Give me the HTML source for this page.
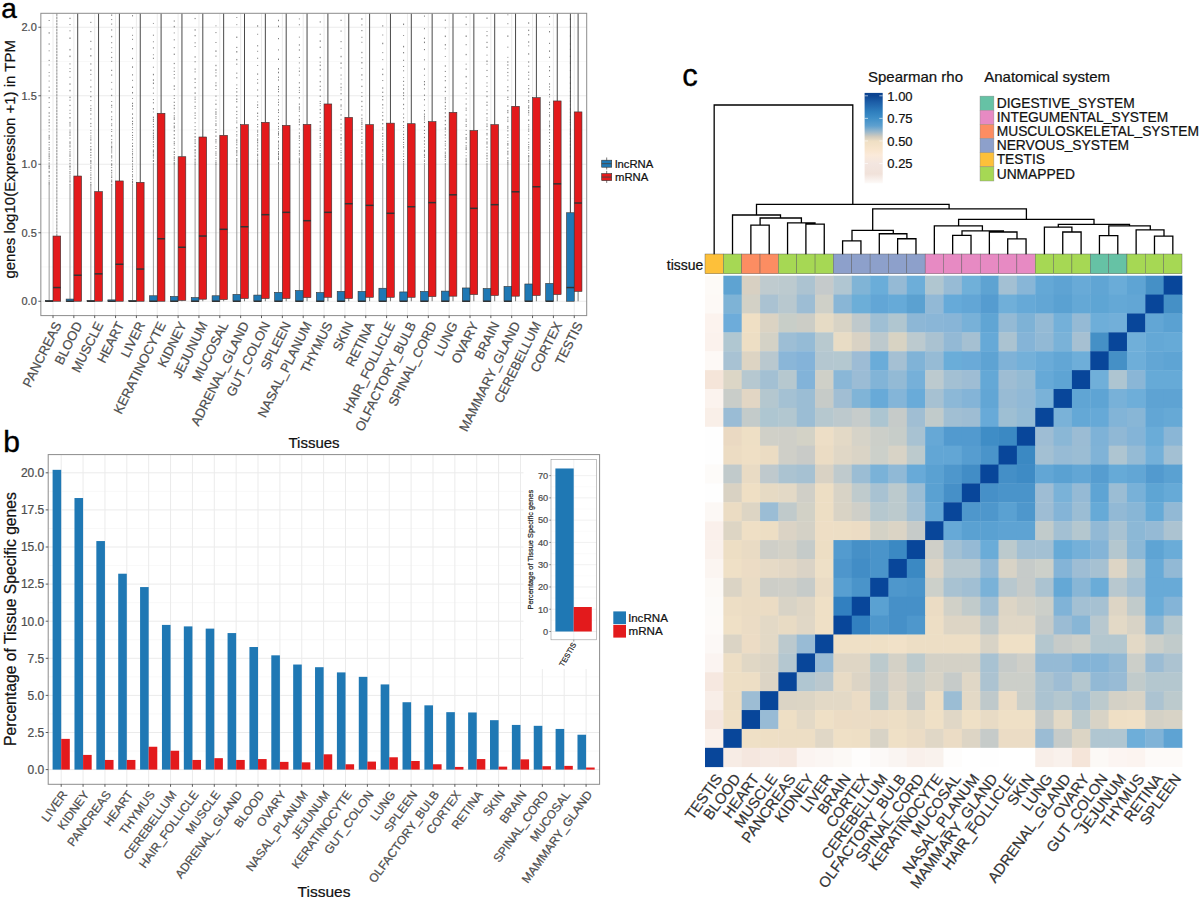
<!DOCTYPE html>
<html><head><meta charset="utf-8"><style>
html,body{margin:0;padding:0;background:#fff;width:1200px;height:900px;overflow:hidden}
svg{display:block}
text{font-family:"Liberation Sans", sans-serif}
</style></head><body>
<svg width="1200" height="900" viewBox="0 0 1200 900">
<rect width="1200" height="900" fill="#fff"/>
<rect x="40.85" y="13.3" width="545.85" height="302.3" fill="#fff"/>
<line x1="40.85" x2="586.7" y1="267" y2="267" stroke="#f4f4f4" stroke-width="0.6"/>
<line x1="40.85" x2="586.7" y1="198.5" y2="198.5" stroke="#f4f4f4" stroke-width="0.6"/>
<line x1="40.85" x2="586.7" y1="130" y2="130" stroke="#f4f4f4" stroke-width="0.6"/>
<line x1="40.85" x2="586.7" y1="61.5" y2="61.5" stroke="#f4f4f4" stroke-width="0.6"/>
<line x1="40.85" x2="586.7" y1="301.25" y2="301.25" stroke="#ebebeb" stroke-width="1"/>
<line x1="40.85" x2="586.7" y1="232.75" y2="232.75" stroke="#ebebeb" stroke-width="1"/>
<line x1="40.85" x2="586.7" y1="164.25" y2="164.25" stroke="#ebebeb" stroke-width="1"/>
<line x1="40.85" x2="586.7" y1="95.75" y2="95.75" stroke="#ebebeb" stroke-width="1"/>
<line x1="40.85" x2="586.7" y1="27.25" y2="27.25" stroke="#ebebeb" stroke-width="1"/>
<line x1="53" x2="53" y1="13.3" y2="315.6" stroke="#ebebeb" stroke-width="1"/>
<line x1="73.85" x2="73.85" y1="13.3" y2="315.6" stroke="#ebebeb" stroke-width="1"/>
<line x1="94.7" x2="94.7" y1="13.3" y2="315.6" stroke="#ebebeb" stroke-width="1"/>
<line x1="115.55" x2="115.55" y1="13.3" y2="315.6" stroke="#ebebeb" stroke-width="1"/>
<line x1="136.4" x2="136.4" y1="13.3" y2="315.6" stroke="#ebebeb" stroke-width="1"/>
<line x1="157.25" x2="157.25" y1="13.3" y2="315.6" stroke="#ebebeb" stroke-width="1"/>
<line x1="178.1" x2="178.1" y1="13.3" y2="315.6" stroke="#ebebeb" stroke-width="1"/>
<line x1="198.95" x2="198.95" y1="13.3" y2="315.6" stroke="#ebebeb" stroke-width="1"/>
<line x1="219.8" x2="219.8" y1="13.3" y2="315.6" stroke="#ebebeb" stroke-width="1"/>
<line x1="240.65" x2="240.65" y1="13.3" y2="315.6" stroke="#ebebeb" stroke-width="1"/>
<line x1="261.5" x2="261.5" y1="13.3" y2="315.6" stroke="#ebebeb" stroke-width="1"/>
<line x1="282.35" x2="282.35" y1="13.3" y2="315.6" stroke="#ebebeb" stroke-width="1"/>
<line x1="303.2" x2="303.2" y1="13.3" y2="315.6" stroke="#ebebeb" stroke-width="1"/>
<line x1="324.05" x2="324.05" y1="13.3" y2="315.6" stroke="#ebebeb" stroke-width="1"/>
<line x1="344.9" x2="344.9" y1="13.3" y2="315.6" stroke="#ebebeb" stroke-width="1"/>
<line x1="365.75" x2="365.75" y1="13.3" y2="315.6" stroke="#ebebeb" stroke-width="1"/>
<line x1="386.6" x2="386.6" y1="13.3" y2="315.6" stroke="#ebebeb" stroke-width="1"/>
<line x1="407.45" x2="407.45" y1="13.3" y2="315.6" stroke="#ebebeb" stroke-width="1"/>
<line x1="428.3" x2="428.3" y1="13.3" y2="315.6" stroke="#ebebeb" stroke-width="1"/>
<line x1="449.15" x2="449.15" y1="13.3" y2="315.6" stroke="#ebebeb" stroke-width="1"/>
<line x1="470" x2="470" y1="13.3" y2="315.6" stroke="#ebebeb" stroke-width="1"/>
<line x1="490.85" x2="490.85" y1="13.3" y2="315.6" stroke="#ebebeb" stroke-width="1"/>
<line x1="511.7" x2="511.7" y1="13.3" y2="315.6" stroke="#ebebeb" stroke-width="1"/>
<line x1="532.55" x2="532.55" y1="13.3" y2="315.6" stroke="#ebebeb" stroke-width="1"/>
<line x1="553.4" x2="553.4" y1="13.3" y2="315.6" stroke="#ebebeb" stroke-width="1"/>
<line x1="574.25" x2="574.25" y1="13.3" y2="315.6" stroke="#ebebeb" stroke-width="1"/>
<line x1="49.15" x2="49.15" y1="300.98" y2="184.8" stroke="#8f8f8f" stroke-width="0.9"/>
<rect x="48.65" y="183.8" width="1" height="1.06" fill="#7a7a7a"/>
<rect x="48.65" y="182.57" width="1" height="1.32" fill="#7a7a7a"/>
<rect x="48.65" y="181.52" width="1" height="1.23" fill="#7a7a7a"/>
<rect x="48.65" y="179.83" width="1" height="0.85" fill="#7a7a7a"/>
<rect x="48.65" y="177.83" width="1" height="0.83" fill="#7a7a7a"/>
<rect x="48.65" y="176" width="1" height="0.86" fill="#7a7a7a"/>
<rect x="48.65" y="174.9" width="1" height="1.14" fill="#7a7a7a"/>
<rect x="48.65" y="172.21" width="1" height="0.9" fill="#7a7a7a"/>
<rect x="48.65" y="170.83" width="1" height="1.3" fill="#7a7a7a"/>
<rect x="48.65" y="167.88" width="1" height="1.26" fill="#7a7a7a"/>
<rect x="48.65" y="166.13" width="1" height="1.58" fill="#7a7a7a"/>
<rect x="48.65" y="165.13" width="1" height="1.49" fill="#7a7a7a"/>
<rect x="48.65" y="163.6" width="1" height="0.92" fill="#7a7a7a"/>
<rect x="48.65" y="162.45" width="1" height="1.05" fill="#7a7a7a"/>
<rect x="48.65" y="159.77" width="1" height="0.94" fill="#7a7a7a"/>
<rect x="48.65" y="157.57" width="1" height="1.31" fill="#7a7a7a"/>
<rect x="48.65" y="155.79" width="1" height="1.24" fill="#7a7a7a"/>
<rect x="48.65" y="154.7" width="1" height="0.85" fill="#7a7a7a"/>
<rect x="48.65" y="153.27" width="1" height="1.34" fill="#7a7a7a"/>
<rect x="48.65" y="151.29" width="1" height="1.05" fill="#7a7a7a"/>
<rect x="48.65" y="148.9" width="1" height="1.16" fill="#7a7a7a"/>
<rect x="48.65" y="147.15" width="1" height="1.44" fill="#7a7a7a"/>
<rect x="48.65" y="144.35" width="1" height="1" fill="#7a7a7a"/>
<rect x="48.65" y="141.78" width="1" height="1.22" fill="#7a7a7a"/>
<rect x="48.65" y="138.32" width="1" height="1.38" fill="#7a7a7a"/>
<rect x="48.65" y="136.35" width="1" height="1.58" fill="#7a7a7a"/>
<rect x="48.65" y="134.81" width="1" height="1.13" fill="#7a7a7a"/>
<rect x="48.65" y="131.36" width="1" height="0.92" fill="#7a7a7a"/>
<rect x="48.65" y="128.58" width="1" height="0.83" fill="#7a7a7a"/>
<rect x="48.65" y="125.11" width="1" height="1.41" fill="#7a7a7a"/>
<rect x="48.65" y="121.79" width="1" height="1.5" fill="#7a7a7a"/>
<rect x="48.65" y="119.23" width="1" height="1.36" fill="#7a7a7a"/>
<rect x="48.65" y="115.56" width="1" height="1.26" fill="#7a7a7a"/>
<rect x="48.65" y="112.23" width="1" height="1.47" fill="#7a7a7a"/>
<rect x="48.65" y="106.81" width="1" height="1.18" fill="#7a7a7a"/>
<rect x="48.65" y="102.19" width="1" height="0.85" fill="#7a7a7a"/>
<rect x="48.65" y="97.11" width="1" height="1.32" fill="#7a7a7a"/>
<rect x="48.65" y="90.29" width="1" height="1.46" fill="#7a7a7a"/>
<rect x="48.65" y="86.61" width="1" height="1.11" fill="#7a7a7a"/>
<rect x="48.65" y="80.65" width="1" height="0.82" fill="#7a7a7a"/>
<rect x="48.65" y="75.49" width="1" height="0.93" fill="#7a7a7a"/>
<rect x="48.65" y="72.17" width="1" height="0.85" fill="#7a7a7a"/>
<rect x="48.65" y="64.51" width="1" height="0.9" fill="#7a7a7a"/>
<rect x="48.65" y="59.86" width="1" height="1.11" fill="#7a7a7a"/>
<rect x="48.65" y="50.4" width="1" height="0.86" fill="#7a7a7a"/>
<rect x="48.65" y="43.41" width="1" height="1.24" fill="#7a7a7a"/>
<rect x="48.65" y="32.2" width="1" height="1.46" fill="#7a7a7a"/>
<rect x="48.65" y="19.98" width="1" height="1.02" fill="#7a7a7a"/>
<line x1="56.85" x2="56.85" y1="236.04" y2="13.3" stroke="#8a8a8a" stroke-width="1" stroke-dasharray="2.5 0.6"/>
<rect x="45.3" y="300.45" width="7.7" height="0.8" fill="#1f78b4" stroke="#333" stroke-width="0.6"/>
<line x1="45.3" x2="53" y1="301.25" y2="301.25" stroke="#333" stroke-width="1.5"/>
<rect x="53" y="236.04" width="7.7" height="65.21" fill="#e31a1c" stroke="#333" stroke-width="0.6"/>
<line x1="53" x2="60.7" y1="287.55" y2="287.55" stroke="#333" stroke-width="1.5"/>
<line x1="70" x2="70" y1="299.06" y2="184.8" stroke="#8f8f8f" stroke-width="0.9"/>
<rect x="69.5" y="183.8" width="1" height="1.09" fill="#7a7a7a"/>
<rect x="69.5" y="180.99" width="1" height="1.57" fill="#7a7a7a"/>
<rect x="69.5" y="179.76" width="1" height="0.94" fill="#7a7a7a"/>
<rect x="69.5" y="178.36" width="1" height="0.99" fill="#7a7a7a"/>
<rect x="69.5" y="176.42" width="1" height="1.27" fill="#7a7a7a"/>
<rect x="69.5" y="174.95" width="1" height="0.8" fill="#7a7a7a"/>
<rect x="69.5" y="173.14" width="1" height="1.1" fill="#7a7a7a"/>
<rect x="69.5" y="171.02" width="1" height="1.56" fill="#7a7a7a"/>
<rect x="69.5" y="168.63" width="1" height="1.21" fill="#7a7a7a"/>
<rect x="69.5" y="166.39" width="1" height="1.34" fill="#7a7a7a"/>
<rect x="69.5" y="165.38" width="1" height="1.52" fill="#7a7a7a"/>
<rect x="69.5" y="162.79" width="1" height="1.5" fill="#7a7a7a"/>
<rect x="69.5" y="160.16" width="1" height="1.11" fill="#7a7a7a"/>
<rect x="69.5" y="158.36" width="1" height="0.88" fill="#7a7a7a"/>
<rect x="69.5" y="156.02" width="1" height="0.85" fill="#7a7a7a"/>
<rect x="69.5" y="154.92" width="1" height="0.97" fill="#7a7a7a"/>
<rect x="69.5" y="153.59" width="1" height="1.07" fill="#7a7a7a"/>
<rect x="69.5" y="152.5" width="1" height="0.8" fill="#7a7a7a"/>
<rect x="69.5" y="151.16" width="1" height="0.88" fill="#7a7a7a"/>
<rect x="69.5" y="149.29" width="1" height="0.82" fill="#7a7a7a"/>
<rect x="69.5" y="146.14" width="1" height="1.29" fill="#7a7a7a"/>
<rect x="69.5" y="144.71" width="1" height="1" fill="#7a7a7a"/>
<rect x="69.5" y="142.74" width="1" height="1.09" fill="#7a7a7a"/>
<rect x="69.5" y="141.31" width="1" height="1.48" fill="#7a7a7a"/>
<rect x="69.5" y="137.51" width="1" height="1.17" fill="#7a7a7a"/>
<rect x="69.5" y="134.96" width="1" height="0.87" fill="#7a7a7a"/>
<rect x="69.5" y="133.44" width="1" height="1.07" fill="#7a7a7a"/>
<rect x="69.5" y="131.4" width="1" height="1.46" fill="#7a7a7a"/>
<rect x="69.5" y="129.62" width="1" height="0.82" fill="#7a7a7a"/>
<rect x="69.5" y="125.31" width="1" height="1.22" fill="#7a7a7a"/>
<rect x="69.5" y="123.43" width="1" height="1.23" fill="#7a7a7a"/>
<rect x="69.5" y="121.91" width="1" height="1.22" fill="#7a7a7a"/>
<rect x="69.5" y="117.03" width="1" height="1.49" fill="#7a7a7a"/>
<rect x="69.5" y="112.87" width="1" height="1.01" fill="#7a7a7a"/>
<rect x="69.5" y="109.77" width="1" height="0.93" fill="#7a7a7a"/>
<rect x="69.5" y="104.88" width="1" height="1.23" fill="#7a7a7a"/>
<rect x="69.5" y="99.64" width="1" height="1.06" fill="#7a7a7a"/>
<rect x="69.5" y="96.64" width="1" height="1.45" fill="#7a7a7a"/>
<rect x="69.5" y="89.82" width="1" height="1.48" fill="#7a7a7a"/>
<rect x="69.5" y="83.36" width="1" height="1.45" fill="#7a7a7a"/>
<rect x="69.5" y="76.77" width="1" height="0.98" fill="#7a7a7a"/>
<rect x="69.5" y="71.03" width="1" height="1.08" fill="#7a7a7a"/>
<rect x="69.5" y="68.12" width="1" height="0.82" fill="#7a7a7a"/>
<rect x="69.5" y="63.42" width="1" height="1.01" fill="#7a7a7a"/>
<rect x="69.5" y="55.56" width="1" height="1.57" fill="#7a7a7a"/>
<rect x="69.5" y="48.94" width="1" height="1.55" fill="#7a7a7a"/>
<rect x="69.5" y="37.44" width="1" height="1.56" fill="#7a7a7a"/>
<rect x="69.5" y="30.33" width="1" height="0.98" fill="#7a7a7a"/>
<rect x="69.5" y="24.09" width="1" height="0.96" fill="#7a7a7a"/>
<rect x="69.5" y="17.73" width="1" height="1.3" fill="#7a7a7a"/>
<line x1="77.7" x2="77.7" y1="176.03" y2="13.3" stroke="#4a4a4a" stroke-width="1"/>
<rect x="66.15" y="299.06" width="7.7" height="2.19" fill="#1f78b4" stroke="#333" stroke-width="0.6"/>
<line x1="66.15" x2="73.85" y1="301.25" y2="301.25" stroke="#333" stroke-width="1.5"/>
<rect x="73.85" y="176.03" width="7.7" height="125.22" fill="#e31a1c" stroke="#333" stroke-width="0.6"/>
<line x1="73.85" x2="81.55" y1="275.22" y2="275.22" stroke="#333" stroke-width="1.5"/>
<line x1="90.85" x2="90.85" y1="300.84" y2="184.8" stroke="#8f8f8f" stroke-width="0.9"/>
<rect x="90.35" y="183.8" width="1" height="1.47" fill="#7a7a7a"/>
<rect x="90.35" y="181.86" width="1" height="1.32" fill="#7a7a7a"/>
<rect x="90.35" y="179.24" width="1" height="0.87" fill="#7a7a7a"/>
<rect x="90.35" y="176.91" width="1" height="1.53" fill="#7a7a7a"/>
<rect x="90.35" y="174.32" width="1" height="1.4" fill="#7a7a7a"/>
<rect x="90.35" y="172.39" width="1" height="0.94" fill="#7a7a7a"/>
<rect x="90.35" y="169.78" width="1" height="1.07" fill="#7a7a7a"/>
<rect x="90.35" y="167.15" width="1" height="1.58" fill="#7a7a7a"/>
<rect x="90.35" y="165.4" width="1" height="1.12" fill="#7a7a7a"/>
<rect x="90.35" y="162.45" width="1" height="1.38" fill="#7a7a7a"/>
<rect x="90.35" y="161.18" width="1" height="0.9" fill="#7a7a7a"/>
<rect x="90.35" y="159.94" width="1" height="1.52" fill="#7a7a7a"/>
<rect x="90.35" y="157.24" width="1" height="0.92" fill="#7a7a7a"/>
<rect x="90.35" y="154.45" width="1" height="1.58" fill="#7a7a7a"/>
<rect x="90.35" y="151.97" width="1" height="1.08" fill="#7a7a7a"/>
<rect x="90.35" y="149.68" width="1" height="0.9" fill="#7a7a7a"/>
<rect x="90.35" y="148.63" width="1" height="1.58" fill="#7a7a7a"/>
<rect x="90.35" y="146.01" width="1" height="1.22" fill="#7a7a7a"/>
<rect x="90.35" y="142.58" width="1" height="1.15" fill="#7a7a7a"/>
<rect x="90.35" y="139.16" width="1" height="1.46" fill="#7a7a7a"/>
<rect x="90.35" y="137.42" width="1" height="1" fill="#7a7a7a"/>
<rect x="90.35" y="135.41" width="1" height="0.99" fill="#7a7a7a"/>
<rect x="90.35" y="132.49" width="1" height="1.01" fill="#7a7a7a"/>
<rect x="90.35" y="129.96" width="1" height="0.9" fill="#7a7a7a"/>
<rect x="90.35" y="125.79" width="1" height="1.08" fill="#7a7a7a"/>
<rect x="90.35" y="122.89" width="1" height="1.27" fill="#7a7a7a"/>
<rect x="90.35" y="118.33" width="1" height="1.14" fill="#7a7a7a"/>
<rect x="90.35" y="113.43" width="1" height="1.2" fill="#7a7a7a"/>
<rect x="90.35" y="109.71" width="1" height="1.22" fill="#7a7a7a"/>
<rect x="90.35" y="107.91" width="1" height="1.15" fill="#7a7a7a"/>
<rect x="90.35" y="105.38" width="1" height="0.8" fill="#7a7a7a"/>
<rect x="90.35" y="100.09" width="1" height="0.94" fill="#7a7a7a"/>
<rect x="90.35" y="95.94" width="1" height="1.38" fill="#7a7a7a"/>
<rect x="90.35" y="91.16" width="1" height="1.06" fill="#7a7a7a"/>
<rect x="90.35" y="86.3" width="1" height="1.24" fill="#7a7a7a"/>
<rect x="90.35" y="79.69" width="1" height="0.88" fill="#7a7a7a"/>
<rect x="90.35" y="73.88" width="1" height="1" fill="#7a7a7a"/>
<rect x="90.35" y="69.49" width="1" height="1.42" fill="#7a7a7a"/>
<rect x="90.35" y="63.34" width="1" height="1.25" fill="#7a7a7a"/>
<rect x="90.35" y="55" width="1" height="1.53" fill="#7a7a7a"/>
<rect x="90.35" y="48.36" width="1" height="1.29" fill="#7a7a7a"/>
<rect x="90.35" y="40.77" width="1" height="1.21" fill="#7a7a7a"/>
<rect x="90.35" y="30.97" width="1" height="1.16" fill="#7a7a7a"/>
<rect x="90.35" y="21.81" width="1" height="1.18" fill="#7a7a7a"/>
<line x1="98.55" x2="98.55" y1="191.65" y2="13.3" stroke="#4a4a4a" stroke-width="1"/>
<rect x="87" y="300.45" width="7.7" height="0.8" fill="#1f78b4" stroke="#333" stroke-width="0.6"/>
<line x1="87" x2="94.7" y1="301.25" y2="301.25" stroke="#333" stroke-width="1.5"/>
<rect x="94.7" y="191.65" width="7.7" height="109.6" fill="#e31a1c" stroke="#333" stroke-width="0.6"/>
<line x1="94.7" x2="102.4" y1="273.85" y2="273.85" stroke="#333" stroke-width="1.5"/>
<line x1="111.7" x2="111.7" y1="299.88" y2="184.8" stroke="#8f8f8f" stroke-width="0.9"/>
<rect x="111.2" y="183.8" width="1" height="1.36" fill="#7a7a7a"/>
<rect x="111.2" y="181.01" width="1" height="1.55" fill="#7a7a7a"/>
<rect x="111.2" y="179.55" width="1" height="1.25" fill="#7a7a7a"/>
<rect x="111.2" y="176.61" width="1" height="1.47" fill="#7a7a7a"/>
<rect x="111.2" y="175.41" width="1" height="0.9" fill="#7a7a7a"/>
<rect x="111.2" y="173.56" width="1" height="0.86" fill="#7a7a7a"/>
<rect x="111.2" y="172.14" width="1" height="0.86" fill="#7a7a7a"/>
<rect x="111.2" y="169.79" width="1" height="1.43" fill="#7a7a7a"/>
<rect x="111.2" y="166.95" width="1" height="0.92" fill="#7a7a7a"/>
<rect x="111.2" y="164.51" width="1" height="1.33" fill="#7a7a7a"/>
<rect x="111.2" y="163.3" width="1" height="1.51" fill="#7a7a7a"/>
<rect x="111.2" y="160.3" width="1" height="0.98" fill="#7a7a7a"/>
<rect x="111.2" y="157.29" width="1" height="1.12" fill="#7a7a7a"/>
<rect x="111.2" y="155.26" width="1" height="1.59" fill="#7a7a7a"/>
<rect x="111.2" y="152.4" width="1" height="0.93" fill="#7a7a7a"/>
<rect x="111.2" y="150.4" width="1" height="1.21" fill="#7a7a7a"/>
<rect x="111.2" y="148.57" width="1" height="0.96" fill="#7a7a7a"/>
<rect x="111.2" y="146.76" width="1" height="1.38" fill="#7a7a7a"/>
<rect x="111.2" y="145.67" width="1" height="1.24" fill="#7a7a7a"/>
<rect x="111.2" y="143.48" width="1" height="0.81" fill="#7a7a7a"/>
<rect x="111.2" y="141.52" width="1" height="1.3" fill="#7a7a7a"/>
<rect x="111.2" y="139.03" width="1" height="0.85" fill="#7a7a7a"/>
<rect x="111.2" y="135.13" width="1" height="1.43" fill="#7a7a7a"/>
<rect x="111.2" y="131.07" width="1" height="0.88" fill="#7a7a7a"/>
<rect x="111.2" y="128.97" width="1" height="0.83" fill="#7a7a7a"/>
<rect x="111.2" y="125.17" width="1" height="1.02" fill="#7a7a7a"/>
<rect x="111.2" y="123.34" width="1" height="1.14" fill="#7a7a7a"/>
<rect x="111.2" y="118.78" width="1" height="1.46" fill="#7a7a7a"/>
<rect x="111.2" y="116.31" width="1" height="0.92" fill="#7a7a7a"/>
<rect x="111.2" y="111.27" width="1" height="1.26" fill="#7a7a7a"/>
<rect x="111.2" y="106.76" width="1" height="0.87" fill="#7a7a7a"/>
<rect x="111.2" y="104.73" width="1" height="1.35" fill="#7a7a7a"/>
<rect x="111.2" y="101.03" width="1" height="0.86" fill="#7a7a7a"/>
<rect x="111.2" y="94.79" width="1" height="1.31" fill="#7a7a7a"/>
<rect x="111.2" y="88.73" width="1" height="0.87" fill="#7a7a7a"/>
<rect x="111.2" y="81.92" width="1" height="0.85" fill="#7a7a7a"/>
<rect x="111.2" y="74.5" width="1" height="1.16" fill="#7a7a7a"/>
<rect x="111.2" y="69.75" width="1" height="1.24" fill="#7a7a7a"/>
<rect x="111.2" y="60.84" width="1" height="1.01" fill="#7a7a7a"/>
<rect x="111.2" y="56.87" width="1" height="1.22" fill="#7a7a7a"/>
<rect x="111.2" y="51.91" width="1" height="0.89" fill="#7a7a7a"/>
<rect x="111.2" y="47.31" width="1" height="0.84" fill="#7a7a7a"/>
<rect x="111.2" y="42.17" width="1" height="1.05" fill="#7a7a7a"/>
<rect x="111.2" y="35.88" width="1" height="1.41" fill="#7a7a7a"/>
<rect x="111.2" y="29.35" width="1" height="1.2" fill="#7a7a7a"/>
<rect x="111.2" y="23.54" width="1" height="1.08" fill="#7a7a7a"/>
<rect x="111.2" y="19.07" width="1" height="1" fill="#7a7a7a"/>
<rect x="111.2" y="14.46" width="1" height="1.39" fill="#7a7a7a"/>
<line x1="119.4" x2="119.4" y1="180.96" y2="13.3" stroke="#4a4a4a" stroke-width="1"/>
<rect x="107.85" y="299.88" width="7.7" height="1.37" fill="#1f78b4" stroke="#333" stroke-width="0.6"/>
<line x1="107.85" x2="115.55" y1="301.25" y2="301.25" stroke="#333" stroke-width="1.5"/>
<rect x="115.55" y="180.96" width="7.7" height="120.29" fill="#e31a1c" stroke="#333" stroke-width="0.6"/>
<line x1="115.55" x2="123.25" y1="264.26" y2="264.26" stroke="#333" stroke-width="1.5"/>
<line x1="132.55" x2="132.55" y1="300.56" y2="184.8" stroke="#8f8f8f" stroke-width="0.9"/>
<rect x="132.05" y="183.8" width="1" height="0.95" fill="#7a7a7a"/>
<rect x="132.05" y="181.87" width="1" height="1.55" fill="#7a7a7a"/>
<rect x="132.05" y="180.74" width="1" height="1.46" fill="#7a7a7a"/>
<rect x="132.05" y="178.91" width="1" height="1.2" fill="#7a7a7a"/>
<rect x="132.05" y="176.21" width="1" height="1.11" fill="#7a7a7a"/>
<rect x="132.05" y="174.21" width="1" height="1.35" fill="#7a7a7a"/>
<rect x="132.05" y="171.19" width="1" height="1.07" fill="#7a7a7a"/>
<rect x="132.05" y="168.49" width="1" height="1.37" fill="#7a7a7a"/>
<rect x="132.05" y="166.22" width="1" height="1.12" fill="#7a7a7a"/>
<rect x="132.05" y="164.57" width="1" height="0.84" fill="#7a7a7a"/>
<rect x="132.05" y="163.39" width="1" height="0.86" fill="#7a7a7a"/>
<rect x="132.05" y="160.88" width="1" height="1" fill="#7a7a7a"/>
<rect x="132.05" y="159.61" width="1" height="0.87" fill="#7a7a7a"/>
<rect x="132.05" y="156.84" width="1" height="1.5" fill="#7a7a7a"/>
<rect x="132.05" y="154.38" width="1" height="1.03" fill="#7a7a7a"/>
<rect x="132.05" y="152.86" width="1" height="1.03" fill="#7a7a7a"/>
<rect x="132.05" y="150.8" width="1" height="0.93" fill="#7a7a7a"/>
<rect x="132.05" y="148.73" width="1" height="1.01" fill="#7a7a7a"/>
<rect x="132.05" y="145.35" width="1" height="1.58" fill="#7a7a7a"/>
<rect x="132.05" y="142.88" width="1" height="1" fill="#7a7a7a"/>
<rect x="132.05" y="139.23" width="1" height="1.05" fill="#7a7a7a"/>
<rect x="132.05" y="137.09" width="1" height="0.8" fill="#7a7a7a"/>
<rect x="132.05" y="134.81" width="1" height="1.18" fill="#7a7a7a"/>
<rect x="132.05" y="132.11" width="1" height="0.96" fill="#7a7a7a"/>
<rect x="132.05" y="129.31" width="1" height="0.8" fill="#7a7a7a"/>
<rect x="132.05" y="127.15" width="1" height="0.87" fill="#7a7a7a"/>
<rect x="132.05" y="124.49" width="1" height="0.83" fill="#7a7a7a"/>
<rect x="132.05" y="123.01" width="1" height="1.04" fill="#7a7a7a"/>
<rect x="132.05" y="120.77" width="1" height="1.27" fill="#7a7a7a"/>
<rect x="132.05" y="117.41" width="1" height="1.4" fill="#7a7a7a"/>
<rect x="132.05" y="113.41" width="1" height="1.37" fill="#7a7a7a"/>
<rect x="132.05" y="108.33" width="1" height="1.11" fill="#7a7a7a"/>
<rect x="132.05" y="105.21" width="1" height="1.59" fill="#7a7a7a"/>
<rect x="132.05" y="102.74" width="1" height="1.38" fill="#7a7a7a"/>
<rect x="132.05" y="97.96" width="1" height="0.84" fill="#7a7a7a"/>
<rect x="132.05" y="91.97" width="1" height="1.51" fill="#7a7a7a"/>
<rect x="132.05" y="86.6" width="1" height="1.39" fill="#7a7a7a"/>
<rect x="132.05" y="79.85" width="1" height="0.91" fill="#7a7a7a"/>
<rect x="132.05" y="74.27" width="1" height="1.2" fill="#7a7a7a"/>
<rect x="132.05" y="66.37" width="1" height="1.44" fill="#7a7a7a"/>
<rect x="132.05" y="57.83" width="1" height="1.27" fill="#7a7a7a"/>
<rect x="132.05" y="48.01" width="1" height="1.35" fill="#7a7a7a"/>
<rect x="132.05" y="38.85" width="1" height="0.98" fill="#7a7a7a"/>
<rect x="132.05" y="34.82" width="1" height="0.91" fill="#7a7a7a"/>
<rect x="132.05" y="27.57" width="1" height="0.88" fill="#7a7a7a"/>
<rect x="132.05" y="15.13" width="1" height="1.25" fill="#7a7a7a"/>
<line x1="140.25" x2="140.25" y1="182.33" y2="13.3" stroke="#4a4a4a" stroke-width="1"/>
<rect x="128.7" y="300.45" width="7.7" height="0.8" fill="#1f78b4" stroke="#333" stroke-width="0.6"/>
<line x1="128.7" x2="136.4" y1="301.25" y2="301.25" stroke="#333" stroke-width="1.5"/>
<rect x="136.4" y="182.33" width="7.7" height="118.92" fill="#e31a1c" stroke="#333" stroke-width="0.6"/>
<line x1="136.4" x2="144.1" y1="269.06" y2="269.06" stroke="#333" stroke-width="1.5"/>
<line x1="153.4" x2="153.4" y1="295.77" y2="164.25" stroke="#8f8f8f" stroke-width="0.9"/>
<rect x="152.9" y="163.25" width="1" height="1.3" fill="#7a7a7a"/>
<rect x="152.9" y="160.87" width="1" height="1.19" fill="#7a7a7a"/>
<rect x="152.9" y="159.95" width="1" height="1.44" fill="#7a7a7a"/>
<rect x="152.9" y="157.39" width="1" height="1.2" fill="#7a7a7a"/>
<rect x="152.9" y="155.25" width="1" height="1.33" fill="#7a7a7a"/>
<rect x="152.9" y="154.14" width="1" height="1.39" fill="#7a7a7a"/>
<rect x="152.9" y="152.59" width="1" height="0.86" fill="#7a7a7a"/>
<rect x="152.9" y="150.99" width="1" height="1.38" fill="#7a7a7a"/>
<rect x="152.9" y="149.5" width="1" height="1.39" fill="#7a7a7a"/>
<rect x="152.9" y="146.11" width="1" height="1.2" fill="#7a7a7a"/>
<rect x="152.9" y="144.08" width="1" height="1.18" fill="#7a7a7a"/>
<rect x="152.9" y="141.22" width="1" height="1.41" fill="#7a7a7a"/>
<rect x="152.9" y="138.43" width="1" height="1.31" fill="#7a7a7a"/>
<rect x="152.9" y="137.05" width="1" height="0.92" fill="#7a7a7a"/>
<rect x="152.9" y="135.14" width="1" height="1.39" fill="#7a7a7a"/>
<rect x="152.9" y="133.03" width="1" height="1.25" fill="#7a7a7a"/>
<rect x="152.9" y="131.74" width="1" height="0.85" fill="#7a7a7a"/>
<rect x="152.9" y="129.64" width="1" height="1.34" fill="#7a7a7a"/>
<rect x="152.9" y="126.14" width="1" height="1.34" fill="#7a7a7a"/>
<rect x="152.9" y="123.81" width="1" height="1.21" fill="#7a7a7a"/>
<rect x="152.9" y="120.8" width="1" height="1.17" fill="#7a7a7a"/>
<rect x="152.9" y="118.9" width="1" height="1.51" fill="#7a7a7a"/>
<rect x="152.9" y="116.65" width="1" height="1.58" fill="#7a7a7a"/>
<rect x="152.9" y="111.57" width="1" height="0.81" fill="#7a7a7a"/>
<rect x="152.9" y="108.05" width="1" height="1.46" fill="#7a7a7a"/>
<rect x="152.9" y="102.22" width="1" height="1.16" fill="#7a7a7a"/>
<rect x="152.9" y="99.11" width="1" height="0.97" fill="#7a7a7a"/>
<rect x="152.9" y="92.69" width="1" height="0.97" fill="#7a7a7a"/>
<rect x="152.9" y="87.59" width="1" height="0.91" fill="#7a7a7a"/>
<rect x="152.9" y="82.49" width="1" height="1.56" fill="#7a7a7a"/>
<rect x="152.9" y="79.33" width="1" height="1.46" fill="#7a7a7a"/>
<rect x="152.9" y="73.8" width="1" height="1.51" fill="#7a7a7a"/>
<rect x="152.9" y="66.7" width="1" height="0.99" fill="#7a7a7a"/>
<rect x="152.9" y="57.7" width="1" height="1.19" fill="#7a7a7a"/>
<rect x="152.9" y="54.38" width="1" height="0.8" fill="#7a7a7a"/>
<rect x="152.9" y="47.33" width="1" height="1.16" fill="#7a7a7a"/>
<rect x="152.9" y="41.36" width="1" height="0.91" fill="#7a7a7a"/>
<rect x="152.9" y="34.68" width="1" height="1.05" fill="#7a7a7a"/>
<rect x="152.9" y="22.95" width="1" height="0.8" fill="#7a7a7a"/>
<line x1="161.1" x2="161.1" y1="113.29" y2="13.3" stroke="#4a4a4a" stroke-width="1"/>
<rect x="149.55" y="295.77" width="7.7" height="5.48" fill="#1f78b4" stroke="#333" stroke-width="0.6"/>
<line x1="149.55" x2="157.25" y1="301.25" y2="301.25" stroke="#333" stroke-width="1.5"/>
<rect x="157.25" y="113.29" width="7.7" height="187.96" fill="#e31a1c" stroke="#333" stroke-width="0.6"/>
<line x1="157.25" x2="164.95" y1="238.78" y2="238.78" stroke="#333" stroke-width="1.5"/>
<line x1="174.25" x2="174.25" y1="296.45" y2="164.25" stroke="#8f8f8f" stroke-width="0.9"/>
<rect x="173.75" y="163.25" width="1" height="1.47" fill="#7a7a7a"/>
<rect x="173.75" y="162.09" width="1" height="1.54" fill="#7a7a7a"/>
<rect x="173.75" y="159.63" width="1" height="1.52" fill="#7a7a7a"/>
<rect x="173.75" y="158.07" width="1" height="1.1" fill="#7a7a7a"/>
<rect x="173.75" y="156.26" width="1" height="1.6" fill="#7a7a7a"/>
<rect x="173.75" y="153.98" width="1" height="1.09" fill="#7a7a7a"/>
<rect x="173.75" y="152.02" width="1" height="1.02" fill="#7a7a7a"/>
<rect x="173.75" y="150.92" width="1" height="0.88" fill="#7a7a7a"/>
<rect x="173.75" y="147.92" width="1" height="1.03" fill="#7a7a7a"/>
<rect x="173.75" y="144.56" width="1" height="1" fill="#7a7a7a"/>
<rect x="173.75" y="142.8" width="1" height="1.21" fill="#7a7a7a"/>
<rect x="173.75" y="141.2" width="1" height="1.1" fill="#7a7a7a"/>
<rect x="173.75" y="137.49" width="1" height="1.51" fill="#7a7a7a"/>
<rect x="173.75" y="134.01" width="1" height="1.3" fill="#7a7a7a"/>
<rect x="173.75" y="130.06" width="1" height="1.55" fill="#7a7a7a"/>
<rect x="173.75" y="127.04" width="1" height="1.38" fill="#7a7a7a"/>
<rect x="173.75" y="125.51" width="1" height="1.39" fill="#7a7a7a"/>
<rect x="173.75" y="122.62" width="1" height="1.4" fill="#7a7a7a"/>
<rect x="173.75" y="118.94" width="1" height="1.03" fill="#7a7a7a"/>
<rect x="173.75" y="117.25" width="1" height="1.54" fill="#7a7a7a"/>
<rect x="173.75" y="115.22" width="1" height="1.18" fill="#7a7a7a"/>
<rect x="173.75" y="112.31" width="1" height="1.04" fill="#7a7a7a"/>
<rect x="173.75" y="107.71" width="1" height="1.58" fill="#7a7a7a"/>
<rect x="173.75" y="104.85" width="1" height="1.32" fill="#7a7a7a"/>
<rect x="173.75" y="101.7" width="1" height="1.25" fill="#7a7a7a"/>
<rect x="173.75" y="97.99" width="1" height="0.93" fill="#7a7a7a"/>
<rect x="173.75" y="95.23" width="1" height="0.97" fill="#7a7a7a"/>
<rect x="173.75" y="88.68" width="1" height="1.2" fill="#7a7a7a"/>
<rect x="173.75" y="85.27" width="1" height="1.53" fill="#7a7a7a"/>
<rect x="173.75" y="77.4" width="1" height="1.16" fill="#7a7a7a"/>
<rect x="173.75" y="74" width="1" height="0.95" fill="#7a7a7a"/>
<rect x="173.75" y="70.79" width="1" height="1.07" fill="#7a7a7a"/>
<rect x="173.75" y="67.46" width="1" height="0.99" fill="#7a7a7a"/>
<rect x="173.75" y="62.88" width="1" height="1.26" fill="#7a7a7a"/>
<rect x="173.75" y="53.59" width="1" height="1.4" fill="#7a7a7a"/>
<rect x="173.75" y="47.1" width="1" height="1.13" fill="#7a7a7a"/>
<rect x="173.75" y="39.27" width="1" height="1.1" fill="#7a7a7a"/>
<rect x="173.75" y="32.51" width="1" height="0.85" fill="#7a7a7a"/>
<rect x="173.75" y="25.9" width="1" height="1.57" fill="#7a7a7a"/>
<rect x="173.75" y="20.43" width="1" height="1.2" fill="#7a7a7a"/>
<line x1="181.95" x2="181.95" y1="156.72" y2="13.3" stroke="#4a4a4a" stroke-width="1"/>
<line x1="181.95" x2="181.95" y1="300.43" y2="301.25" stroke="#555" stroke-width="0.8"/>
<rect x="170.4" y="296.45" width="7.7" height="4.8" fill="#1f78b4" stroke="#333" stroke-width="0.6"/>
<line x1="170.4" x2="178.1" y1="301.25" y2="301.25" stroke="#333" stroke-width="1.5"/>
<rect x="178.1" y="156.72" width="7.7" height="143.71" fill="#e31a1c" stroke="#333" stroke-width="0.6"/>
<line x1="178.1" x2="185.8" y1="247.27" y2="247.27" stroke="#333" stroke-width="1.5"/>
<line x1="195.1" x2="195.1" y1="297.55" y2="164.25" stroke="#8f8f8f" stroke-width="0.9"/>
<rect x="194.6" y="163.25" width="1" height="1.49" fill="#7a7a7a"/>
<rect x="194.6" y="161.88" width="1" height="1.02" fill="#7a7a7a"/>
<rect x="194.6" y="160.43" width="1" height="1.12" fill="#7a7a7a"/>
<rect x="194.6" y="158.54" width="1" height="1.56" fill="#7a7a7a"/>
<rect x="194.6" y="155.72" width="1" height="1.5" fill="#7a7a7a"/>
<rect x="194.6" y="154.72" width="1" height="0.83" fill="#7a7a7a"/>
<rect x="194.6" y="152.13" width="1" height="1.52" fill="#7a7a7a"/>
<rect x="194.6" y="150.02" width="1" height="1.27" fill="#7a7a7a"/>
<rect x="194.6" y="149.01" width="1" height="1.11" fill="#7a7a7a"/>
<rect x="194.6" y="145.72" width="1" height="1.46" fill="#7a7a7a"/>
<rect x="194.6" y="142.48" width="1" height="1.58" fill="#7a7a7a"/>
<rect x="194.6" y="140.72" width="1" height="0.89" fill="#7a7a7a"/>
<rect x="194.6" y="139.16" width="1" height="1.22" fill="#7a7a7a"/>
<rect x="194.6" y="136.12" width="1" height="1.55" fill="#7a7a7a"/>
<rect x="194.6" y="132.83" width="1" height="1.32" fill="#7a7a7a"/>
<rect x="194.6" y="129.27" width="1" height="1.17" fill="#7a7a7a"/>
<rect x="194.6" y="126.21" width="1" height="0.83" fill="#7a7a7a"/>
<rect x="194.6" y="122.25" width="1" height="0.99" fill="#7a7a7a"/>
<rect x="194.6" y="117.59" width="1" height="1.32" fill="#7a7a7a"/>
<rect x="194.6" y="114.92" width="1" height="0.9" fill="#7a7a7a"/>
<rect x="194.6" y="112.35" width="1" height="1.31" fill="#7a7a7a"/>
<rect x="194.6" y="107.91" width="1" height="0.89" fill="#7a7a7a"/>
<rect x="194.6" y="105.85" width="1" height="1.22" fill="#7a7a7a"/>
<rect x="194.6" y="101.53" width="1" height="1.11" fill="#7a7a7a"/>
<rect x="194.6" y="98.6" width="1" height="1.28" fill="#7a7a7a"/>
<rect x="194.6" y="96.57" width="1" height="1.04" fill="#7a7a7a"/>
<rect x="194.6" y="92.3" width="1" height="1.57" fill="#7a7a7a"/>
<rect x="194.6" y="86.85" width="1" height="1.51" fill="#7a7a7a"/>
<rect x="194.6" y="81.97" width="1" height="0.99" fill="#7a7a7a"/>
<rect x="194.6" y="78.13" width="1" height="1.57" fill="#7a7a7a"/>
<rect x="194.6" y="71.35" width="1" height="1.05" fill="#7a7a7a"/>
<rect x="194.6" y="68.49" width="1" height="1.2" fill="#7a7a7a"/>
<rect x="194.6" y="61.16" width="1" height="1.14" fill="#7a7a7a"/>
<rect x="194.6" y="56.28" width="1" height="1.33" fill="#7a7a7a"/>
<rect x="194.6" y="46.05" width="1" height="0.98" fill="#7a7a7a"/>
<rect x="194.6" y="42.26" width="1" height="1.07" fill="#7a7a7a"/>
<rect x="194.6" y="34.97" width="1" height="1.35" fill="#7a7a7a"/>
<rect x="194.6" y="29.24" width="1" height="1.44" fill="#7a7a7a"/>
<rect x="194.6" y="17.93" width="1" height="1.2" fill="#7a7a7a"/>
<line x1="202.8" x2="202.8" y1="136.99" y2="13.3" stroke="#4a4a4a" stroke-width="1"/>
<line x1="202.8" x2="202.8" y1="299.19" y2="301.25" stroke="#555" stroke-width="0.8"/>
<rect x="191.25" y="297.55" width="7.7" height="3.7" fill="#1f78b4" stroke="#333" stroke-width="0.6"/>
<line x1="191.25" x2="198.95" y1="301.25" y2="301.25" stroke="#333" stroke-width="1.5"/>
<rect x="198.95" y="136.99" width="7.7" height="162.21" fill="#e31a1c" stroke="#333" stroke-width="0.6"/>
<line x1="198.95" x2="206.65" y1="236.04" y2="236.04" stroke="#333" stroke-width="1.5"/>
<line x1="215.95" x2="215.95" y1="295.77" y2="164.25" stroke="#8f8f8f" stroke-width="0.9"/>
<rect x="215.45" y="163.25" width="1" height="1.58" fill="#7a7a7a"/>
<rect x="215.45" y="161.67" width="1" height="1.46" fill="#7a7a7a"/>
<rect x="215.45" y="160.26" width="1" height="0.98" fill="#7a7a7a"/>
<rect x="215.45" y="157.67" width="1" height="1.04" fill="#7a7a7a"/>
<rect x="215.45" y="154.6" width="1" height="1.2" fill="#7a7a7a"/>
<rect x="215.45" y="153.21" width="1" height="0.98" fill="#7a7a7a"/>
<rect x="215.45" y="151.26" width="1" height="1.33" fill="#7a7a7a"/>
<rect x="215.45" y="148" width="1" height="0.92" fill="#7a7a7a"/>
<rect x="215.45" y="145.99" width="1" height="0.97" fill="#7a7a7a"/>
<rect x="215.45" y="142.46" width="1" height="0.91" fill="#7a7a7a"/>
<rect x="215.45" y="141.22" width="1" height="0.85" fill="#7a7a7a"/>
<rect x="215.45" y="139.03" width="1" height="1.52" fill="#7a7a7a"/>
<rect x="215.45" y="135.42" width="1" height="1.39" fill="#7a7a7a"/>
<rect x="215.45" y="131.31" width="1" height="1.55" fill="#7a7a7a"/>
<rect x="215.45" y="129.01" width="1" height="0.95" fill="#7a7a7a"/>
<rect x="215.45" y="124.71" width="1" height="1.4" fill="#7a7a7a"/>
<rect x="215.45" y="123.2" width="1" height="1.33" fill="#7a7a7a"/>
<rect x="215.45" y="120.46" width="1" height="1.1" fill="#7a7a7a"/>
<rect x="215.45" y="117.79" width="1" height="0.94" fill="#7a7a7a"/>
<rect x="215.45" y="116.24" width="1" height="1.02" fill="#7a7a7a"/>
<rect x="215.45" y="113.34" width="1" height="1.56" fill="#7a7a7a"/>
<rect x="215.45" y="111.22" width="1" height="1.57" fill="#7a7a7a"/>
<rect x="215.45" y="108.7" width="1" height="1.09" fill="#7a7a7a"/>
<rect x="215.45" y="103.53" width="1" height="1.46" fill="#7a7a7a"/>
<rect x="215.45" y="99.74" width="1" height="0.84" fill="#7a7a7a"/>
<rect x="215.45" y="95.57" width="1" height="1.1" fill="#7a7a7a"/>
<rect x="215.45" y="88.99" width="1" height="0.95" fill="#7a7a7a"/>
<rect x="215.45" y="84.82" width="1" height="1.52" fill="#7a7a7a"/>
<rect x="215.45" y="82.32" width="1" height="1.13" fill="#7a7a7a"/>
<rect x="215.45" y="75.23" width="1" height="1.41" fill="#7a7a7a"/>
<rect x="215.45" y="72.37" width="1" height="0.83" fill="#7a7a7a"/>
<rect x="215.45" y="69.29" width="1" height="1.54" fill="#7a7a7a"/>
<rect x="215.45" y="64.8" width="1" height="1.4" fill="#7a7a7a"/>
<rect x="215.45" y="55.61" width="1" height="1.07" fill="#7a7a7a"/>
<rect x="215.45" y="50.33" width="1" height="1.57" fill="#7a7a7a"/>
<rect x="215.45" y="41.98" width="1" height="1.01" fill="#7a7a7a"/>
<rect x="215.45" y="32.08" width="1" height="1.05" fill="#7a7a7a"/>
<rect x="215.45" y="25.47" width="1" height="0.8" fill="#7a7a7a"/>
<line x1="223.65" x2="223.65" y1="135.34" y2="13.3" stroke="#4a4a4a" stroke-width="1"/>
<line x1="223.65" x2="223.65" y1="299.61" y2="301.25" stroke="#555" stroke-width="0.8"/>
<rect x="212.1" y="295.77" width="7.7" height="5.48" fill="#1f78b4" stroke="#333" stroke-width="0.6"/>
<line x1="212.1" x2="219.8" y1="301.25" y2="301.25" stroke="#333" stroke-width="1.5"/>
<rect x="219.8" y="135.34" width="7.7" height="164.26" fill="#e31a1c" stroke="#333" stroke-width="0.6"/>
<line x1="219.8" x2="227.5" y1="229.32" y2="229.32" stroke="#333" stroke-width="1.5"/>
<line x1="236.8" x2="236.8" y1="294.4" y2="164.25" stroke="#8f8f8f" stroke-width="0.9"/>
<rect x="236.3" y="163.25" width="1" height="1.53" fill="#7a7a7a"/>
<rect x="236.3" y="160.98" width="1" height="1.55" fill="#7a7a7a"/>
<rect x="236.3" y="160.01" width="1" height="0.99" fill="#7a7a7a"/>
<rect x="236.3" y="158.05" width="1" height="1.57" fill="#7a7a7a"/>
<rect x="236.3" y="154.98" width="1" height="1.11" fill="#7a7a7a"/>
<rect x="236.3" y="153.45" width="1" height="1.14" fill="#7a7a7a"/>
<rect x="236.3" y="151.33" width="1" height="1.54" fill="#7a7a7a"/>
<rect x="236.3" y="149.9" width="1" height="1.44" fill="#7a7a7a"/>
<rect x="236.3" y="147.09" width="1" height="1.46" fill="#7a7a7a"/>
<rect x="236.3" y="144.11" width="1" height="1.29" fill="#7a7a7a"/>
<rect x="236.3" y="142.18" width="1" height="1.06" fill="#7a7a7a"/>
<rect x="236.3" y="140.1" width="1" height="1.43" fill="#7a7a7a"/>
<rect x="236.3" y="138.75" width="1" height="0.96" fill="#7a7a7a"/>
<rect x="236.3" y="135.49" width="1" height="1" fill="#7a7a7a"/>
<rect x="236.3" y="134.09" width="1" height="0.83" fill="#7a7a7a"/>
<rect x="236.3" y="131.21" width="1" height="1.06" fill="#7a7a7a"/>
<rect x="236.3" y="126.91" width="1" height="1.51" fill="#7a7a7a"/>
<rect x="236.3" y="122.31" width="1" height="1.01" fill="#7a7a7a"/>
<rect x="236.3" y="120.57" width="1" height="0.88" fill="#7a7a7a"/>
<rect x="236.3" y="117.31" width="1" height="1.37" fill="#7a7a7a"/>
<rect x="236.3" y="114.09" width="1" height="0.99" fill="#7a7a7a"/>
<rect x="236.3" y="110.85" width="1" height="1.3" fill="#7a7a7a"/>
<rect x="236.3" y="106.42" width="1" height="1.4" fill="#7a7a7a"/>
<rect x="236.3" y="100.99" width="1" height="1.33" fill="#7a7a7a"/>
<rect x="236.3" y="98.51" width="1" height="1.47" fill="#7a7a7a"/>
<rect x="236.3" y="95.14" width="1" height="1.25" fill="#7a7a7a"/>
<rect x="236.3" y="91.22" width="1" height="1.39" fill="#7a7a7a"/>
<rect x="236.3" y="88.03" width="1" height="1" fill="#7a7a7a"/>
<rect x="236.3" y="84.45" width="1" height="0.92" fill="#7a7a7a"/>
<rect x="236.3" y="77.13" width="1" height="1.26" fill="#7a7a7a"/>
<rect x="236.3" y="72.59" width="1" height="1.12" fill="#7a7a7a"/>
<rect x="236.3" y="63.53" width="1" height="1.21" fill="#7a7a7a"/>
<rect x="236.3" y="58.94" width="1" height="1.45" fill="#7a7a7a"/>
<rect x="236.3" y="51.01" width="1" height="1.59" fill="#7a7a7a"/>
<rect x="236.3" y="46.84" width="1" height="1.18" fill="#7a7a7a"/>
<rect x="236.3" y="36.53" width="1" height="1.47" fill="#7a7a7a"/>
<rect x="236.3" y="24.31" width="1" height="0.83" fill="#7a7a7a"/>
<rect x="236.3" y="17.05" width="1" height="0.9" fill="#7a7a7a"/>
<line x1="244.5" x2="244.5" y1="124.66" y2="13.3" stroke="#4a4a4a" stroke-width="1"/>
<line x1="244.5" x2="244.5" y1="298.51" y2="301.25" stroke="#555" stroke-width="0.8"/>
<rect x="232.95" y="294.4" width="7.7" height="6.85" fill="#1f78b4" stroke="#333" stroke-width="0.6"/>
<line x1="232.95" x2="240.65" y1="301.25" y2="301.25" stroke="#333" stroke-width="1.5"/>
<rect x="240.65" y="124.66" width="7.7" height="173.85" fill="#e31a1c" stroke="#333" stroke-width="0.6"/>
<line x1="240.65" x2="248.35" y1="226.72" y2="226.72" stroke="#333" stroke-width="1.5"/>
<line x1="257.65" x2="257.65" y1="295.08" y2="164.25" stroke="#8f8f8f" stroke-width="0.9"/>
<rect x="257.15" y="163.25" width="1" height="1.58" fill="#7a7a7a"/>
<rect x="257.15" y="161.09" width="1" height="1.54" fill="#7a7a7a"/>
<rect x="257.15" y="159.36" width="1" height="1.49" fill="#7a7a7a"/>
<rect x="257.15" y="157.44" width="1" height="1.01" fill="#7a7a7a"/>
<rect x="257.15" y="154.76" width="1" height="1.56" fill="#7a7a7a"/>
<rect x="257.15" y="153.56" width="1" height="1.28" fill="#7a7a7a"/>
<rect x="257.15" y="151.14" width="1" height="0.97" fill="#7a7a7a"/>
<rect x="257.15" y="149.27" width="1" height="0.91" fill="#7a7a7a"/>
<rect x="257.15" y="147.75" width="1" height="1" fill="#7a7a7a"/>
<rect x="257.15" y="145.22" width="1" height="1.32" fill="#7a7a7a"/>
<rect x="257.15" y="143.63" width="1" height="0.81" fill="#7a7a7a"/>
<rect x="257.15" y="141.69" width="1" height="1.34" fill="#7a7a7a"/>
<rect x="257.15" y="140.07" width="1" height="1.05" fill="#7a7a7a"/>
<rect x="257.15" y="138.38" width="1" height="1.44" fill="#7a7a7a"/>
<rect x="257.15" y="135.68" width="1" height="0.85" fill="#7a7a7a"/>
<rect x="257.15" y="134.17" width="1" height="1.12" fill="#7a7a7a"/>
<rect x="257.15" y="131.31" width="1" height="1.31" fill="#7a7a7a"/>
<rect x="257.15" y="129.74" width="1" height="0.93" fill="#7a7a7a"/>
<rect x="257.15" y="126.24" width="1" height="1.13" fill="#7a7a7a"/>
<rect x="257.15" y="123.94" width="1" height="1.05" fill="#7a7a7a"/>
<rect x="257.15" y="119.27" width="1" height="1.05" fill="#7a7a7a"/>
<rect x="257.15" y="115.7" width="1" height="1.09" fill="#7a7a7a"/>
<rect x="257.15" y="112.53" width="1" height="1.49" fill="#7a7a7a"/>
<rect x="257.15" y="106.92" width="1" height="1.09" fill="#7a7a7a"/>
<rect x="257.15" y="104.3" width="1" height="1.38" fill="#7a7a7a"/>
<rect x="257.15" y="101.56" width="1" height="0.8" fill="#7a7a7a"/>
<rect x="257.15" y="95.53" width="1" height="1.14" fill="#7a7a7a"/>
<rect x="257.15" y="89.43" width="1" height="1.12" fill="#7a7a7a"/>
<rect x="257.15" y="82.53" width="1" height="1.17" fill="#7a7a7a"/>
<rect x="257.15" y="79.2" width="1" height="0.81" fill="#7a7a7a"/>
<rect x="257.15" y="73.42" width="1" height="1.31" fill="#7a7a7a"/>
<rect x="257.15" y="64.97" width="1" height="0.87" fill="#7a7a7a"/>
<rect x="257.15" y="57.72" width="1" height="1.1" fill="#7a7a7a"/>
<rect x="257.15" y="50.81" width="1" height="0.92" fill="#7a7a7a"/>
<rect x="257.15" y="45.18" width="1" height="1.22" fill="#7a7a7a"/>
<rect x="257.15" y="33.8" width="1" height="0.89" fill="#7a7a7a"/>
<rect x="257.15" y="25.27" width="1" height="1.44" fill="#7a7a7a"/>
<line x1="265.35" x2="265.35" y1="122.33" y2="13.3" stroke="#4a4a4a" stroke-width="1"/>
<line x1="265.35" x2="265.35" y1="298.51" y2="301.25" stroke="#555" stroke-width="0.8"/>
<rect x="253.8" y="295.08" width="7.7" height="6.17" fill="#1f78b4" stroke="#333" stroke-width="0.6"/>
<line x1="253.8" x2="261.5" y1="301.25" y2="301.25" stroke="#333" stroke-width="1.5"/>
<rect x="261.5" y="122.33" width="7.7" height="176.18" fill="#e31a1c" stroke="#333" stroke-width="0.6"/>
<line x1="261.5" x2="269.2" y1="214.67" y2="214.67" stroke="#333" stroke-width="1.5"/>
<line x1="278.5" x2="278.5" y1="292.35" y2="164.25" stroke="#8f8f8f" stroke-width="0.9"/>
<rect x="278" y="163.25" width="1" height="0.96" fill="#7a7a7a"/>
<rect x="278" y="162.07" width="1" height="1.55" fill="#7a7a7a"/>
<rect x="278" y="159.04" width="1" height="1.19" fill="#7a7a7a"/>
<rect x="278" y="158" width="1" height="1.54" fill="#7a7a7a"/>
<rect x="278" y="156.2" width="1" height="1.52" fill="#7a7a7a"/>
<rect x="278" y="153.85" width="1" height="1.46" fill="#7a7a7a"/>
<rect x="278" y="152.51" width="1" height="1.43" fill="#7a7a7a"/>
<rect x="278" y="151" width="1" height="1.12" fill="#7a7a7a"/>
<rect x="278" y="147.98" width="1" height="1.46" fill="#7a7a7a"/>
<rect x="278" y="146.49" width="1" height="0.97" fill="#7a7a7a"/>
<rect x="278" y="144.43" width="1" height="1.21" fill="#7a7a7a"/>
<rect x="278" y="142.36" width="1" height="0.9" fill="#7a7a7a"/>
<rect x="278" y="140.6" width="1" height="1.38" fill="#7a7a7a"/>
<rect x="278" y="137.02" width="1" height="0.83" fill="#7a7a7a"/>
<rect x="278" y="134.23" width="1" height="1.41" fill="#7a7a7a"/>
<rect x="278" y="132.88" width="1" height="1.47" fill="#7a7a7a"/>
<rect x="278" y="131.27" width="1" height="1.28" fill="#7a7a7a"/>
<rect x="278" y="128.3" width="1" height="1.3" fill="#7a7a7a"/>
<rect x="278" y="125.98" width="1" height="1.14" fill="#7a7a7a"/>
<rect x="278" y="122.67" width="1" height="1.14" fill="#7a7a7a"/>
<rect x="278" y="118.94" width="1" height="1.16" fill="#7a7a7a"/>
<rect x="278" y="115.82" width="1" height="0.82" fill="#7a7a7a"/>
<rect x="278" y="111.89" width="1" height="1.19" fill="#7a7a7a"/>
<rect x="278" y="109.28" width="1" height="1.41" fill="#7a7a7a"/>
<rect x="278" y="104.32" width="1" height="1.17" fill="#7a7a7a"/>
<rect x="278" y="101.69" width="1" height="1.18" fill="#7a7a7a"/>
<rect x="278" y="99.3" width="1" height="0.9" fill="#7a7a7a"/>
<rect x="278" y="95.31" width="1" height="0.87" fill="#7a7a7a"/>
<rect x="278" y="91.07" width="1" height="1.21" fill="#7a7a7a"/>
<rect x="278" y="88.69" width="1" height="1.31" fill="#7a7a7a"/>
<rect x="278" y="86.01" width="1" height="1.39" fill="#7a7a7a"/>
<rect x="278" y="79.41" width="1" height="1.21" fill="#7a7a7a"/>
<rect x="278" y="76.61" width="1" height="1.2" fill="#7a7a7a"/>
<rect x="278" y="71.72" width="1" height="1.56" fill="#7a7a7a"/>
<rect x="278" y="68.13" width="1" height="1.49" fill="#7a7a7a"/>
<rect x="278" y="58.6" width="1" height="1.39" fill="#7a7a7a"/>
<rect x="278" y="49.44" width="1" height="0.95" fill="#7a7a7a"/>
<rect x="278" y="38.05" width="1" height="1.19" fill="#7a7a7a"/>
<rect x="278" y="25.61" width="1" height="1.53" fill="#7a7a7a"/>
<rect x="278" y="19.74" width="1" height="1.43" fill="#7a7a7a"/>
<line x1="286.2" x2="286.2" y1="125.34" y2="13.3" stroke="#4a4a4a" stroke-width="1"/>
<line x1="286.2" x2="286.2" y1="298.51" y2="301.25" stroke="#555" stroke-width="0.8"/>
<rect x="274.65" y="292.35" width="7.7" height="8.9" fill="#1f78b4" stroke="#333" stroke-width="0.6"/>
<line x1="274.65" x2="282.35" y1="301.25" y2="301.25" stroke="#333" stroke-width="1.5"/>
<rect x="282.35" y="125.34" width="7.7" height="173.17" fill="#e31a1c" stroke="#333" stroke-width="0.6"/>
<line x1="282.35" x2="290.05" y1="212.34" y2="212.34" stroke="#333" stroke-width="1.5"/>
<line x1="299.35" x2="299.35" y1="290.56" y2="164.25" stroke="#8f8f8f" stroke-width="0.9"/>
<rect x="298.85" y="163.25" width="1" height="0.85" fill="#7a7a7a"/>
<rect x="298.85" y="161.59" width="1" height="1.4" fill="#7a7a7a"/>
<rect x="298.85" y="160.33" width="1" height="1.52" fill="#7a7a7a"/>
<rect x="298.85" y="158.81" width="1" height="1.45" fill="#7a7a7a"/>
<rect x="298.85" y="157.57" width="1" height="1.2" fill="#7a7a7a"/>
<rect x="298.85" y="154.57" width="1" height="0.97" fill="#7a7a7a"/>
<rect x="298.85" y="153" width="1" height="1.2" fill="#7a7a7a"/>
<rect x="298.85" y="151.28" width="1" height="0.83" fill="#7a7a7a"/>
<rect x="298.85" y="149.85" width="1" height="0.93" fill="#7a7a7a"/>
<rect x="298.85" y="146.57" width="1" height="1.34" fill="#7a7a7a"/>
<rect x="298.85" y="143.26" width="1" height="0.93" fill="#7a7a7a"/>
<rect x="298.85" y="140.1" width="1" height="0.89" fill="#7a7a7a"/>
<rect x="298.85" y="137.51" width="1" height="1.31" fill="#7a7a7a"/>
<rect x="298.85" y="135.31" width="1" height="1.5" fill="#7a7a7a"/>
<rect x="298.85" y="132.47" width="1" height="1.26" fill="#7a7a7a"/>
<rect x="298.85" y="128.53" width="1" height="0.88" fill="#7a7a7a"/>
<rect x="298.85" y="124.02" width="1" height="1.3" fill="#7a7a7a"/>
<rect x="298.85" y="121.27" width="1" height="1.44" fill="#7a7a7a"/>
<rect x="298.85" y="118.86" width="1" height="1.59" fill="#7a7a7a"/>
<rect x="298.85" y="115.24" width="1" height="1.09" fill="#7a7a7a"/>
<rect x="298.85" y="110.71" width="1" height="1.15" fill="#7a7a7a"/>
<rect x="298.85" y="108.3" width="1" height="1.39" fill="#7a7a7a"/>
<rect x="298.85" y="106.35" width="1" height="1.46" fill="#7a7a7a"/>
<rect x="298.85" y="103.46" width="1" height="1.31" fill="#7a7a7a"/>
<rect x="298.85" y="97.21" width="1" height="1.27" fill="#7a7a7a"/>
<rect x="298.85" y="91.99" width="1" height="1.05" fill="#7a7a7a"/>
<rect x="298.85" y="89.84" width="1" height="0.83" fill="#7a7a7a"/>
<rect x="298.85" y="86.85" width="1" height="1.29" fill="#7a7a7a"/>
<rect x="298.85" y="82.2" width="1" height="1.21" fill="#7a7a7a"/>
<rect x="298.85" y="74.62" width="1" height="0.91" fill="#7a7a7a"/>
<rect x="298.85" y="70.58" width="1" height="1.32" fill="#7a7a7a"/>
<rect x="298.85" y="67.69" width="1" height="0.8" fill="#7a7a7a"/>
<rect x="298.85" y="62.46" width="1" height="0.89" fill="#7a7a7a"/>
<rect x="298.85" y="56.93" width="1" height="0.98" fill="#7a7a7a"/>
<rect x="298.85" y="49.36" width="1" height="1.27" fill="#7a7a7a"/>
<rect x="298.85" y="44.3" width="1" height="1.3" fill="#7a7a7a"/>
<rect x="298.85" y="36.67" width="1" height="0.91" fill="#7a7a7a"/>
<rect x="298.85" y="24.26" width="1" height="0.99" fill="#7a7a7a"/>
<rect x="298.85" y="18.48" width="1" height="0.88" fill="#7a7a7a"/>
<line x1="307.05" x2="307.05" y1="124.38" y2="13.3" stroke="#4a4a4a" stroke-width="1"/>
<line x1="307.05" x2="307.05" y1="297.55" y2="301.25" stroke="#555" stroke-width="0.8"/>
<rect x="295.5" y="290.56" width="7.7" height="10.69" fill="#1f78b4" stroke="#333" stroke-width="0.6"/>
<line x1="295.5" x2="303.2" y1="301.25" y2="301.25" stroke="#333" stroke-width="1.5"/>
<rect x="303.2" y="124.38" width="7.7" height="173.17" fill="#e31a1c" stroke="#333" stroke-width="0.6"/>
<line x1="303.2" x2="310.9" y1="220.69" y2="220.69" stroke="#333" stroke-width="1.5"/>
<line x1="320.2" x2="320.2" y1="292.48" y2="164.25" stroke="#8f8f8f" stroke-width="0.9"/>
<rect x="319.7" y="163.25" width="1" height="1.5" fill="#7a7a7a"/>
<rect x="319.7" y="160.65" width="1" height="1.12" fill="#7a7a7a"/>
<rect x="319.7" y="159.16" width="1" height="0.81" fill="#7a7a7a"/>
<rect x="319.7" y="156.81" width="1" height="1.25" fill="#7a7a7a"/>
<rect x="319.7" y="155.08" width="1" height="1.32" fill="#7a7a7a"/>
<rect x="319.7" y="153.1" width="1" height="1.55" fill="#7a7a7a"/>
<rect x="319.7" y="150.41" width="1" height="1" fill="#7a7a7a"/>
<rect x="319.7" y="147.23" width="1" height="0.84" fill="#7a7a7a"/>
<rect x="319.7" y="144.85" width="1" height="1.12" fill="#7a7a7a"/>
<rect x="319.7" y="143.17" width="1" height="0.85" fill="#7a7a7a"/>
<rect x="319.7" y="140.02" width="1" height="0.81" fill="#7a7a7a"/>
<rect x="319.7" y="137.37" width="1" height="1.55" fill="#7a7a7a"/>
<rect x="319.7" y="135.79" width="1" height="0.96" fill="#7a7a7a"/>
<rect x="319.7" y="132.82" width="1" height="1.21" fill="#7a7a7a"/>
<rect x="319.7" y="129.62" width="1" height="1.45" fill="#7a7a7a"/>
<rect x="319.7" y="127.76" width="1" height="1.05" fill="#7a7a7a"/>
<rect x="319.7" y="125.44" width="1" height="0.84" fill="#7a7a7a"/>
<rect x="319.7" y="121.09" width="1" height="1.43" fill="#7a7a7a"/>
<rect x="319.7" y="117.08" width="1" height="0.81" fill="#7a7a7a"/>
<rect x="319.7" y="112.37" width="1" height="1.4" fill="#7a7a7a"/>
<rect x="319.7" y="108.86" width="1" height="1.39" fill="#7a7a7a"/>
<rect x="319.7" y="105.24" width="1" height="0.98" fill="#7a7a7a"/>
<rect x="319.7" y="102.96" width="1" height="0.99" fill="#7a7a7a"/>
<rect x="319.7" y="100.91" width="1" height="1.07" fill="#7a7a7a"/>
<rect x="319.7" y="95.54" width="1" height="1.36" fill="#7a7a7a"/>
<rect x="319.7" y="89.31" width="1" height="1.37" fill="#7a7a7a"/>
<rect x="319.7" y="85.68" width="1" height="1.24" fill="#7a7a7a"/>
<rect x="319.7" y="80.95" width="1" height="1.43" fill="#7a7a7a"/>
<rect x="319.7" y="75.45" width="1" height="1.01" fill="#7a7a7a"/>
<rect x="319.7" y="68.85" width="1" height="1.57" fill="#7a7a7a"/>
<rect x="319.7" y="64.61" width="1" height="1.5" fill="#7a7a7a"/>
<rect x="319.7" y="61.59" width="1" height="1.01" fill="#7a7a7a"/>
<rect x="319.7" y="56.88" width="1" height="1.4" fill="#7a7a7a"/>
<rect x="319.7" y="46.57" width="1" height="1.4" fill="#7a7a7a"/>
<rect x="319.7" y="40.35" width="1" height="1.5" fill="#7a7a7a"/>
<rect x="319.7" y="33.74" width="1" height="0.99" fill="#7a7a7a"/>
<rect x="319.7" y="21.27" width="1" height="1.3" fill="#7a7a7a"/>
<line x1="327.9" x2="327.9" y1="103.97" y2="13.3" stroke="#4a4a4a" stroke-width="1"/>
<line x1="327.9" x2="327.9" y1="297.28" y2="301.25" stroke="#555" stroke-width="0.8"/>
<rect x="316.35" y="292.48" width="7.7" height="8.77" fill="#1f78b4" stroke="#333" stroke-width="0.6"/>
<line x1="316.35" x2="324.05" y1="301.25" y2="301.25" stroke="#333" stroke-width="1.5"/>
<rect x="324.05" y="103.97" width="7.7" height="193.31" fill="#e31a1c" stroke="#333" stroke-width="0.6"/>
<line x1="324.05" x2="331.75" y1="212.34" y2="212.34" stroke="#333" stroke-width="1.5"/>
<line x1="341.05" x2="341.05" y1="291.39" y2="164.25" stroke="#8f8f8f" stroke-width="0.9"/>
<rect x="340.55" y="163.25" width="1" height="1.33" fill="#7a7a7a"/>
<rect x="340.55" y="160.23" width="1" height="1.18" fill="#7a7a7a"/>
<rect x="340.55" y="157.47" width="1" height="1.36" fill="#7a7a7a"/>
<rect x="340.55" y="154.6" width="1" height="1.15" fill="#7a7a7a"/>
<rect x="340.55" y="151.97" width="1" height="1.26" fill="#7a7a7a"/>
<rect x="340.55" y="150.26" width="1" height="0.97" fill="#7a7a7a"/>
<rect x="340.55" y="147.75" width="1" height="0.86" fill="#7a7a7a"/>
<rect x="340.55" y="144.45" width="1" height="0.92" fill="#7a7a7a"/>
<rect x="340.55" y="143.3" width="1" height="0.89" fill="#7a7a7a"/>
<rect x="340.55" y="139.76" width="1" height="1.08" fill="#7a7a7a"/>
<rect x="340.55" y="138.23" width="1" height="0.82" fill="#7a7a7a"/>
<rect x="340.55" y="136.94" width="1" height="1.35" fill="#7a7a7a"/>
<rect x="340.55" y="133.94" width="1" height="1.36" fill="#7a7a7a"/>
<rect x="340.55" y="130.52" width="1" height="0.85" fill="#7a7a7a"/>
<rect x="340.55" y="127.38" width="1" height="1.09" fill="#7a7a7a"/>
<rect x="340.55" y="123.37" width="1" height="1.46" fill="#7a7a7a"/>
<rect x="340.55" y="118.88" width="1" height="0.85" fill="#7a7a7a"/>
<rect x="340.55" y="114.2" width="1" height="1.53" fill="#7a7a7a"/>
<rect x="340.55" y="108.92" width="1" height="0.89" fill="#7a7a7a"/>
<rect x="340.55" y="106.32" width="1" height="0.89" fill="#7a7a7a"/>
<rect x="340.55" y="104.38" width="1" height="1.48" fill="#7a7a7a"/>
<rect x="340.55" y="98.96" width="1" height="1.31" fill="#7a7a7a"/>
<rect x="340.55" y="93.09" width="1" height="1.31" fill="#7a7a7a"/>
<rect x="340.55" y="89.52" width="1" height="0.88" fill="#7a7a7a"/>
<rect x="340.55" y="86.79" width="1" height="1.41" fill="#7a7a7a"/>
<rect x="340.55" y="83.38" width="1" height="1.06" fill="#7a7a7a"/>
<rect x="340.55" y="78.6" width="1" height="0.82" fill="#7a7a7a"/>
<rect x="340.55" y="74.54" width="1" height="1.03" fill="#7a7a7a"/>
<rect x="340.55" y="67.42" width="1" height="1.09" fill="#7a7a7a"/>
<rect x="340.55" y="62.41" width="1" height="1.57" fill="#7a7a7a"/>
<rect x="340.55" y="55.82" width="1" height="1.48" fill="#7a7a7a"/>
<rect x="340.55" y="47.9" width="1" height="0.82" fill="#7a7a7a"/>
<rect x="340.55" y="41.04" width="1" height="1.15" fill="#7a7a7a"/>
<rect x="340.55" y="30.56" width="1" height="1.08" fill="#7a7a7a"/>
<rect x="340.55" y="19.7" width="1" height="1.23" fill="#7a7a7a"/>
<line x1="348.75" x2="348.75" y1="117.4" y2="13.3" stroke="#4a4a4a" stroke-width="1"/>
<line x1="348.75" x2="348.75" y1="298.51" y2="301.25" stroke="#555" stroke-width="0.8"/>
<rect x="337.2" y="291.39" width="7.7" height="9.86" fill="#1f78b4" stroke="#333" stroke-width="0.6"/>
<line x1="337.2" x2="344.9" y1="301.25" y2="301.25" stroke="#333" stroke-width="1.5"/>
<rect x="344.9" y="117.4" width="7.7" height="181.11" fill="#e31a1c" stroke="#333" stroke-width="0.6"/>
<line x1="344.9" x2="352.6" y1="203.71" y2="203.71" stroke="#333" stroke-width="1.5"/>
<line x1="361.9" x2="361.9" y1="291.39" y2="164.25" stroke="#8f8f8f" stroke-width="0.9"/>
<rect x="361.4" y="163.25" width="1" height="1.49" fill="#7a7a7a"/>
<rect x="361.4" y="162.15" width="1" height="1.46" fill="#7a7a7a"/>
<rect x="361.4" y="160.87" width="1" height="0.8" fill="#7a7a7a"/>
<rect x="361.4" y="159.52" width="1" height="1.41" fill="#7a7a7a"/>
<rect x="361.4" y="156.44" width="1" height="0.8" fill="#7a7a7a"/>
<rect x="361.4" y="154.38" width="1" height="1.19" fill="#7a7a7a"/>
<rect x="361.4" y="151.58" width="1" height="0.95" fill="#7a7a7a"/>
<rect x="361.4" y="149.41" width="1" height="1.08" fill="#7a7a7a"/>
<rect x="361.4" y="146.36" width="1" height="1.01" fill="#7a7a7a"/>
<rect x="361.4" y="142.93" width="1" height="1.03" fill="#7a7a7a"/>
<rect x="361.4" y="141.26" width="1" height="1.36" fill="#7a7a7a"/>
<rect x="361.4" y="138.79" width="1" height="0.89" fill="#7a7a7a"/>
<rect x="361.4" y="135.86" width="1" height="0.86" fill="#7a7a7a"/>
<rect x="361.4" y="132.37" width="1" height="1.36" fill="#7a7a7a"/>
<rect x="361.4" y="128.72" width="1" height="1.3" fill="#7a7a7a"/>
<rect x="361.4" y="126.25" width="1" height="1.12" fill="#7a7a7a"/>
<rect x="361.4" y="123.58" width="1" height="1.51" fill="#7a7a7a"/>
<rect x="361.4" y="121.86" width="1" height="1.51" fill="#7a7a7a"/>
<rect x="361.4" y="120.31" width="1" height="0.96" fill="#7a7a7a"/>
<rect x="361.4" y="117.88" width="1" height="1.52" fill="#7a7a7a"/>
<rect x="361.4" y="114.48" width="1" height="1.1" fill="#7a7a7a"/>
<rect x="361.4" y="109.45" width="1" height="0.99" fill="#7a7a7a"/>
<rect x="361.4" y="105.83" width="1" height="1.23" fill="#7a7a7a"/>
<rect x="361.4" y="100.75" width="1" height="1.4" fill="#7a7a7a"/>
<rect x="361.4" y="95.84" width="1" height="1.08" fill="#7a7a7a"/>
<rect x="361.4" y="92.19" width="1" height="0.92" fill="#7a7a7a"/>
<rect x="361.4" y="85.72" width="1" height="1.33" fill="#7a7a7a"/>
<rect x="361.4" y="79.3" width="1" height="0.94" fill="#7a7a7a"/>
<rect x="361.4" y="74.19" width="1" height="1.42" fill="#7a7a7a"/>
<rect x="361.4" y="67.9" width="1" height="0.9" fill="#7a7a7a"/>
<rect x="361.4" y="61.96" width="1" height="1.51" fill="#7a7a7a"/>
<rect x="361.4" y="57.25" width="1" height="0.95" fill="#7a7a7a"/>
<rect x="361.4" y="51.83" width="1" height="1.36" fill="#7a7a7a"/>
<rect x="361.4" y="41.8" width="1" height="0.92" fill="#7a7a7a"/>
<rect x="361.4" y="36.79" width="1" height="1" fill="#7a7a7a"/>
<rect x="361.4" y="29.98" width="1" height="1.22" fill="#7a7a7a"/>
<rect x="361.4" y="24.37" width="1" height="1.06" fill="#7a7a7a"/>
<rect x="361.4" y="18.18" width="1" height="1.58" fill="#7a7a7a"/>
<line x1="369.6" x2="369.6" y1="124.66" y2="13.3" stroke="#4a4a4a" stroke-width="1"/>
<line x1="369.6" x2="369.6" y1="297.28" y2="301.25" stroke="#555" stroke-width="0.8"/>
<rect x="358.05" y="291.39" width="7.7" height="9.86" fill="#1f78b4" stroke="#333" stroke-width="0.6"/>
<line x1="358.05" x2="365.75" y1="301.25" y2="301.25" stroke="#333" stroke-width="1.5"/>
<rect x="365.75" y="124.66" width="7.7" height="172.62" fill="#e31a1c" stroke="#333" stroke-width="0.6"/>
<line x1="365.75" x2="373.45" y1="205.35" y2="205.35" stroke="#333" stroke-width="1.5"/>
<line x1="382.75" x2="382.75" y1="288.24" y2="164.25" stroke="#8f8f8f" stroke-width="0.9"/>
<rect x="382.25" y="163.25" width="1" height="0.88" fill="#7a7a7a"/>
<rect x="382.25" y="160.26" width="1" height="0.88" fill="#7a7a7a"/>
<rect x="382.25" y="158.5" width="1" height="1.59" fill="#7a7a7a"/>
<rect x="382.25" y="155.81" width="1" height="1.39" fill="#7a7a7a"/>
<rect x="382.25" y="153.86" width="1" height="0.96" fill="#7a7a7a"/>
<rect x="382.25" y="151.41" width="1" height="0.89" fill="#7a7a7a"/>
<rect x="382.25" y="149.93" width="1" height="1.11" fill="#7a7a7a"/>
<rect x="382.25" y="148.84" width="1" height="1.12" fill="#7a7a7a"/>
<rect x="382.25" y="145.87" width="1" height="1.35" fill="#7a7a7a"/>
<rect x="382.25" y="143.54" width="1" height="1.31" fill="#7a7a7a"/>
<rect x="382.25" y="141.24" width="1" height="0.91" fill="#7a7a7a"/>
<rect x="382.25" y="138.48" width="1" height="1.12" fill="#7a7a7a"/>
<rect x="382.25" y="135.25" width="1" height="1.53" fill="#7a7a7a"/>
<rect x="382.25" y="132.78" width="1" height="1.26" fill="#7a7a7a"/>
<rect x="382.25" y="129.26" width="1" height="1.14" fill="#7a7a7a"/>
<rect x="382.25" y="127.21" width="1" height="1.38" fill="#7a7a7a"/>
<rect x="382.25" y="122.99" width="1" height="1.42" fill="#7a7a7a"/>
<rect x="382.25" y="119.14" width="1" height="1.48" fill="#7a7a7a"/>
<rect x="382.25" y="115.15" width="1" height="1.31" fill="#7a7a7a"/>
<rect x="382.25" y="111.82" width="1" height="1.05" fill="#7a7a7a"/>
<rect x="382.25" y="107.63" width="1" height="0.88" fill="#7a7a7a"/>
<rect x="382.25" y="104.09" width="1" height="1.43" fill="#7a7a7a"/>
<rect x="382.25" y="99.09" width="1" height="1.3" fill="#7a7a7a"/>
<rect x="382.25" y="95.94" width="1" height="1.14" fill="#7a7a7a"/>
<rect x="382.25" y="91.66" width="1" height="1.3" fill="#7a7a7a"/>
<rect x="382.25" y="87.39" width="1" height="1.34" fill="#7a7a7a"/>
<rect x="382.25" y="80.07" width="1" height="0.95" fill="#7a7a7a"/>
<rect x="382.25" y="73.73" width="1" height="1.42" fill="#7a7a7a"/>
<rect x="382.25" y="68.62" width="1" height="1.19" fill="#7a7a7a"/>
<rect x="382.25" y="59.29" width="1" height="0.83" fill="#7a7a7a"/>
<rect x="382.25" y="52.19" width="1" height="0.93" fill="#7a7a7a"/>
<rect x="382.25" y="42.69" width="1" height="1.55" fill="#7a7a7a"/>
<rect x="382.25" y="34.56" width="1" height="0.88" fill="#7a7a7a"/>
<rect x="382.25" y="25.3" width="1" height="1.23" fill="#7a7a7a"/>
<line x1="390.45" x2="390.45" y1="123.15" y2="13.3" stroke="#4a4a4a" stroke-width="1"/>
<line x1="390.45" x2="390.45" y1="297.28" y2="301.25" stroke="#555" stroke-width="0.8"/>
<rect x="378.9" y="288.24" width="7.7" height="13.01" fill="#1f78b4" stroke="#333" stroke-width="0.6"/>
<line x1="378.9" x2="386.6" y1="301.25" y2="301.25" stroke="#333" stroke-width="1.5"/>
<rect x="386.6" y="123.15" width="7.7" height="174.13" fill="#e31a1c" stroke="#333" stroke-width="0.6"/>
<line x1="386.6" x2="394.3" y1="213.3" y2="213.3" stroke="#333" stroke-width="1.5"/>
<line x1="403.6" x2="403.6" y1="291.93" y2="164.25" stroke="#8f8f8f" stroke-width="0.9"/>
<rect x="403.1" y="163.25" width="1" height="1.21" fill="#7a7a7a"/>
<rect x="403.1" y="160.96" width="1" height="1.46" fill="#7a7a7a"/>
<rect x="403.1" y="158.91" width="1" height="1.13" fill="#7a7a7a"/>
<rect x="403.1" y="155.88" width="1" height="0.97" fill="#7a7a7a"/>
<rect x="403.1" y="153.37" width="1" height="1.11" fill="#7a7a7a"/>
<rect x="403.1" y="150.62" width="1" height="0.9" fill="#7a7a7a"/>
<rect x="403.1" y="147.25" width="1" height="1.08" fill="#7a7a7a"/>
<rect x="403.1" y="146.07" width="1" height="1.02" fill="#7a7a7a"/>
<rect x="403.1" y="144" width="1" height="0.81" fill="#7a7a7a"/>
<rect x="403.1" y="141.82" width="1" height="1.14" fill="#7a7a7a"/>
<rect x="403.1" y="138.84" width="1" height="1.08" fill="#7a7a7a"/>
<rect x="403.1" y="136.94" width="1" height="0.98" fill="#7a7a7a"/>
<rect x="403.1" y="133.63" width="1" height="1.55" fill="#7a7a7a"/>
<rect x="403.1" y="130.82" width="1" height="0.98" fill="#7a7a7a"/>
<rect x="403.1" y="127.04" width="1" height="1.11" fill="#7a7a7a"/>
<rect x="403.1" y="124.99" width="1" height="0.9" fill="#7a7a7a"/>
<rect x="403.1" y="120.98" width="1" height="1.45" fill="#7a7a7a"/>
<rect x="403.1" y="117.26" width="1" height="1.18" fill="#7a7a7a"/>
<rect x="403.1" y="113.61" width="1" height="0.98" fill="#7a7a7a"/>
<rect x="403.1" y="108.21" width="1" height="1.08" fill="#7a7a7a"/>
<rect x="403.1" y="103.77" width="1" height="1.45" fill="#7a7a7a"/>
<rect x="403.1" y="98.29" width="1" height="1.17" fill="#7a7a7a"/>
<rect x="403.1" y="94.9" width="1" height="1.24" fill="#7a7a7a"/>
<rect x="403.1" y="92.21" width="1" height="1.47" fill="#7a7a7a"/>
<rect x="403.1" y="88.25" width="1" height="1.48" fill="#7a7a7a"/>
<rect x="403.1" y="84.57" width="1" height="1.1" fill="#7a7a7a"/>
<rect x="403.1" y="80.8" width="1" height="1.14" fill="#7a7a7a"/>
<rect x="403.1" y="77.26" width="1" height="0.8" fill="#7a7a7a"/>
<rect x="403.1" y="70.31" width="1" height="1.02" fill="#7a7a7a"/>
<rect x="403.1" y="65.95" width="1" height="1.04" fill="#7a7a7a"/>
<rect x="403.1" y="59.77" width="1" height="1.14" fill="#7a7a7a"/>
<rect x="403.1" y="52.02" width="1" height="1.33" fill="#7a7a7a"/>
<rect x="403.1" y="45.83" width="1" height="1.54" fill="#7a7a7a"/>
<rect x="403.1" y="35.12" width="1" height="0.85" fill="#7a7a7a"/>
<rect x="403.1" y="23.54" width="1" height="1.52" fill="#7a7a7a"/>
<line x1="411.3" x2="411.3" y1="123.7" y2="13.3" stroke="#4a4a4a" stroke-width="1"/>
<line x1="411.3" x2="411.3" y1="297.28" y2="301.25" stroke="#555" stroke-width="0.8"/>
<rect x="399.75" y="291.93" width="7.7" height="9.32" fill="#1f78b4" stroke="#333" stroke-width="0.6"/>
<line x1="399.75" x2="407.45" y1="301.25" y2="301.25" stroke="#333" stroke-width="1.5"/>
<rect x="407.45" y="123.7" width="7.7" height="173.58" fill="#e31a1c" stroke="#333" stroke-width="0.6"/>
<line x1="407.45" x2="415.15" y1="206.72" y2="206.72" stroke="#333" stroke-width="1.5"/>
<line x1="424.45" x2="424.45" y1="291.39" y2="164.25" stroke="#8f8f8f" stroke-width="0.9"/>
<rect x="423.95" y="163.25" width="1" height="0.91" fill="#7a7a7a"/>
<rect x="423.95" y="160.55" width="1" height="1.31" fill="#7a7a7a"/>
<rect x="423.95" y="159.6" width="1" height="0.81" fill="#7a7a7a"/>
<rect x="423.95" y="156.58" width="1" height="1.32" fill="#7a7a7a"/>
<rect x="423.95" y="155.07" width="1" height="0.88" fill="#7a7a7a"/>
<rect x="423.95" y="153.79" width="1" height="0.99" fill="#7a7a7a"/>
<rect x="423.95" y="151.01" width="1" height="1.08" fill="#7a7a7a"/>
<rect x="423.95" y="149.65" width="1" height="1.52" fill="#7a7a7a"/>
<rect x="423.95" y="146.71" width="1" height="0.93" fill="#7a7a7a"/>
<rect x="423.95" y="143.42" width="1" height="1.29" fill="#7a7a7a"/>
<rect x="423.95" y="140.28" width="1" height="1.33" fill="#7a7a7a"/>
<rect x="423.95" y="136.7" width="1" height="1.43" fill="#7a7a7a"/>
<rect x="423.95" y="133.1" width="1" height="0.96" fill="#7a7a7a"/>
<rect x="423.95" y="129.77" width="1" height="1.22" fill="#7a7a7a"/>
<rect x="423.95" y="126.13" width="1" height="1.15" fill="#7a7a7a"/>
<rect x="423.95" y="121.83" width="1" height="1.24" fill="#7a7a7a"/>
<rect x="423.95" y="119.44" width="1" height="0.99" fill="#7a7a7a"/>
<rect x="423.95" y="117.43" width="1" height="1.19" fill="#7a7a7a"/>
<rect x="423.95" y="115.67" width="1" height="1.17" fill="#7a7a7a"/>
<rect x="423.95" y="113.53" width="1" height="1.19" fill="#7a7a7a"/>
<rect x="423.95" y="109.95" width="1" height="1.23" fill="#7a7a7a"/>
<rect x="423.95" y="104.69" width="1" height="0.81" fill="#7a7a7a"/>
<rect x="423.95" y="99.16" width="1" height="1.17" fill="#7a7a7a"/>
<rect x="423.95" y="94.55" width="1" height="1.33" fill="#7a7a7a"/>
<rect x="423.95" y="88.27" width="1" height="1.1" fill="#7a7a7a"/>
<rect x="423.95" y="83.78" width="1" height="1.57" fill="#7a7a7a"/>
<rect x="423.95" y="80.99" width="1" height="1.31" fill="#7a7a7a"/>
<rect x="423.95" y="74.82" width="1" height="0.82" fill="#7a7a7a"/>
<rect x="423.95" y="68.38" width="1" height="1.35" fill="#7a7a7a"/>
<rect x="423.95" y="59.31" width="1" height="1.06" fill="#7a7a7a"/>
<rect x="423.95" y="48.98" width="1" height="1.21" fill="#7a7a7a"/>
<rect x="423.95" y="41.61" width="1" height="1.52" fill="#7a7a7a"/>
<rect x="423.95" y="37.66" width="1" height="1.37" fill="#7a7a7a"/>
<rect x="423.95" y="28.19" width="1" height="1.07" fill="#7a7a7a"/>
<rect x="423.95" y="15.56" width="1" height="1.09" fill="#7a7a7a"/>
<line x1="432.15" x2="432.15" y1="121.64" y2="13.3" stroke="#4a4a4a" stroke-width="1"/>
<line x1="432.15" x2="432.15" y1="296.59" y2="301.25" stroke="#555" stroke-width="0.8"/>
<rect x="420.6" y="291.39" width="7.7" height="9.86" fill="#1f78b4" stroke="#333" stroke-width="0.6"/>
<line x1="420.6" x2="428.3" y1="301.25" y2="301.25" stroke="#333" stroke-width="1.5"/>
<rect x="428.3" y="121.64" width="7.7" height="174.95" fill="#e31a1c" stroke="#333" stroke-width="0.6"/>
<line x1="428.3" x2="436" y1="202.61" y2="202.61" stroke="#333" stroke-width="1.5"/>
<line x1="445.3" x2="445.3" y1="291.11" y2="164.25" stroke="#8f8f8f" stroke-width="0.9"/>
<rect x="444.8" y="163.25" width="1" height="1.22" fill="#7a7a7a"/>
<rect x="444.8" y="160.68" width="1" height="0.97" fill="#7a7a7a"/>
<rect x="444.8" y="158.81" width="1" height="1.14" fill="#7a7a7a"/>
<rect x="444.8" y="156.66" width="1" height="1.46" fill="#7a7a7a"/>
<rect x="444.8" y="155.05" width="1" height="1.46" fill="#7a7a7a"/>
<rect x="444.8" y="153.17" width="1" height="1.2" fill="#7a7a7a"/>
<rect x="444.8" y="151.56" width="1" height="1.21" fill="#7a7a7a"/>
<rect x="444.8" y="148.24" width="1" height="1.32" fill="#7a7a7a"/>
<rect x="444.8" y="145.26" width="1" height="1.06" fill="#7a7a7a"/>
<rect x="444.8" y="143.38" width="1" height="1.04" fill="#7a7a7a"/>
<rect x="444.8" y="140.74" width="1" height="1.31" fill="#7a7a7a"/>
<rect x="444.8" y="137.49" width="1" height="0.83" fill="#7a7a7a"/>
<rect x="444.8" y="134.26" width="1" height="1.51" fill="#7a7a7a"/>
<rect x="444.8" y="131.41" width="1" height="0.84" fill="#7a7a7a"/>
<rect x="444.8" y="129.21" width="1" height="0.8" fill="#7a7a7a"/>
<rect x="444.8" y="127.28" width="1" height="1.54" fill="#7a7a7a"/>
<rect x="444.8" y="123.95" width="1" height="1.33" fill="#7a7a7a"/>
<rect x="444.8" y="119.84" width="1" height="1.53" fill="#7a7a7a"/>
<rect x="444.8" y="116.14" width="1" height="1.29" fill="#7a7a7a"/>
<rect x="444.8" y="112.19" width="1" height="1.36" fill="#7a7a7a"/>
<rect x="444.8" y="108.15" width="1" height="1.34" fill="#7a7a7a"/>
<rect x="444.8" y="105.51" width="1" height="1.33" fill="#7a7a7a"/>
<rect x="444.8" y="101.7" width="1" height="1.41" fill="#7a7a7a"/>
<rect x="444.8" y="99.34" width="1" height="0.95" fill="#7a7a7a"/>
<rect x="444.8" y="97.21" width="1" height="1.42" fill="#7a7a7a"/>
<rect x="444.8" y="90.78" width="1" height="1.32" fill="#7a7a7a"/>
<rect x="444.8" y="86.67" width="1" height="1.46" fill="#7a7a7a"/>
<rect x="444.8" y="80.08" width="1" height="1.25" fill="#7a7a7a"/>
<rect x="444.8" y="76.09" width="1" height="1.04" fill="#7a7a7a"/>
<rect x="444.8" y="70.9" width="1" height="1.05" fill="#7a7a7a"/>
<rect x="444.8" y="65.35" width="1" height="1.31" fill="#7a7a7a"/>
<rect x="444.8" y="55.97" width="1" height="0.84" fill="#7a7a7a"/>
<rect x="444.8" y="48.45" width="1" height="0.83" fill="#7a7a7a"/>
<rect x="444.8" y="44.05" width="1" height="1.45" fill="#7a7a7a"/>
<rect x="444.8" y="35.55" width="1" height="1.53" fill="#7a7a7a"/>
<rect x="444.8" y="27.55" width="1" height="0.81" fill="#7a7a7a"/>
<rect x="444.8" y="19.57" width="1" height="1.27" fill="#7a7a7a"/>
<line x1="453" x2="453" y1="112.33" y2="13.3" stroke="#4a4a4a" stroke-width="1"/>
<line x1="453" x2="453" y1="296.18" y2="301.25" stroke="#555" stroke-width="0.8"/>
<rect x="441.45" y="291.11" width="7.7" height="10.14" fill="#1f78b4" stroke="#333" stroke-width="0.6"/>
<line x1="441.45" x2="449.15" y1="301.25" y2="301.25" stroke="#333" stroke-width="1.5"/>
<rect x="449.15" y="112.33" width="7.7" height="183.85" fill="#e31a1c" stroke="#333" stroke-width="0.6"/>
<line x1="449.15" x2="456.85" y1="194.8" y2="194.8" stroke="#333" stroke-width="1.5"/>
<line x1="466.15" x2="466.15" y1="287.96" y2="164.25" stroke="#8f8f8f" stroke-width="0.9"/>
<rect x="465.65" y="163.25" width="1" height="1.58" fill="#7a7a7a"/>
<rect x="465.65" y="161.32" width="1" height="1.13" fill="#7a7a7a"/>
<rect x="465.65" y="160.19" width="1" height="1.32" fill="#7a7a7a"/>
<rect x="465.65" y="158.8" width="1" height="0.92" fill="#7a7a7a"/>
<rect x="465.65" y="157.84" width="1" height="0.8" fill="#7a7a7a"/>
<rect x="465.65" y="155.38" width="1" height="0.9" fill="#7a7a7a"/>
<rect x="465.65" y="152.21" width="1" height="0.87" fill="#7a7a7a"/>
<rect x="465.65" y="149.17" width="1" height="0.9" fill="#7a7a7a"/>
<rect x="465.65" y="148.11" width="1" height="1.38" fill="#7a7a7a"/>
<rect x="465.65" y="146.48" width="1" height="1.39" fill="#7a7a7a"/>
<rect x="465.65" y="144.96" width="1" height="0.84" fill="#7a7a7a"/>
<rect x="465.65" y="141.89" width="1" height="1.37" fill="#7a7a7a"/>
<rect x="465.65" y="138.49" width="1" height="1.38" fill="#7a7a7a"/>
<rect x="465.65" y="137.09" width="1" height="1.3" fill="#7a7a7a"/>
<rect x="465.65" y="133.88" width="1" height="1.17" fill="#7a7a7a"/>
<rect x="465.65" y="129.87" width="1" height="1" fill="#7a7a7a"/>
<rect x="465.65" y="125.53" width="1" height="1.37" fill="#7a7a7a"/>
<rect x="465.65" y="124.11" width="1" height="0.81" fill="#7a7a7a"/>
<rect x="465.65" y="120.48" width="1" height="1.45" fill="#7a7a7a"/>
<rect x="465.65" y="118.71" width="1" height="1.05" fill="#7a7a7a"/>
<rect x="465.65" y="114.52" width="1" height="0.93" fill="#7a7a7a"/>
<rect x="465.65" y="109.58" width="1" height="1.19" fill="#7a7a7a"/>
<rect x="465.65" y="107.62" width="1" height="1.09" fill="#7a7a7a"/>
<rect x="465.65" y="103.42" width="1" height="1.15" fill="#7a7a7a"/>
<rect x="465.65" y="98.53" width="1" height="0.92" fill="#7a7a7a"/>
<rect x="465.65" y="92.76" width="1" height="1.09" fill="#7a7a7a"/>
<rect x="465.65" y="87.35" width="1" height="1.3" fill="#7a7a7a"/>
<rect x="465.65" y="82.81" width="1" height="1.11" fill="#7a7a7a"/>
<rect x="465.65" y="75.91" width="1" height="1.56" fill="#7a7a7a"/>
<rect x="465.65" y="68.47" width="1" height="1.25" fill="#7a7a7a"/>
<rect x="465.65" y="63.7" width="1" height="0.85" fill="#7a7a7a"/>
<rect x="465.65" y="53.88" width="1" height="1.36" fill="#7a7a7a"/>
<rect x="465.65" y="44.17" width="1" height="1.07" fill="#7a7a7a"/>
<rect x="465.65" y="35.42" width="1" height="1.58" fill="#7a7a7a"/>
<rect x="465.65" y="23.85" width="1" height="1.28" fill="#7a7a7a"/>
<rect x="465.65" y="16.41" width="1" height="1.14" fill="#7a7a7a"/>
<line x1="473.85" x2="473.85" y1="130.55" y2="13.3" stroke="#4a4a4a" stroke-width="1"/>
<line x1="473.85" x2="473.85" y1="294.54" y2="301.25" stroke="#555" stroke-width="0.8"/>
<rect x="462.3" y="287.96" width="7.7" height="13.29" fill="#1f78b4" stroke="#333" stroke-width="0.6"/>
<line x1="462.3" x2="470" y1="301.25" y2="301.25" stroke="#333" stroke-width="1.5"/>
<rect x="470" y="130.55" width="7.7" height="163.99" fill="#e31a1c" stroke="#333" stroke-width="0.6"/>
<line x1="470" x2="477.7" y1="208.36" y2="208.36" stroke="#333" stroke-width="1.5"/>
<line x1="487" x2="487" y1="288.51" y2="164.25" stroke="#8f8f8f" stroke-width="0.9"/>
<rect x="486.5" y="163.25" width="1" height="1.1" fill="#7a7a7a"/>
<rect x="486.5" y="160.87" width="1" height="1.28" fill="#7a7a7a"/>
<rect x="486.5" y="157.99" width="1" height="1.45" fill="#7a7a7a"/>
<rect x="486.5" y="156.42" width="1" height="0.8" fill="#7a7a7a"/>
<rect x="486.5" y="154.88" width="1" height="1.14" fill="#7a7a7a"/>
<rect x="486.5" y="152.58" width="1" height="1.45" fill="#7a7a7a"/>
<rect x="486.5" y="149.51" width="1" height="0.83" fill="#7a7a7a"/>
<rect x="486.5" y="146.46" width="1" height="1.45" fill="#7a7a7a"/>
<rect x="486.5" y="143.22" width="1" height="1.26" fill="#7a7a7a"/>
<rect x="486.5" y="141.41" width="1" height="1.48" fill="#7a7a7a"/>
<rect x="486.5" y="138.11" width="1" height="1.35" fill="#7a7a7a"/>
<rect x="486.5" y="134.37" width="1" height="1.08" fill="#7a7a7a"/>
<rect x="486.5" y="132.89" width="1" height="1.24" fill="#7a7a7a"/>
<rect x="486.5" y="129.23" width="1" height="0.96" fill="#7a7a7a"/>
<rect x="486.5" y="125.54" width="1" height="1.55" fill="#7a7a7a"/>
<rect x="486.5" y="123.37" width="1" height="1.29" fill="#7a7a7a"/>
<rect x="486.5" y="119.61" width="1" height="1.17" fill="#7a7a7a"/>
<rect x="486.5" y="117.36" width="1" height="1" fill="#7a7a7a"/>
<rect x="486.5" y="113.02" width="1" height="1.43" fill="#7a7a7a"/>
<rect x="486.5" y="109.56" width="1" height="0.87" fill="#7a7a7a"/>
<rect x="486.5" y="104.51" width="1" height="1.42" fill="#7a7a7a"/>
<rect x="486.5" y="101.65" width="1" height="1.26" fill="#7a7a7a"/>
<rect x="486.5" y="95.65" width="1" height="1.51" fill="#7a7a7a"/>
<rect x="486.5" y="91.03" width="1" height="1.18" fill="#7a7a7a"/>
<rect x="486.5" y="85.79" width="1" height="0.95" fill="#7a7a7a"/>
<rect x="486.5" y="82.41" width="1" height="0.94" fill="#7a7a7a"/>
<rect x="486.5" y="75.98" width="1" height="1.09" fill="#7a7a7a"/>
<rect x="486.5" y="69.9" width="1" height="1.12" fill="#7a7a7a"/>
<rect x="486.5" y="63.72" width="1" height="0.92" fill="#7a7a7a"/>
<rect x="486.5" y="60.46" width="1" height="1.6" fill="#7a7a7a"/>
<rect x="486.5" y="54.68" width="1" height="0.88" fill="#7a7a7a"/>
<rect x="486.5" y="46.56" width="1" height="1.43" fill="#7a7a7a"/>
<rect x="486.5" y="41.77" width="1" height="1.28" fill="#7a7a7a"/>
<rect x="486.5" y="35.1" width="1" height="1.22" fill="#7a7a7a"/>
<rect x="486.5" y="31.04" width="1" height="0.83" fill="#7a7a7a"/>
<rect x="486.5" y="17.47" width="1" height="1.49" fill="#7a7a7a"/>
<line x1="494.7" x2="494.7" y1="124.66" y2="13.3" stroke="#4a4a4a" stroke-width="1"/>
<line x1="494.7" x2="494.7" y1="295.5" y2="301.25" stroke="#555" stroke-width="0.8"/>
<rect x="483.15" y="288.51" width="7.7" height="12.74" fill="#1f78b4" stroke="#333" stroke-width="0.6"/>
<line x1="483.15" x2="490.85" y1="301.25" y2="301.25" stroke="#333" stroke-width="1.5"/>
<rect x="490.85" y="124.66" width="7.7" height="170.84" fill="#e31a1c" stroke="#333" stroke-width="0.6"/>
<line x1="490.85" x2="498.55" y1="204.67" y2="204.67" stroke="#333" stroke-width="1.5"/>
<line x1="507.85" x2="507.85" y1="286.45" y2="164.25" stroke="#8f8f8f" stroke-width="0.9"/>
<rect x="507.35" y="163.25" width="1" height="1.25" fill="#7a7a7a"/>
<rect x="507.35" y="161.78" width="1" height="1.42" fill="#7a7a7a"/>
<rect x="507.35" y="159.95" width="1" height="1.56" fill="#7a7a7a"/>
<rect x="507.35" y="157.34" width="1" height="1.46" fill="#7a7a7a"/>
<rect x="507.35" y="154.23" width="1" height="1" fill="#7a7a7a"/>
<rect x="507.35" y="153.18" width="1" height="0.96" fill="#7a7a7a"/>
<rect x="507.35" y="151.78" width="1" height="0.87" fill="#7a7a7a"/>
<rect x="507.35" y="150.67" width="1" height="1.25" fill="#7a7a7a"/>
<rect x="507.35" y="147.58" width="1" height="1.17" fill="#7a7a7a"/>
<rect x="507.35" y="144.18" width="1" height="1.53" fill="#7a7a7a"/>
<rect x="507.35" y="142.93" width="1" height="1.28" fill="#7a7a7a"/>
<rect x="507.35" y="140.79" width="1" height="0.9" fill="#7a7a7a"/>
<rect x="507.35" y="137.05" width="1" height="1.01" fill="#7a7a7a"/>
<rect x="507.35" y="134.26" width="1" height="1.31" fill="#7a7a7a"/>
<rect x="507.35" y="130.19" width="1" height="1.34" fill="#7a7a7a"/>
<rect x="507.35" y="127.66" width="1" height="1.16" fill="#7a7a7a"/>
<rect x="507.35" y="125.8" width="1" height="1.57" fill="#7a7a7a"/>
<rect x="507.35" y="121.12" width="1" height="0.98" fill="#7a7a7a"/>
<rect x="507.35" y="119.51" width="1" height="1" fill="#7a7a7a"/>
<rect x="507.35" y="116.73" width="1" height="1.52" fill="#7a7a7a"/>
<rect x="507.35" y="111.77" width="1" height="1.47" fill="#7a7a7a"/>
<rect x="507.35" y="109.91" width="1" height="1.43" fill="#7a7a7a"/>
<rect x="507.35" y="105.29" width="1" height="1.32" fill="#7a7a7a"/>
<rect x="507.35" y="99.17" width="1" height="0.84" fill="#7a7a7a"/>
<rect x="507.35" y="96.52" width="1" height="1.4" fill="#7a7a7a"/>
<rect x="507.35" y="89.92" width="1" height="1.34" fill="#7a7a7a"/>
<rect x="507.35" y="86.14" width="1" height="1.27" fill="#7a7a7a"/>
<rect x="507.35" y="79.66" width="1" height="0.88" fill="#7a7a7a"/>
<rect x="507.35" y="75.26" width="1" height="1.01" fill="#7a7a7a"/>
<rect x="507.35" y="71.88" width="1" height="1.19" fill="#7a7a7a"/>
<rect x="507.35" y="68.09" width="1" height="0.99" fill="#7a7a7a"/>
<rect x="507.35" y="64.31" width="1" height="1.34" fill="#7a7a7a"/>
<rect x="507.35" y="61.3" width="1" height="1.37" fill="#7a7a7a"/>
<rect x="507.35" y="56.87" width="1" height="0.83" fill="#7a7a7a"/>
<rect x="507.35" y="46.69" width="1" height="0.98" fill="#7a7a7a"/>
<rect x="507.35" y="35.4" width="1" height="1.49" fill="#7a7a7a"/>
<rect x="507.35" y="23.29" width="1" height="0.91" fill="#7a7a7a"/>
<rect x="507.35" y="14.39" width="1" height="0.88" fill="#7a7a7a"/>
<line x1="515.55" x2="515.55" y1="106.3" y2="13.3" stroke="#4a4a4a" stroke-width="1"/>
<line x1="515.55" x2="515.55" y1="296.18" y2="301.25" stroke="#555" stroke-width="0.8"/>
<rect x="504" y="286.45" width="7.7" height="14.8" fill="#1f78b4" stroke="#333" stroke-width="0.6"/>
<line x1="504" x2="511.7" y1="301.25" y2="301.25" stroke="#333" stroke-width="1.5"/>
<rect x="511.7" y="106.3" width="7.7" height="189.88" fill="#e31a1c" stroke="#333" stroke-width="0.6"/>
<line x1="511.7" x2="519.4" y1="191.79" y2="191.79" stroke="#333" stroke-width="1.5"/>
<line x1="528.7" x2="528.7" y1="283.99" y2="164.25" stroke="#8f8f8f" stroke-width="0.9"/>
<rect x="528.2" y="163.25" width="1" height="1.47" fill="#7a7a7a"/>
<rect x="528.2" y="160.99" width="1" height="1.16" fill="#7a7a7a"/>
<rect x="528.2" y="159.33" width="1" height="1.46" fill="#7a7a7a"/>
<rect x="528.2" y="157.35" width="1" height="1.3" fill="#7a7a7a"/>
<rect x="528.2" y="156.1" width="1" height="0.98" fill="#7a7a7a"/>
<rect x="528.2" y="155.02" width="1" height="1.37" fill="#7a7a7a"/>
<rect x="528.2" y="152.79" width="1" height="0.92" fill="#7a7a7a"/>
<rect x="528.2" y="149.77" width="1" height="1.01" fill="#7a7a7a"/>
<rect x="528.2" y="147.76" width="1" height="0.92" fill="#7a7a7a"/>
<rect x="528.2" y="146.05" width="1" height="1.47" fill="#7a7a7a"/>
<rect x="528.2" y="144.14" width="1" height="0.93" fill="#7a7a7a"/>
<rect x="528.2" y="141.78" width="1" height="1.05" fill="#7a7a7a"/>
<rect x="528.2" y="138.25" width="1" height="0.89" fill="#7a7a7a"/>
<rect x="528.2" y="134.33" width="1" height="0.85" fill="#7a7a7a"/>
<rect x="528.2" y="130.46" width="1" height="1.33" fill="#7a7a7a"/>
<rect x="528.2" y="128.5" width="1" height="1.18" fill="#7a7a7a"/>
<rect x="528.2" y="126.25" width="1" height="1.01" fill="#7a7a7a"/>
<rect x="528.2" y="124.21" width="1" height="1.09" fill="#7a7a7a"/>
<rect x="528.2" y="119.44" width="1" height="1.6" fill="#7a7a7a"/>
<rect x="528.2" y="114.58" width="1" height="0.88" fill="#7a7a7a"/>
<rect x="528.2" y="111.85" width="1" height="1.52" fill="#7a7a7a"/>
<rect x="528.2" y="109.95" width="1" height="1.38" fill="#7a7a7a"/>
<rect x="528.2" y="107.04" width="1" height="1.58" fill="#7a7a7a"/>
<rect x="528.2" y="105.19" width="1" height="1.45" fill="#7a7a7a"/>
<rect x="528.2" y="101.88" width="1" height="0.91" fill="#7a7a7a"/>
<rect x="528.2" y="99.98" width="1" height="1.47" fill="#7a7a7a"/>
<rect x="528.2" y="95.57" width="1" height="0.95" fill="#7a7a7a"/>
<rect x="528.2" y="91.38" width="1" height="1.53" fill="#7a7a7a"/>
<rect x="528.2" y="88.08" width="1" height="1.26" fill="#7a7a7a"/>
<rect x="528.2" y="85.09" width="1" height="0.94" fill="#7a7a7a"/>
<rect x="528.2" y="78.46" width="1" height="1.37" fill="#7a7a7a"/>
<rect x="528.2" y="74.76" width="1" height="0.86" fill="#7a7a7a"/>
<rect x="528.2" y="71.6" width="1" height="1.29" fill="#7a7a7a"/>
<rect x="528.2" y="65.67" width="1" height="1.02" fill="#7a7a7a"/>
<rect x="528.2" y="61.36" width="1" height="1.29" fill="#7a7a7a"/>
<rect x="528.2" y="53.23" width="1" height="1.45" fill="#7a7a7a"/>
<rect x="528.2" y="45.38" width="1" height="0.96" fill="#7a7a7a"/>
<rect x="528.2" y="41.3" width="1" height="1.39" fill="#7a7a7a"/>
<rect x="528.2" y="34.04" width="1" height="1.38" fill="#7a7a7a"/>
<rect x="528.2" y="29.61" width="1" height="1.45" fill="#7a7a7a"/>
<rect x="528.2" y="22.28" width="1" height="1.47" fill="#7a7a7a"/>
<line x1="536.4" x2="536.4" y1="97.67" y2="13.3" stroke="#4a4a4a" stroke-width="1"/>
<line x1="536.4" x2="536.4" y1="295.5" y2="301.25" stroke="#555" stroke-width="0.8"/>
<rect x="524.85" y="283.99" width="7.7" height="17.26" fill="#1f78b4" stroke="#333" stroke-width="0.6"/>
<line x1="524.85" x2="532.55" y1="301.25" y2="301.25" stroke="#333" stroke-width="1.5"/>
<rect x="532.55" y="97.67" width="7.7" height="197.83" fill="#e31a1c" stroke="#333" stroke-width="0.6"/>
<line x1="532.55" x2="540.25" y1="186.72" y2="186.72" stroke="#333" stroke-width="1.5"/>
<line x1="549.55" x2="549.55" y1="283.44" y2="164.25" stroke="#8f8f8f" stroke-width="0.9"/>
<rect x="549.05" y="163.25" width="1" height="1.19" fill="#7a7a7a"/>
<rect x="549.05" y="162.31" width="1" height="1.53" fill="#7a7a7a"/>
<rect x="549.05" y="160.37" width="1" height="1.5" fill="#7a7a7a"/>
<rect x="549.05" y="158.87" width="1" height="0.95" fill="#7a7a7a"/>
<rect x="549.05" y="156.1" width="1" height="1.09" fill="#7a7a7a"/>
<rect x="549.05" y="154.78" width="1" height="1.1" fill="#7a7a7a"/>
<rect x="549.05" y="152.45" width="1" height="0.8" fill="#7a7a7a"/>
<rect x="549.05" y="150.25" width="1" height="1.16" fill="#7a7a7a"/>
<rect x="549.05" y="147.99" width="1" height="0.9" fill="#7a7a7a"/>
<rect x="549.05" y="145.19" width="1" height="1.45" fill="#7a7a7a"/>
<rect x="549.05" y="141.9" width="1" height="1.06" fill="#7a7a7a"/>
<rect x="549.05" y="138.89" width="1" height="1.11" fill="#7a7a7a"/>
<rect x="549.05" y="135.64" width="1" height="0.85" fill="#7a7a7a"/>
<rect x="549.05" y="131.89" width="1" height="1.56" fill="#7a7a7a"/>
<rect x="549.05" y="129.11" width="1" height="1.21" fill="#7a7a7a"/>
<rect x="549.05" y="126.1" width="1" height="1.23" fill="#7a7a7a"/>
<rect x="549.05" y="124.66" width="1" height="1.57" fill="#7a7a7a"/>
<rect x="549.05" y="122.5" width="1" height="0.95" fill="#7a7a7a"/>
<rect x="549.05" y="120.69" width="1" height="1" fill="#7a7a7a"/>
<rect x="549.05" y="116.3" width="1" height="0.82" fill="#7a7a7a"/>
<rect x="549.05" y="114.37" width="1" height="1.36" fill="#7a7a7a"/>
<rect x="549.05" y="112" width="1" height="0.81" fill="#7a7a7a"/>
<rect x="549.05" y="107.94" width="1" height="1.26" fill="#7a7a7a"/>
<rect x="549.05" y="103.97" width="1" height="1.36" fill="#7a7a7a"/>
<rect x="549.05" y="101.67" width="1" height="1.5" fill="#7a7a7a"/>
<rect x="549.05" y="96.49" width="1" height="0.84" fill="#7a7a7a"/>
<rect x="549.05" y="93.86" width="1" height="1.19" fill="#7a7a7a"/>
<rect x="549.05" y="89.24" width="1" height="1.02" fill="#7a7a7a"/>
<rect x="549.05" y="86.38" width="1" height="1.12" fill="#7a7a7a"/>
<rect x="549.05" y="83.33" width="1" height="1.27" fill="#7a7a7a"/>
<rect x="549.05" y="76.05" width="1" height="0.92" fill="#7a7a7a"/>
<rect x="549.05" y="69.92" width="1" height="1.4" fill="#7a7a7a"/>
<rect x="549.05" y="66.08" width="1" height="1.46" fill="#7a7a7a"/>
<rect x="549.05" y="56.75" width="1" height="1.11" fill="#7a7a7a"/>
<rect x="549.05" y="50.4" width="1" height="1.47" fill="#7a7a7a"/>
<rect x="549.05" y="42.8" width="1" height="1.12" fill="#7a7a7a"/>
<rect x="549.05" y="31.02" width="1" height="1.42" fill="#7a7a7a"/>
<rect x="549.05" y="23.74" width="1" height="0.99" fill="#7a7a7a"/>
<rect x="549.05" y="16.03" width="1" height="1.15" fill="#7a7a7a"/>
<line x1="557.25" x2="557.25" y1="100.96" y2="13.3" stroke="#4a4a4a" stroke-width="1"/>
<line x1="557.25" x2="557.25" y1="294.54" y2="301.25" stroke="#555" stroke-width="0.8"/>
<rect x="545.7" y="283.44" width="7.7" height="17.81" fill="#1f78b4" stroke="#333" stroke-width="0.6"/>
<line x1="545.7" x2="553.4" y1="301.25" y2="301.25" stroke="#333" stroke-width="1.5"/>
<rect x="553.4" y="100.96" width="7.7" height="193.58" fill="#e31a1c" stroke="#333" stroke-width="0.6"/>
<line x1="553.4" x2="561.1" y1="183.84" y2="183.84" stroke="#333" stroke-width="1.5"/>
<line x1="570.4" x2="570.4" y1="212.75" y2="164.25" stroke="#8f8f8f" stroke-width="0.9"/>
<rect x="569.9" y="163.25" width="1" height="1.44" fill="#7a7a7a"/>
<rect x="569.9" y="160.37" width="1" height="1.45" fill="#7a7a7a"/>
<rect x="569.9" y="157.59" width="1" height="0.84" fill="#7a7a7a"/>
<rect x="569.9" y="155.5" width="1" height="1.57" fill="#7a7a7a"/>
<rect x="569.9" y="152.41" width="1" height="1" fill="#7a7a7a"/>
<rect x="569.9" y="150.43" width="1" height="1.31" fill="#7a7a7a"/>
<rect x="569.9" y="148.55" width="1" height="1.22" fill="#7a7a7a"/>
<rect x="569.9" y="147.35" width="1" height="1.15" fill="#7a7a7a"/>
<rect x="569.9" y="145.05" width="1" height="0.82" fill="#7a7a7a"/>
<rect x="569.9" y="143.62" width="1" height="1.58" fill="#7a7a7a"/>
<rect x="569.9" y="140.5" width="1" height="1.55" fill="#7a7a7a"/>
<rect x="569.9" y="137.64" width="1" height="1.45" fill="#7a7a7a"/>
<rect x="569.9" y="133.96" width="1" height="1.51" fill="#7a7a7a"/>
<rect x="569.9" y="132.62" width="1" height="1.31" fill="#7a7a7a"/>
<rect x="569.9" y="130.56" width="1" height="1.34" fill="#7a7a7a"/>
<rect x="569.9" y="128.41" width="1" height="1.23" fill="#7a7a7a"/>
<rect x="569.9" y="124.12" width="1" height="1.3" fill="#7a7a7a"/>
<rect x="569.9" y="121.85" width="1" height="1.22" fill="#7a7a7a"/>
<rect x="569.9" y="118.87" width="1" height="1.56" fill="#7a7a7a"/>
<rect x="569.9" y="116.3" width="1" height="1.04" fill="#7a7a7a"/>
<rect x="569.9" y="112.29" width="1" height="0.9" fill="#7a7a7a"/>
<rect x="569.9" y="108.26" width="1" height="1.56" fill="#7a7a7a"/>
<rect x="569.9" y="104.35" width="1" height="1.01" fill="#7a7a7a"/>
<rect x="569.9" y="100.46" width="1" height="1.23" fill="#7a7a7a"/>
<rect x="569.9" y="97.83" width="1" height="0.9" fill="#7a7a7a"/>
<rect x="569.9" y="95.21" width="1" height="1.03" fill="#7a7a7a"/>
<rect x="569.9" y="91.13" width="1" height="1.03" fill="#7a7a7a"/>
<rect x="569.9" y="87.7" width="1" height="0.87" fill="#7a7a7a"/>
<rect x="569.9" y="82.48" width="1" height="1.47" fill="#7a7a7a"/>
<rect x="569.9" y="76.57" width="1" height="1.26" fill="#7a7a7a"/>
<rect x="569.9" y="70.01" width="1" height="0.96" fill="#7a7a7a"/>
<rect x="569.9" y="62.56" width="1" height="1.17" fill="#7a7a7a"/>
<rect x="569.9" y="55.66" width="1" height="1.29" fill="#7a7a7a"/>
<rect x="569.9" y="48.87" width="1" height="1.05" fill="#7a7a7a"/>
<rect x="569.9" y="43.48" width="1" height="0.98" fill="#7a7a7a"/>
<rect x="569.9" y="35.47" width="1" height="1.11" fill="#7a7a7a"/>
<rect x="569.9" y="26.18" width="1" height="0.81" fill="#7a7a7a"/>
<rect x="569.9" y="18.45" width="1" height="1.49" fill="#7a7a7a"/>
<line x1="578.1" x2="578.1" y1="111.92" y2="13.3" stroke="#4a4a4a" stroke-width="1"/>
<line x1="578.1" x2="578.1" y1="291.39" y2="301.25" stroke="#555" stroke-width="0.8"/>
<line x1="570.4" x2="570.4" y1="212.75" y2="13.3" stroke="#4a4a4a" stroke-width="1"/>
<rect x="566.55" y="212.75" width="7.7" height="88.5" fill="#1f78b4" stroke="#333" stroke-width="0.6"/>
<line x1="566.55" x2="574.25" y1="287.55" y2="287.55" stroke="#333" stroke-width="1.5"/>
<rect x="574.25" y="111.92" width="7.7" height="179.47" fill="#e31a1c" stroke="#333" stroke-width="0.6"/>
<line x1="574.25" x2="581.95" y1="203.02" y2="203.02" stroke="#333" stroke-width="1.5"/>
<rect x="40.85" y="13.3" width="545.85" height="302.3" fill="none" stroke="#8c8c8c" stroke-width="1"/>
<line x1="38.35" x2="40.85" y1="301.25" y2="301.25" stroke="#333" stroke-width="0.8"/>
<text x="36.8" y="305.25" text-anchor="end" font-size="11" fill="#4d4d4d" stroke="#4d4d4d" stroke-width="0.22">0.0</text>
<line x1="38.35" x2="40.85" y1="232.75" y2="232.75" stroke="#333" stroke-width="0.8"/>
<text x="36.8" y="236.75" text-anchor="end" font-size="11" fill="#4d4d4d" stroke="#4d4d4d" stroke-width="0.22">0.5</text>
<line x1="38.35" x2="40.85" y1="164.25" y2="164.25" stroke="#333" stroke-width="0.8"/>
<text x="36.8" y="168.25" text-anchor="end" font-size="11" fill="#4d4d4d" stroke="#4d4d4d" stroke-width="0.22">1.0</text>
<line x1="38.35" x2="40.85" y1="95.75" y2="95.75" stroke="#333" stroke-width="0.8"/>
<text x="36.8" y="99.75" text-anchor="end" font-size="11" fill="#4d4d4d" stroke="#4d4d4d" stroke-width="0.22">1.5</text>
<line x1="38.35" x2="40.85" y1="27.25" y2="27.25" stroke="#333" stroke-width="0.8"/>
<text x="36.8" y="31.25" text-anchor="end" font-size="11" fill="#4d4d4d" stroke="#4d4d4d" stroke-width="0.22">2.0</text>
<line x1="53" x2="53" y1="315.6" y2="318.1" stroke="#333" stroke-width="0.8"/>
<text transform="translate(61.9,324.6) rotate(-63.5)" text-anchor="end" font-size="13.1" fill="#4d4d4d" stroke="#4d4d4d" stroke-width="0.22">PANCREAS</text>
<line x1="73.85" x2="73.85" y1="315.6" y2="318.1" stroke="#333" stroke-width="0.8"/>
<text transform="translate(82.75,324.6) rotate(-63.5)" text-anchor="end" font-size="13.1" fill="#4d4d4d" stroke="#4d4d4d" stroke-width="0.22">BLOOD</text>
<line x1="94.7" x2="94.7" y1="315.6" y2="318.1" stroke="#333" stroke-width="0.8"/>
<text transform="translate(103.6,324.6) rotate(-63.5)" text-anchor="end" font-size="13.1" fill="#4d4d4d" stroke="#4d4d4d" stroke-width="0.22">MUSCLE</text>
<line x1="115.55" x2="115.55" y1="315.6" y2="318.1" stroke="#333" stroke-width="0.8"/>
<text transform="translate(124.45,324.6) rotate(-63.5)" text-anchor="end" font-size="13.1" fill="#4d4d4d" stroke="#4d4d4d" stroke-width="0.22">HEART</text>
<line x1="136.4" x2="136.4" y1="315.6" y2="318.1" stroke="#333" stroke-width="0.8"/>
<text transform="translate(145.3,324.6) rotate(-63.5)" text-anchor="end" font-size="13.1" fill="#4d4d4d" stroke="#4d4d4d" stroke-width="0.22">LIVER</text>
<line x1="157.25" x2="157.25" y1="315.6" y2="318.1" stroke="#333" stroke-width="0.8"/>
<text transform="translate(166.15,324.6) rotate(-63.5)" text-anchor="end" font-size="13.1" fill="#4d4d4d" stroke="#4d4d4d" stroke-width="0.22">KERATINOCYTE</text>
<line x1="178.1" x2="178.1" y1="315.6" y2="318.1" stroke="#333" stroke-width="0.8"/>
<text transform="translate(187,324.6) rotate(-63.5)" text-anchor="end" font-size="13.1" fill="#4d4d4d" stroke="#4d4d4d" stroke-width="0.22">KIDNEY</text>
<line x1="198.95" x2="198.95" y1="315.6" y2="318.1" stroke="#333" stroke-width="0.8"/>
<text transform="translate(207.85,324.6) rotate(-63.5)" text-anchor="end" font-size="13.1" fill="#4d4d4d" stroke="#4d4d4d" stroke-width="0.22">JEJUNUM</text>
<line x1="219.8" x2="219.8" y1="315.6" y2="318.1" stroke="#333" stroke-width="0.8"/>
<text transform="translate(228.7,324.6) rotate(-63.5)" text-anchor="end" font-size="13.1" fill="#4d4d4d" stroke="#4d4d4d" stroke-width="0.22">MUCOSAL</text>
<line x1="240.65" x2="240.65" y1="315.6" y2="318.1" stroke="#333" stroke-width="0.8"/>
<text transform="translate(249.55,324.6) rotate(-63.5)" text-anchor="end" font-size="13.1" fill="#4d4d4d" stroke="#4d4d4d" stroke-width="0.22">ADRENAL_GLAND</text>
<line x1="261.5" x2="261.5" y1="315.6" y2="318.1" stroke="#333" stroke-width="0.8"/>
<text transform="translate(270.4,324.6) rotate(-63.5)" text-anchor="end" font-size="13.1" fill="#4d4d4d" stroke="#4d4d4d" stroke-width="0.22">GUT_COLON</text>
<line x1="282.35" x2="282.35" y1="315.6" y2="318.1" stroke="#333" stroke-width="0.8"/>
<text transform="translate(291.25,324.6) rotate(-63.5)" text-anchor="end" font-size="13.1" fill="#4d4d4d" stroke="#4d4d4d" stroke-width="0.22">SPLEEN</text>
<line x1="303.2" x2="303.2" y1="315.6" y2="318.1" stroke="#333" stroke-width="0.8"/>
<text transform="translate(312.1,324.6) rotate(-63.5)" text-anchor="end" font-size="13.1" fill="#4d4d4d" stroke="#4d4d4d" stroke-width="0.22">NASAL_PLANUM</text>
<line x1="324.05" x2="324.05" y1="315.6" y2="318.1" stroke="#333" stroke-width="0.8"/>
<text transform="translate(332.95,324.6) rotate(-63.5)" text-anchor="end" font-size="13.1" fill="#4d4d4d" stroke="#4d4d4d" stroke-width="0.22">THYMUS</text>
<line x1="344.9" x2="344.9" y1="315.6" y2="318.1" stroke="#333" stroke-width="0.8"/>
<text transform="translate(353.8,324.6) rotate(-63.5)" text-anchor="end" font-size="13.1" fill="#4d4d4d" stroke="#4d4d4d" stroke-width="0.22">SKIN</text>
<line x1="365.75" x2="365.75" y1="315.6" y2="318.1" stroke="#333" stroke-width="0.8"/>
<text transform="translate(374.65,324.6) rotate(-63.5)" text-anchor="end" font-size="13.1" fill="#4d4d4d" stroke="#4d4d4d" stroke-width="0.22">RETINA</text>
<line x1="386.6" x2="386.6" y1="315.6" y2="318.1" stroke="#333" stroke-width="0.8"/>
<text transform="translate(395.5,324.6) rotate(-63.5)" text-anchor="end" font-size="13.1" fill="#4d4d4d" stroke="#4d4d4d" stroke-width="0.22">HAIR_FOLLICLE</text>
<line x1="407.45" x2="407.45" y1="315.6" y2="318.1" stroke="#333" stroke-width="0.8"/>
<text transform="translate(416.35,324.6) rotate(-63.5)" text-anchor="end" font-size="13.1" fill="#4d4d4d" stroke="#4d4d4d" stroke-width="0.22">OLFACTORY_BULB</text>
<line x1="428.3" x2="428.3" y1="315.6" y2="318.1" stroke="#333" stroke-width="0.8"/>
<text transform="translate(437.2,324.6) rotate(-63.5)" text-anchor="end" font-size="13.1" fill="#4d4d4d" stroke="#4d4d4d" stroke-width="0.22">SPINAL_CORD</text>
<line x1="449.15" x2="449.15" y1="315.6" y2="318.1" stroke="#333" stroke-width="0.8"/>
<text transform="translate(458.05,324.6) rotate(-63.5)" text-anchor="end" font-size="13.1" fill="#4d4d4d" stroke="#4d4d4d" stroke-width="0.22">LUNG</text>
<line x1="470" x2="470" y1="315.6" y2="318.1" stroke="#333" stroke-width="0.8"/>
<text transform="translate(478.9,324.6) rotate(-63.5)" text-anchor="end" font-size="13.1" fill="#4d4d4d" stroke="#4d4d4d" stroke-width="0.22">OVARY</text>
<line x1="490.85" x2="490.85" y1="315.6" y2="318.1" stroke="#333" stroke-width="0.8"/>
<text transform="translate(499.75,324.6) rotate(-63.5)" text-anchor="end" font-size="13.1" fill="#4d4d4d" stroke="#4d4d4d" stroke-width="0.22">BRAIN</text>
<line x1="511.7" x2="511.7" y1="315.6" y2="318.1" stroke="#333" stroke-width="0.8"/>
<text transform="translate(520.6,324.6) rotate(-63.5)" text-anchor="end" font-size="13.1" fill="#4d4d4d" stroke="#4d4d4d" stroke-width="0.22">MAMMARY_GLAND</text>
<line x1="532.55" x2="532.55" y1="315.6" y2="318.1" stroke="#333" stroke-width="0.8"/>
<text transform="translate(541.45,324.6) rotate(-63.5)" text-anchor="end" font-size="13.1" fill="#4d4d4d" stroke="#4d4d4d" stroke-width="0.22">CEREBELLUM</text>
<line x1="553.4" x2="553.4" y1="315.6" y2="318.1" stroke="#333" stroke-width="0.8"/>
<text transform="translate(562.3,324.6) rotate(-63.5)" text-anchor="end" font-size="13.1" fill="#4d4d4d" stroke="#4d4d4d" stroke-width="0.22">CORTEX</text>
<line x1="574.25" x2="574.25" y1="315.6" y2="318.1" stroke="#333" stroke-width="0.8"/>
<text transform="translate(583.15,324.6) rotate(-63.5)" text-anchor="end" font-size="13.1" fill="#4d4d4d" stroke="#4d4d4d" stroke-width="0.22">TESTIS</text>
<text transform="translate(14.5,159.3) rotate(-90)" text-anchor="middle" font-size="15" fill="#111" stroke="#111" stroke-width="0.22">genes log10(Expression +1) in TPM</text>
<text x="314" y="447.5" text-anchor="middle" font-size="15" fill="#111" stroke="#111" stroke-width="0.22">Tissues</text>
<line x1="606.7" x2="606.7" y1="157.5" y2="169.5" stroke="#555" stroke-width="0.8"/>
<rect x="601.7" y="160.2" width="10" height="7" fill="#1f78b4" stroke="#333" stroke-width="0.6"/>
<line x1="601.7" x2="611.7" y1="163.7" y2="163.7" stroke="#444" stroke-width="0.9"/>
<text x="615" y="167.7" font-size="11.3" fill="#111" stroke="#111" stroke-width="0.22">lncRNA</text>
<line x1="606.7" x2="606.7" y1="170.9" y2="182.9" stroke="#555" stroke-width="0.8"/>
<rect x="601.7" y="173.6" width="10" height="7" fill="#e31a1c" stroke="#333" stroke-width="0.6"/>
<line x1="601.7" x2="611.7" y1="177.1" y2="177.1" stroke="#444" stroke-width="0.9"/>
<text x="615" y="181.1" font-size="11.3" fill="#111" stroke="#111" stroke-width="0.22">mRNA</text>
<text x="1.3" y="17.7" font-size="28" fill="#000" stroke="#000" stroke-width="0.4">a</text>
<rect x="48.2" y="454.6" width="551.4" height="329.7" fill="#fff"/>
<line x1="48.2" x2="599.6" y1="769.6" y2="769.6" stroke="#ebebeb" stroke-width="1"/>
<line x1="48.2" x2="599.6" y1="751.05" y2="751.05" stroke="#f4f4f4" stroke-width="0.6"/>
<line x1="48.2" x2="599.6" y1="732.5" y2="732.5" stroke="#ebebeb" stroke-width="1"/>
<line x1="48.2" x2="599.6" y1="713.95" y2="713.95" stroke="#f4f4f4" stroke-width="0.6"/>
<line x1="48.2" x2="599.6" y1="695.4" y2="695.4" stroke="#ebebeb" stroke-width="1"/>
<line x1="48.2" x2="599.6" y1="676.85" y2="676.85" stroke="#f4f4f4" stroke-width="0.6"/>
<line x1="48.2" x2="599.6" y1="658.3" y2="658.3" stroke="#ebebeb" stroke-width="1"/>
<line x1="48.2" x2="599.6" y1="639.75" y2="639.75" stroke="#f4f4f4" stroke-width="0.6"/>
<line x1="48.2" x2="599.6" y1="621.2" y2="621.2" stroke="#ebebeb" stroke-width="1"/>
<line x1="48.2" x2="599.6" y1="602.65" y2="602.65" stroke="#f4f4f4" stroke-width="0.6"/>
<line x1="48.2" x2="599.6" y1="584.1" y2="584.1" stroke="#ebebeb" stroke-width="1"/>
<line x1="48.2" x2="599.6" y1="565.55" y2="565.55" stroke="#f4f4f4" stroke-width="0.6"/>
<line x1="48.2" x2="599.6" y1="547" y2="547" stroke="#ebebeb" stroke-width="1"/>
<line x1="48.2" x2="599.6" y1="528.45" y2="528.45" stroke="#f4f4f4" stroke-width="0.6"/>
<line x1="48.2" x2="599.6" y1="509.9" y2="509.9" stroke="#ebebeb" stroke-width="1"/>
<line x1="48.2" x2="599.6" y1="491.35" y2="491.35" stroke="#f4f4f4" stroke-width="0.6"/>
<line x1="48.2" x2="599.6" y1="472.8" y2="472.8" stroke="#ebebeb" stroke-width="1"/>
<line x1="61.2" x2="61.2" y1="454.6" y2="784.3" stroke="#ebebeb" stroke-width="1"/>
<line x1="83.07" x2="83.07" y1="454.6" y2="784.3" stroke="#ebebeb" stroke-width="1"/>
<line x1="104.94" x2="104.94" y1="454.6" y2="784.3" stroke="#ebebeb" stroke-width="1"/>
<line x1="126.81" x2="126.81" y1="454.6" y2="784.3" stroke="#ebebeb" stroke-width="1"/>
<line x1="148.68" x2="148.68" y1="454.6" y2="784.3" stroke="#ebebeb" stroke-width="1"/>
<line x1="170.55" x2="170.55" y1="454.6" y2="784.3" stroke="#ebebeb" stroke-width="1"/>
<line x1="192.42" x2="192.42" y1="454.6" y2="784.3" stroke="#ebebeb" stroke-width="1"/>
<line x1="214.29" x2="214.29" y1="454.6" y2="784.3" stroke="#ebebeb" stroke-width="1"/>
<line x1="236.16" x2="236.16" y1="454.6" y2="784.3" stroke="#ebebeb" stroke-width="1"/>
<line x1="258.03" x2="258.03" y1="454.6" y2="784.3" stroke="#ebebeb" stroke-width="1"/>
<line x1="279.9" x2="279.9" y1="454.6" y2="784.3" stroke="#ebebeb" stroke-width="1"/>
<line x1="301.77" x2="301.77" y1="454.6" y2="784.3" stroke="#ebebeb" stroke-width="1"/>
<line x1="323.64" x2="323.64" y1="454.6" y2="784.3" stroke="#ebebeb" stroke-width="1"/>
<line x1="345.51" x2="345.51" y1="454.6" y2="784.3" stroke="#ebebeb" stroke-width="1"/>
<line x1="367.38" x2="367.38" y1="454.6" y2="784.3" stroke="#ebebeb" stroke-width="1"/>
<line x1="389.25" x2="389.25" y1="454.6" y2="784.3" stroke="#ebebeb" stroke-width="1"/>
<line x1="411.12" x2="411.12" y1="454.6" y2="784.3" stroke="#ebebeb" stroke-width="1"/>
<line x1="432.99" x2="432.99" y1="454.6" y2="784.3" stroke="#ebebeb" stroke-width="1"/>
<line x1="454.86" x2="454.86" y1="454.6" y2="784.3" stroke="#ebebeb" stroke-width="1"/>
<line x1="476.73" x2="476.73" y1="454.6" y2="784.3" stroke="#ebebeb" stroke-width="1"/>
<line x1="498.6" x2="498.6" y1="454.6" y2="784.3" stroke="#ebebeb" stroke-width="1"/>
<line x1="520.47" x2="520.47" y1="454.6" y2="784.3" stroke="#ebebeb" stroke-width="1"/>
<line x1="542.34" x2="542.34" y1="454.6" y2="784.3" stroke="#ebebeb" stroke-width="1"/>
<line x1="564.21" x2="564.21" y1="454.6" y2="784.3" stroke="#ebebeb" stroke-width="1"/>
<line x1="586.08" x2="586.08" y1="454.6" y2="784.3" stroke="#ebebeb" stroke-width="1"/>
<rect x="52.6" y="469.83" width="8.6" height="299.77" fill="#1f78b4"/>
<rect x="61.2" y="738.88" width="8.6" height="30.72" fill="#e31a1c"/>
<rect x="74.47" y="498.03" width="8.6" height="271.57" fill="#1f78b4"/>
<rect x="83.07" y="754.91" width="8.6" height="14.69" fill="#e31a1c"/>
<rect x="96.34" y="541.06" width="8.6" height="228.54" fill="#1f78b4"/>
<rect x="104.94" y="759.95" width="8.6" height="9.65" fill="#e31a1c"/>
<rect x="118.21" y="573.71" width="8.6" height="195.89" fill="#1f78b4"/>
<rect x="126.81" y="759.95" width="8.6" height="9.65" fill="#e31a1c"/>
<rect x="140.08" y="587.07" width="8.6" height="182.53" fill="#1f78b4"/>
<rect x="148.68" y="746.75" width="8.6" height="22.85" fill="#e31a1c"/>
<rect x="161.95" y="624.91" width="8.6" height="144.69" fill="#1f78b4"/>
<rect x="170.55" y="750.75" width="8.6" height="18.85" fill="#e31a1c"/>
<rect x="183.82" y="626.39" width="8.6" height="143.21" fill="#1f78b4"/>
<rect x="192.42" y="759.95" width="8.6" height="9.65" fill="#e31a1c"/>
<rect x="205.69" y="628.62" width="8.6" height="140.98" fill="#1f78b4"/>
<rect x="214.29" y="758.17" width="8.6" height="11.43" fill="#e31a1c"/>
<rect x="227.56" y="633.07" width="8.6" height="136.53" fill="#1f78b4"/>
<rect x="236.16" y="759.95" width="8.6" height="9.65" fill="#e31a1c"/>
<rect x="249.43" y="647.02" width="8.6" height="122.58" fill="#1f78b4"/>
<rect x="258.03" y="759.06" width="8.6" height="10.54" fill="#e31a1c"/>
<rect x="271.3" y="655.33" width="8.6" height="114.27" fill="#1f78b4"/>
<rect x="279.9" y="761.88" width="8.6" height="7.72" fill="#e31a1c"/>
<rect x="293.17" y="664.53" width="8.6" height="105.07" fill="#1f78b4"/>
<rect x="301.77" y="762.33" width="8.6" height="7.27" fill="#e31a1c"/>
<rect x="315.04" y="667.2" width="8.6" height="102.4" fill="#1f78b4"/>
<rect x="323.64" y="754.31" width="8.6" height="15.29" fill="#e31a1c"/>
<rect x="336.91" y="672.4" width="8.6" height="97.2" fill="#1f78b4"/>
<rect x="345.51" y="764.26" width="8.6" height="5.34" fill="#e31a1c"/>
<rect x="358.78" y="676.85" width="8.6" height="92.75" fill="#1f78b4"/>
<rect x="367.38" y="761.59" width="8.6" height="8.01" fill="#e31a1c"/>
<rect x="380.65" y="684.42" width="8.6" height="85.18" fill="#1f78b4"/>
<rect x="389.25" y="757.28" width="8.6" height="12.32" fill="#e31a1c"/>
<rect x="402.52" y="702.23" width="8.6" height="67.37" fill="#1f78b4"/>
<rect x="411.12" y="760.99" width="8.6" height="8.61" fill="#e31a1c"/>
<rect x="424.39" y="705.34" width="8.6" height="64.26" fill="#1f78b4"/>
<rect x="432.99" y="764.26" width="8.6" height="5.34" fill="#e31a1c"/>
<rect x="446.26" y="712.17" width="8.6" height="57.43" fill="#1f78b4"/>
<rect x="454.86" y="766.93" width="8.6" height="2.67" fill="#e31a1c"/>
<rect x="468.13" y="712.47" width="8.6" height="57.13" fill="#1f78b4"/>
<rect x="476.73" y="759.06" width="8.6" height="10.54" fill="#e31a1c"/>
<rect x="490" y="720.18" width="8.6" height="49.42" fill="#1f78b4"/>
<rect x="498.6" y="766.63" width="8.6" height="2.97" fill="#e31a1c"/>
<rect x="511.87" y="724.93" width="8.6" height="44.67" fill="#1f78b4"/>
<rect x="520.47" y="759.36" width="8.6" height="10.24" fill="#e31a1c"/>
<rect x="533.74" y="725.82" width="8.6" height="43.78" fill="#1f78b4"/>
<rect x="542.34" y="766.19" width="8.6" height="3.41" fill="#e31a1c"/>
<rect x="555.61" y="728.94" width="8.6" height="40.66" fill="#1f78b4"/>
<rect x="564.21" y="765.89" width="8.6" height="3.71" fill="#e31a1c"/>
<rect x="577.48" y="734.73" width="8.6" height="34.87" fill="#1f78b4"/>
<rect x="586.08" y="767.52" width="8.6" height="2.08" fill="#e31a1c"/>
<rect x="523.5" y="455.20000000000005" width="75.5" height="213.9" fill="#fff"/>
<line x1="551.0" x2="596.3" y1="631.5" y2="631.5" stroke="#ebebeb" stroke-width="0.7"/>
<line x1="551.0" x2="596.3" y1="620.37" y2="620.37" stroke="#f5f5f5" stroke-width="0.4"/>
<line x1="551.0" x2="596.3" y1="609.23" y2="609.23" stroke="#ebebeb" stroke-width="0.7"/>
<line x1="551.0" x2="596.3" y1="598.1" y2="598.1" stroke="#f5f5f5" stroke-width="0.4"/>
<line x1="551.0" x2="596.3" y1="586.96" y2="586.96" stroke="#ebebeb" stroke-width="0.7"/>
<line x1="551.0" x2="596.3" y1="575.83" y2="575.83" stroke="#f5f5f5" stroke-width="0.4"/>
<line x1="551.0" x2="596.3" y1="564.69" y2="564.69" stroke="#ebebeb" stroke-width="0.7"/>
<line x1="551.0" x2="596.3" y1="553.56" y2="553.56" stroke="#f5f5f5" stroke-width="0.4"/>
<line x1="551.0" x2="596.3" y1="542.42" y2="542.42" stroke="#ebebeb" stroke-width="0.7"/>
<line x1="551.0" x2="596.3" y1="531.28" y2="531.28" stroke="#f5f5f5" stroke-width="0.4"/>
<line x1="551.0" x2="596.3" y1="520.15" y2="520.15" stroke="#ebebeb" stroke-width="0.7"/>
<line x1="551.0" x2="596.3" y1="509.01" y2="509.01" stroke="#f5f5f5" stroke-width="0.4"/>
<line x1="551.0" x2="596.3" y1="497.88" y2="497.88" stroke="#ebebeb" stroke-width="0.7"/>
<line x1="551.0" x2="596.3" y1="486.75" y2="486.75" stroke="#f5f5f5" stroke-width="0.4"/>
<line x1="551.0" x2="596.3" y1="475.61" y2="475.61" stroke="#ebebeb" stroke-width="0.7"/>
<line x1="573.8" x2="573.8" y1="459.5" y2="639.8" stroke="#ebebeb" stroke-width="0.7"/>
<rect x="555.4" y="468.48" width="18.3" height="163.02" fill="#1f78b4"/>
<rect x="573.7" y="607" width="18.1" height="24.5" fill="#e31a1c"/>
<rect x="551.0" y="459.5" width="45.3" height="180.3" fill="none" stroke="#999" stroke-width="0.6"/>
<line x1="549.2" x2="551.0" y1="631.5" y2="631.5" stroke="#333" stroke-width="0.5"/>
<text x="548.2" y="634.8" text-anchor="end" font-size="9.2" fill="#4d4d4d" stroke="#4d4d4d" stroke-width="0.22">0</text>
<line x1="549.2" x2="551.0" y1="609.23" y2="609.23" stroke="#333" stroke-width="0.5"/>
<text x="548.2" y="612.53" text-anchor="end" font-size="9.2" fill="#4d4d4d" stroke="#4d4d4d" stroke-width="0.22">10</text>
<line x1="549.2" x2="551.0" y1="586.96" y2="586.96" stroke="#333" stroke-width="0.5"/>
<text x="548.2" y="590.26" text-anchor="end" font-size="9.2" fill="#4d4d4d" stroke="#4d4d4d" stroke-width="0.22">20</text>
<line x1="549.2" x2="551.0" y1="564.69" y2="564.69" stroke="#333" stroke-width="0.5"/>
<text x="548.2" y="567.99" text-anchor="end" font-size="9.2" fill="#4d4d4d" stroke="#4d4d4d" stroke-width="0.22">30</text>
<line x1="549.2" x2="551.0" y1="542.42" y2="542.42" stroke="#333" stroke-width="0.5"/>
<text x="548.2" y="545.72" text-anchor="end" font-size="9.2" fill="#4d4d4d" stroke="#4d4d4d" stroke-width="0.22">40</text>
<line x1="549.2" x2="551.0" y1="520.15" y2="520.15" stroke="#333" stroke-width="0.5"/>
<text x="548.2" y="523.45" text-anchor="end" font-size="9.2" fill="#4d4d4d" stroke="#4d4d4d" stroke-width="0.22">50</text>
<line x1="549.2" x2="551.0" y1="497.88" y2="497.88" stroke="#333" stroke-width="0.5"/>
<text x="548.2" y="501.18" text-anchor="end" font-size="9.2" fill="#4d4d4d" stroke="#4d4d4d" stroke-width="0.22">60</text>
<line x1="549.2" x2="551.0" y1="475.61" y2="475.61" stroke="#333" stroke-width="0.5"/>
<text x="548.2" y="478.91" text-anchor="end" font-size="9.2" fill="#4d4d4d" stroke="#4d4d4d" stroke-width="0.22">70</text>
<line x1="573.8" x2="573.8" y1="639.8" y2="641.6" stroke="#333" stroke-width="0.5"/>
<text transform="translate(576.5,644.5) rotate(-60)" text-anchor="end" font-size="7.5" fill="#222" stroke="#222" stroke-width="0.22">TESTIS</text>
<text transform="translate(533,549.7) rotate(-90)" text-anchor="middle" font-size="7.4" fill="#222" stroke="#222" stroke-width="0.22">Percentage of Tissue Specific genes</text>
<rect x="48.2" y="454.6" width="551.4" height="329.7" fill="none" stroke="#8c8c8c" stroke-width="1"/>
<line x1="45.7" x2="48.2" y1="769.6" y2="769.6" stroke="#333" stroke-width="0.8"/>
<text x="44.3" y="773.9" text-anchor="end" font-size="12" fill="#4d4d4d" stroke="#4d4d4d" stroke-width="0.22">0.0</text>
<line x1="45.7" x2="48.2" y1="732.5" y2="732.5" stroke="#333" stroke-width="0.8"/>
<text x="44.3" y="736.8" text-anchor="end" font-size="12" fill="#4d4d4d" stroke="#4d4d4d" stroke-width="0.22">2.5</text>
<line x1="45.7" x2="48.2" y1="695.4" y2="695.4" stroke="#333" stroke-width="0.8"/>
<text x="44.3" y="699.7" text-anchor="end" font-size="12" fill="#4d4d4d" stroke="#4d4d4d" stroke-width="0.22">5.0</text>
<line x1="45.7" x2="48.2" y1="658.3" y2="658.3" stroke="#333" stroke-width="0.8"/>
<text x="44.3" y="662.6" text-anchor="end" font-size="12" fill="#4d4d4d" stroke="#4d4d4d" stroke-width="0.22">7.5</text>
<line x1="45.7" x2="48.2" y1="621.2" y2="621.2" stroke="#333" stroke-width="0.8"/>
<text x="44.3" y="625.5" text-anchor="end" font-size="12" fill="#4d4d4d" stroke="#4d4d4d" stroke-width="0.22">10.0</text>
<line x1="45.7" x2="48.2" y1="584.1" y2="584.1" stroke="#333" stroke-width="0.8"/>
<text x="44.3" y="588.4" text-anchor="end" font-size="12" fill="#4d4d4d" stroke="#4d4d4d" stroke-width="0.22">12.5</text>
<line x1="45.7" x2="48.2" y1="547" y2="547" stroke="#333" stroke-width="0.8"/>
<text x="44.3" y="551.3" text-anchor="end" font-size="12" fill="#4d4d4d" stroke="#4d4d4d" stroke-width="0.22">15.0</text>
<line x1="45.7" x2="48.2" y1="509.9" y2="509.9" stroke="#333" stroke-width="0.8"/>
<text x="44.3" y="514.2" text-anchor="end" font-size="12" fill="#4d4d4d" stroke="#4d4d4d" stroke-width="0.22">17.5</text>
<line x1="45.7" x2="48.2" y1="472.8" y2="472.8" stroke="#333" stroke-width="0.8"/>
<text x="44.3" y="477.1" text-anchor="end" font-size="12" fill="#4d4d4d" stroke="#4d4d4d" stroke-width="0.22">20.0</text>
<line x1="61.2" x2="61.2" y1="784.3" y2="786.8" stroke="#333" stroke-width="0.8"/>
<text transform="translate(67.9,794.6) rotate(-54)" text-anchor="end" font-size="12" fill="#4d4d4d" stroke="#4d4d4d" stroke-width="0.22">LIVER</text>
<line x1="83.07" x2="83.07" y1="784.3" y2="786.8" stroke="#333" stroke-width="0.8"/>
<text transform="translate(89.77,794.6) rotate(-54)" text-anchor="end" font-size="12" fill="#4d4d4d" stroke="#4d4d4d" stroke-width="0.22">KIDNEY</text>
<line x1="104.94" x2="104.94" y1="784.3" y2="786.8" stroke="#333" stroke-width="0.8"/>
<text transform="translate(111.64,794.6) rotate(-54)" text-anchor="end" font-size="12" fill="#4d4d4d" stroke="#4d4d4d" stroke-width="0.22">PANCREAS</text>
<line x1="126.81" x2="126.81" y1="784.3" y2="786.8" stroke="#333" stroke-width="0.8"/>
<text transform="translate(133.51,794.6) rotate(-54)" text-anchor="end" font-size="12" fill="#4d4d4d" stroke="#4d4d4d" stroke-width="0.22">HEART</text>
<line x1="148.68" x2="148.68" y1="784.3" y2="786.8" stroke="#333" stroke-width="0.8"/>
<text transform="translate(155.38,794.6) rotate(-54)" text-anchor="end" font-size="12" fill="#4d4d4d" stroke="#4d4d4d" stroke-width="0.22">THYMUS</text>
<line x1="170.55" x2="170.55" y1="784.3" y2="786.8" stroke="#333" stroke-width="0.8"/>
<text transform="translate(177.25,794.6) rotate(-54)" text-anchor="end" font-size="12" fill="#4d4d4d" stroke="#4d4d4d" stroke-width="0.22">CEREBELLUM</text>
<line x1="192.42" x2="192.42" y1="784.3" y2="786.8" stroke="#333" stroke-width="0.8"/>
<text transform="translate(199.12,794.6) rotate(-54)" text-anchor="end" font-size="12" fill="#4d4d4d" stroke="#4d4d4d" stroke-width="0.22">HAIR_FOLLICLE</text>
<line x1="214.29" x2="214.29" y1="784.3" y2="786.8" stroke="#333" stroke-width="0.8"/>
<text transform="translate(220.99,794.6) rotate(-54)" text-anchor="end" font-size="12" fill="#4d4d4d" stroke="#4d4d4d" stroke-width="0.22">MUSCLE</text>
<line x1="236.16" x2="236.16" y1="784.3" y2="786.8" stroke="#333" stroke-width="0.8"/>
<text transform="translate(242.86,794.6) rotate(-54)" text-anchor="end" font-size="12" fill="#4d4d4d" stroke="#4d4d4d" stroke-width="0.22">ADRENAL_GLAND</text>
<line x1="258.03" x2="258.03" y1="784.3" y2="786.8" stroke="#333" stroke-width="0.8"/>
<text transform="translate(264.73,794.6) rotate(-54)" text-anchor="end" font-size="12" fill="#4d4d4d" stroke="#4d4d4d" stroke-width="0.22">BLOOD</text>
<line x1="279.9" x2="279.9" y1="784.3" y2="786.8" stroke="#333" stroke-width="0.8"/>
<text transform="translate(286.6,794.6) rotate(-54)" text-anchor="end" font-size="12" fill="#4d4d4d" stroke="#4d4d4d" stroke-width="0.22">OVARY</text>
<line x1="301.77" x2="301.77" y1="784.3" y2="786.8" stroke="#333" stroke-width="0.8"/>
<text transform="translate(308.47,794.6) rotate(-54)" text-anchor="end" font-size="12" fill="#4d4d4d" stroke="#4d4d4d" stroke-width="0.22">NASAL_PLANUM</text>
<line x1="323.64" x2="323.64" y1="784.3" y2="786.8" stroke="#333" stroke-width="0.8"/>
<text transform="translate(330.34,794.6) rotate(-54)" text-anchor="end" font-size="12" fill="#4d4d4d" stroke="#4d4d4d" stroke-width="0.22">JEJUNUM</text>
<line x1="345.51" x2="345.51" y1="784.3" y2="786.8" stroke="#333" stroke-width="0.8"/>
<text transform="translate(352.21,794.6) rotate(-54)" text-anchor="end" font-size="12" fill="#4d4d4d" stroke="#4d4d4d" stroke-width="0.22">KERATINOCYTE</text>
<line x1="367.38" x2="367.38" y1="784.3" y2="786.8" stroke="#333" stroke-width="0.8"/>
<text transform="translate(374.08,794.6) rotate(-54)" text-anchor="end" font-size="12" fill="#4d4d4d" stroke="#4d4d4d" stroke-width="0.22">GUT_COLON</text>
<line x1="389.25" x2="389.25" y1="784.3" y2="786.8" stroke="#333" stroke-width="0.8"/>
<text transform="translate(395.95,794.6) rotate(-54)" text-anchor="end" font-size="12" fill="#4d4d4d" stroke="#4d4d4d" stroke-width="0.22">LUNG</text>
<line x1="411.12" x2="411.12" y1="784.3" y2="786.8" stroke="#333" stroke-width="0.8"/>
<text transform="translate(417.82,794.6) rotate(-54)" text-anchor="end" font-size="12" fill="#4d4d4d" stroke="#4d4d4d" stroke-width="0.22">SPLEEN</text>
<line x1="432.99" x2="432.99" y1="784.3" y2="786.8" stroke="#333" stroke-width="0.8"/>
<text transform="translate(439.69,794.6) rotate(-54)" text-anchor="end" font-size="12" fill="#4d4d4d" stroke="#4d4d4d" stroke-width="0.22">OLFACTORY_BULB</text>
<line x1="454.86" x2="454.86" y1="784.3" y2="786.8" stroke="#333" stroke-width="0.8"/>
<text transform="translate(461.56,794.6) rotate(-54)" text-anchor="end" font-size="12" fill="#4d4d4d" stroke="#4d4d4d" stroke-width="0.22">CORTEX</text>
<line x1="476.73" x2="476.73" y1="784.3" y2="786.8" stroke="#333" stroke-width="0.8"/>
<text transform="translate(483.43,794.6) rotate(-54)" text-anchor="end" font-size="12" fill="#4d4d4d" stroke="#4d4d4d" stroke-width="0.22">RETINA</text>
<line x1="498.6" x2="498.6" y1="784.3" y2="786.8" stroke="#333" stroke-width="0.8"/>
<text transform="translate(505.3,794.6) rotate(-54)" text-anchor="end" font-size="12" fill="#4d4d4d" stroke="#4d4d4d" stroke-width="0.22">SKIN</text>
<line x1="520.47" x2="520.47" y1="784.3" y2="786.8" stroke="#333" stroke-width="0.8"/>
<text transform="translate(527.17,794.6) rotate(-54)" text-anchor="end" font-size="12" fill="#4d4d4d" stroke="#4d4d4d" stroke-width="0.22">BRAIN</text>
<line x1="542.34" x2="542.34" y1="784.3" y2="786.8" stroke="#333" stroke-width="0.8"/>
<text transform="translate(549.04,794.6) rotate(-54)" text-anchor="end" font-size="12" fill="#4d4d4d" stroke="#4d4d4d" stroke-width="0.22">SPINAL_CORD</text>
<line x1="564.21" x2="564.21" y1="784.3" y2="786.8" stroke="#333" stroke-width="0.8"/>
<text transform="translate(570.91,794.6) rotate(-54)" text-anchor="end" font-size="12" fill="#4d4d4d" stroke="#4d4d4d" stroke-width="0.22">MUCOSAL</text>
<line x1="586.08" x2="586.08" y1="784.3" y2="786.8" stroke="#333" stroke-width="0.8"/>
<text transform="translate(592.78,794.6) rotate(-54)" text-anchor="end" font-size="12" fill="#4d4d4d" stroke="#4d4d4d" stroke-width="0.22">MAMMARY_GLAND</text>
<text transform="translate(15.5,619) rotate(-90)" text-anchor="middle" font-size="15.7" fill="#111" stroke="#111" stroke-width="0.22">Percentage of Tissue Specific genes</text>
<text x="324" y="897" text-anchor="middle" font-size="15.5" fill="#111" stroke="#111" stroke-width="0.22">Tissues</text>
<rect x="613.3" y="611.4" width="12.7" height="12.7" fill="#1f78b4"/>
<text x="628.6" y="621.9" font-size="11.6" fill="#111" stroke="#111" stroke-width="0.22">lncRNA</text>
<rect x="613.3" y="624.9" width="12.7" height="12.7" fill="#e31a1c"/>
<text x="628.6" y="635.4" font-size="11.6" fill="#111" stroke="#111" stroke-width="0.22">mRNA</text>
<text x="3.3" y="452" font-size="30" fill="#000" stroke="#000" stroke-width="0.4">b</text>
<rect x="705" y="275.7" width="18.75" height="19.28" fill="#fdfaf7"/>
<rect x="723.35" y="275.7" width="18.75" height="19.28" fill="#5ea3d2"/>
<rect x="741.69" y="275.7" width="18.75" height="19.28" fill="#d8d0c2"/>
<rect x="760.04" y="275.7" width="18.75" height="19.28" fill="#bfcbcf"/>
<rect x="778.38" y="275.7" width="18.75" height="19.28" fill="#bccacf"/>
<rect x="796.73" y="275.7" width="18.75" height="19.28" fill="#acc3d1"/>
<rect x="815.08" y="275.7" width="18.75" height="19.28" fill="#c5cacb"/>
<rect x="833.42" y="275.7" width="18.75" height="19.28" fill="#b0c6d2"/>
<rect x="851.77" y="275.7" width="18.75" height="19.28" fill="#80b4d6"/>
<rect x="870.12" y="275.7" width="18.75" height="19.28" fill="#6aadd9"/>
<rect x="888.46" y="275.7" width="18.75" height="19.28" fill="#95bad5"/>
<rect x="906.81" y="275.7" width="18.75" height="19.28" fill="#6daed9"/>
<rect x="925.15" y="275.7" width="18.75" height="19.28" fill="#b0c6d0"/>
<rect x="943.5" y="275.7" width="18.75" height="19.28" fill="#97bbd5"/>
<rect x="961.85" y="275.7" width="18.75" height="19.28" fill="#70b0d9"/>
<rect x="980.19" y="275.7" width="18.75" height="19.28" fill="#5ea3d2"/>
<rect x="998.54" y="275.7" width="18.75" height="19.28" fill="#a3c0d3"/>
<rect x="1016.88" y="275.7" width="18.75" height="19.28" fill="#88b6d7"/>
<rect x="1035.23" y="275.7" width="18.75" height="19.28" fill="#64a8d6"/>
<rect x="1053.58" y="275.7" width="18.75" height="19.28" fill="#5ea3d3"/>
<rect x="1071.92" y="275.7" width="18.75" height="19.28" fill="#68aad7"/>
<rect x="1090.27" y="275.7" width="18.75" height="19.28" fill="#60a5d4"/>
<rect x="1108.62" y="275.7" width="18.75" height="19.28" fill="#6aacd8"/>
<rect x="1126.96" y="275.7" width="18.75" height="19.28" fill="#5ea4d4"/>
<rect x="1145.31" y="275.7" width="18.75" height="19.28" fill="#4590c6"/>
<rect x="1163.65" y="275.7" width="18.75" height="19.28" fill="#08469a"/>
<rect x="705" y="294.58" width="18.75" height="19.28" fill="#fdf9f6"/>
<rect x="723.35" y="294.58" width="18.75" height="19.28" fill="#7eb3d6"/>
<rect x="741.69" y="294.58" width="18.75" height="19.28" fill="#d3d1c6"/>
<rect x="760.04" y="294.58" width="18.75" height="19.28" fill="#aac2d2"/>
<rect x="778.38" y="294.58" width="18.75" height="19.28" fill="#b8c8cf"/>
<rect x="796.73" y="294.58" width="18.75" height="19.28" fill="#9dbdd4"/>
<rect x="815.08" y="294.58" width="18.75" height="19.28" fill="#cfd0c8"/>
<rect x="833.42" y="294.58" width="18.75" height="19.28" fill="#89b6d6"/>
<rect x="851.77" y="294.58" width="18.75" height="19.28" fill="#6caed8"/>
<rect x="870.12" y="294.58" width="18.75" height="19.28" fill="#62a6d6"/>
<rect x="888.46" y="294.58" width="18.75" height="19.28" fill="#66aad8"/>
<rect x="906.81" y="294.58" width="18.75" height="19.28" fill="#5ba1d1"/>
<rect x="925.15" y="294.58" width="18.75" height="19.28" fill="#92b9d6"/>
<rect x="943.5" y="294.58" width="18.75" height="19.28" fill="#66aad9"/>
<rect x="961.85" y="294.58" width="18.75" height="19.28" fill="#62a6d6"/>
<rect x="980.19" y="294.58" width="18.75" height="19.28" fill="#559cd0"/>
<rect x="998.54" y="294.58" width="18.75" height="19.28" fill="#70afd9"/>
<rect x="1016.88" y="294.58" width="18.75" height="19.28" fill="#66a9d7"/>
<rect x="1035.23" y="294.58" width="18.75" height="19.28" fill="#62a6d5"/>
<rect x="1053.58" y="294.58" width="18.75" height="19.28" fill="#5aa1d2"/>
<rect x="1071.92" y="294.58" width="18.75" height="19.28" fill="#64a8d6"/>
<rect x="1090.27" y="294.58" width="18.75" height="19.28" fill="#5ea5d4"/>
<rect x="1108.62" y="294.58" width="18.75" height="19.28" fill="#64a8d6"/>
<rect x="1126.96" y="294.58" width="18.75" height="19.28" fill="#62a6d5"/>
<rect x="1145.31" y="294.58" width="18.75" height="19.28" fill="#08469a"/>
<rect x="1163.65" y="294.58" width="18.75" height="19.28" fill="#4590c6"/>
<rect x="705" y="313.47" width="18.75" height="19.28" fill="#fcf3ee"/>
<rect x="723.35" y="313.47" width="18.75" height="19.28" fill="#6dacda"/>
<rect x="741.69" y="313.47" width="18.75" height="19.28" fill="#efdfc4"/>
<rect x="760.04" y="313.47" width="18.75" height="19.28" fill="#dbd3c3"/>
<rect x="778.38" y="313.47" width="18.75" height="19.28" fill="#c8cec8"/>
<rect x="796.73" y="313.47" width="18.75" height="19.28" fill="#cccdc6"/>
<rect x="815.08" y="313.47" width="18.75" height="19.28" fill="#e6dbc5"/>
<rect x="833.42" y="313.47" width="18.75" height="19.28" fill="#d8d3c5"/>
<rect x="851.77" y="313.47" width="18.75" height="19.28" fill="#bfc9cc"/>
<rect x="870.12" y="313.47" width="18.75" height="19.28" fill="#9fbfd4"/>
<rect x="888.46" y="313.47" width="18.75" height="19.28" fill="#b0c6d0"/>
<rect x="906.81" y="313.47" width="18.75" height="19.28" fill="#8db7d6"/>
<rect x="925.15" y="313.47" width="18.75" height="19.28" fill="#8ab6d7"/>
<rect x="943.5" y="313.47" width="18.75" height="19.28" fill="#88b5d7"/>
<rect x="961.85" y="313.47" width="18.75" height="19.28" fill="#78b1d8"/>
<rect x="980.19" y="313.47" width="18.75" height="19.28" fill="#60a5d4"/>
<rect x="998.54" y="313.47" width="18.75" height="19.28" fill="#94bad5"/>
<rect x="1016.88" y="313.47" width="18.75" height="19.28" fill="#7eb2d6"/>
<rect x="1035.23" y="313.47" width="18.75" height="19.28" fill="#94bad5"/>
<rect x="1053.58" y="313.47" width="18.75" height="19.28" fill="#74b0d9"/>
<rect x="1071.92" y="313.47" width="18.75" height="19.28" fill="#95bad5"/>
<rect x="1090.27" y="313.47" width="18.75" height="19.28" fill="#6eaed9"/>
<rect x="1108.62" y="313.47" width="18.75" height="19.28" fill="#72afd9"/>
<rect x="1126.96" y="313.47" width="18.75" height="19.28" fill="#08469a"/>
<rect x="1145.31" y="313.47" width="18.75" height="19.28" fill="#62a6d5"/>
<rect x="1163.65" y="313.47" width="18.75" height="19.28" fill="#5aa1d2"/>
<rect x="705" y="332.35" width="18.75" height="19.28" fill="#fbf2ed"/>
<rect x="723.35" y="332.35" width="18.75" height="19.28" fill="#b0c7d1"/>
<rect x="741.69" y="332.35" width="18.75" height="19.28" fill="#eddec4"/>
<rect x="760.04" y="332.35" width="18.75" height="19.28" fill="#d4d2c6"/>
<rect x="778.38" y="332.35" width="18.75" height="19.28" fill="#9dbed5"/>
<rect x="796.73" y="332.35" width="18.75" height="19.28" fill="#95bbd6"/>
<rect x="815.08" y="332.35" width="18.75" height="19.28" fill="#b8c9cf"/>
<rect x="833.42" y="332.35" width="18.75" height="19.28" fill="#e8dcc5"/>
<rect x="851.77" y="332.35" width="18.75" height="19.28" fill="#d9d2c4"/>
<rect x="870.12" y="332.35" width="18.75" height="19.28" fill="#bdc9cd"/>
<rect x="888.46" y="332.35" width="18.75" height="19.28" fill="#d8d3c3"/>
<rect x="906.81" y="332.35" width="18.75" height="19.28" fill="#bccacf"/>
<rect x="925.15" y="332.35" width="18.75" height="19.28" fill="#aac2d1"/>
<rect x="943.5" y="332.35" width="18.75" height="19.28" fill="#93b9d5"/>
<rect x="961.85" y="332.35" width="18.75" height="19.28" fill="#a5c0d2"/>
<rect x="980.19" y="332.35" width="18.75" height="19.28" fill="#66a9d7"/>
<rect x="998.54" y="332.35" width="18.75" height="19.28" fill="#abc3d1"/>
<rect x="1016.88" y="332.35" width="18.75" height="19.28" fill="#85b4d7"/>
<rect x="1035.23" y="332.35" width="18.75" height="19.28" fill="#92b9d5"/>
<rect x="1053.58" y="332.35" width="18.75" height="19.28" fill="#7ab2d8"/>
<rect x="1071.92" y="332.35" width="18.75" height="19.28" fill="#a6c0d2"/>
<rect x="1090.27" y="332.35" width="18.75" height="19.28" fill="#4590c6"/>
<rect x="1108.62" y="332.35" width="18.75" height="19.28" fill="#08469a"/>
<rect x="1126.96" y="332.35" width="18.75" height="19.28" fill="#70afd9"/>
<rect x="1145.31" y="332.35" width="18.75" height="19.28" fill="#64a8d6"/>
<rect x="1163.65" y="332.35" width="18.75" height="19.28" fill="#66aad7"/>
<rect x="705" y="351.24" width="18.75" height="19.28" fill="#fdf9f6"/>
<rect x="723.35" y="351.24" width="18.75" height="19.28" fill="#a8c2d3"/>
<rect x="741.69" y="351.24" width="18.75" height="19.28" fill="#ddd4c3"/>
<rect x="760.04" y="351.24" width="18.75" height="19.28" fill="#b9c8cf"/>
<rect x="778.38" y="351.24" width="18.75" height="19.28" fill="#8ab6d8"/>
<rect x="796.73" y="351.24" width="18.75" height="19.28" fill="#84b3d9"/>
<rect x="815.08" y="351.24" width="18.75" height="19.28" fill="#b4c7d0"/>
<rect x="833.42" y="351.24" width="18.75" height="19.28" fill="#b4c8d0"/>
<rect x="851.77" y="351.24" width="18.75" height="19.28" fill="#9dbcd5"/>
<rect x="870.12" y="351.24" width="18.75" height="19.28" fill="#6aacd9"/>
<rect x="888.46" y="351.24" width="18.75" height="19.28" fill="#a5c0d3"/>
<rect x="906.81" y="351.24" width="18.75" height="19.28" fill="#80b3d7"/>
<rect x="925.15" y="351.24" width="18.75" height="19.28" fill="#96bbd5"/>
<rect x="943.5" y="351.24" width="18.75" height="19.28" fill="#6aadd9"/>
<rect x="961.85" y="351.24" width="18.75" height="19.28" fill="#6aaad8"/>
<rect x="980.19" y="351.24" width="18.75" height="19.28" fill="#5ea3d3"/>
<rect x="998.54" y="351.24" width="18.75" height="19.28" fill="#7fb2d7"/>
<rect x="1016.88" y="351.24" width="18.75" height="19.28" fill="#74b0d9"/>
<rect x="1035.23" y="351.24" width="18.75" height="19.28" fill="#6aabd8"/>
<rect x="1053.58" y="351.24" width="18.75" height="19.28" fill="#62a6d5"/>
<rect x="1071.92" y="351.24" width="18.75" height="19.28" fill="#6eaed9"/>
<rect x="1090.27" y="351.24" width="18.75" height="19.28" fill="#08469a"/>
<rect x="1108.62" y="351.24" width="18.75" height="19.28" fill="#4590c6"/>
<rect x="1126.96" y="351.24" width="18.75" height="19.28" fill="#6eaed9"/>
<rect x="1145.31" y="351.24" width="18.75" height="19.28" fill="#62a6d5"/>
<rect x="1163.65" y="351.24" width="18.75" height="19.28" fill="#5ea4d4"/>
<rect x="705" y="370.12" width="18.75" height="19.28" fill="#f5e5d9"/>
<rect x="723.35" y="370.12" width="18.75" height="19.28" fill="#dcd6c6"/>
<rect x="741.69" y="370.12" width="18.75" height="19.28" fill="#b6c8d0"/>
<rect x="760.04" y="370.12" width="18.75" height="19.28" fill="#a3c0d3"/>
<rect x="778.38" y="370.12" width="18.75" height="19.28" fill="#b6c8cf"/>
<rect x="796.73" y="370.12" width="18.75" height="19.28" fill="#82b3d9"/>
<rect x="815.08" y="370.12" width="18.75" height="19.28" fill="#cfd0c8"/>
<rect x="833.42" y="370.12" width="18.75" height="19.28" fill="#8ab7d7"/>
<rect x="851.77" y="370.12" width="18.75" height="19.28" fill="#9bbcd5"/>
<rect x="870.12" y="370.12" width="18.75" height="19.28" fill="#82b4d7"/>
<rect x="888.46" y="370.12" width="18.75" height="19.28" fill="#93bad5"/>
<rect x="906.81" y="370.12" width="18.75" height="19.28" fill="#76b0d9"/>
<rect x="925.15" y="370.12" width="18.75" height="19.28" fill="#bccacf"/>
<rect x="943.5" y="370.12" width="18.75" height="19.28" fill="#a3c0d3"/>
<rect x="961.85" y="370.12" width="18.75" height="19.28" fill="#9ebdd4"/>
<rect x="980.19" y="370.12" width="18.75" height="19.28" fill="#64a8d6"/>
<rect x="998.54" y="370.12" width="18.75" height="19.28" fill="#9ebdd3"/>
<rect x="1016.88" y="370.12" width="18.75" height="19.28" fill="#95bbd4"/>
<rect x="1035.23" y="370.12" width="18.75" height="19.28" fill="#66a9d7"/>
<rect x="1053.58" y="370.12" width="18.75" height="19.28" fill="#5ea4d4"/>
<rect x="1071.92" y="370.12" width="18.75" height="19.28" fill="#08469a"/>
<rect x="1090.27" y="370.12" width="18.75" height="19.28" fill="#70afd9"/>
<rect x="1108.62" y="370.12" width="18.75" height="19.28" fill="#aec5d1"/>
<rect x="1126.96" y="370.12" width="18.75" height="19.28" fill="#8ab6d6"/>
<rect x="1145.31" y="370.12" width="18.75" height="19.28" fill="#66aad7"/>
<rect x="1163.65" y="370.12" width="18.75" height="19.28" fill="#66aad7"/>
<rect x="705" y="389.01" width="18.75" height="19.28" fill="#fbf3ee"/>
<rect x="723.35" y="389.01" width="18.75" height="19.28" fill="#c9cdc9"/>
<rect x="741.69" y="389.01" width="18.75" height="19.28" fill="#e2d6c4"/>
<rect x="760.04" y="389.01" width="18.75" height="19.28" fill="#b4c7cf"/>
<rect x="778.38" y="389.01" width="18.75" height="19.28" fill="#a4c1d3"/>
<rect x="796.73" y="389.01" width="18.75" height="19.28" fill="#9bbdd4"/>
<rect x="815.08" y="389.01" width="18.75" height="19.28" fill="#c6cbc8"/>
<rect x="833.42" y="389.01" width="18.75" height="19.28" fill="#a1bed3"/>
<rect x="851.77" y="389.01" width="18.75" height="19.28" fill="#80b4d7"/>
<rect x="870.12" y="389.01" width="18.75" height="19.28" fill="#68aad8"/>
<rect x="888.46" y="389.01" width="18.75" height="19.28" fill="#84b5d8"/>
<rect x="906.81" y="389.01" width="18.75" height="19.28" fill="#69abd9"/>
<rect x="925.15" y="389.01" width="18.75" height="19.28" fill="#a6c1d2"/>
<rect x="943.5" y="389.01" width="18.75" height="19.28" fill="#8cb8d7"/>
<rect x="961.85" y="389.01" width="18.75" height="19.28" fill="#84b4d7"/>
<rect x="980.19" y="389.01" width="18.75" height="19.28" fill="#62a6d5"/>
<rect x="998.54" y="389.01" width="18.75" height="19.28" fill="#98bbd4"/>
<rect x="1016.88" y="389.01" width="18.75" height="19.28" fill="#91b9d6"/>
<rect x="1035.23" y="389.01" width="18.75" height="19.28" fill="#7ab2d8"/>
<rect x="1053.58" y="389.01" width="18.75" height="19.28" fill="#08469a"/>
<rect x="1071.92" y="389.01" width="18.75" height="19.28" fill="#60a5d4"/>
<rect x="1090.27" y="389.01" width="18.75" height="19.28" fill="#5ea4d4"/>
<rect x="1108.62" y="389.01" width="18.75" height="19.28" fill="#78b1d8"/>
<rect x="1126.96" y="389.01" width="18.75" height="19.28" fill="#6eaed9"/>
<rect x="1145.31" y="389.01" width="18.75" height="19.28" fill="#5ea3d3"/>
<rect x="1163.65" y="389.01" width="18.75" height="19.28" fill="#5ea3d3"/>
<rect x="705" y="407.89" width="18.75" height="19.28" fill="#f9efe8"/>
<rect x="723.35" y="407.89" width="18.75" height="19.28" fill="#9abcd5"/>
<rect x="741.69" y="407.89" width="18.75" height="19.28" fill="#c3cbca"/>
<rect x="760.04" y="407.89" width="18.75" height="19.28" fill="#aec6d1"/>
<rect x="778.38" y="407.89" width="18.75" height="19.28" fill="#b2c7d0"/>
<rect x="796.73" y="407.89" width="18.75" height="19.28" fill="#9bbdd4"/>
<rect x="815.08" y="407.89" width="18.75" height="19.28" fill="#b6c8cf"/>
<rect x="833.42" y="407.89" width="18.75" height="19.28" fill="#bdc9cd"/>
<rect x="851.77" y="407.89" width="18.75" height="19.28" fill="#c6cccb"/>
<rect x="870.12" y="407.89" width="18.75" height="19.28" fill="#acc5d1"/>
<rect x="888.46" y="407.89" width="18.75" height="19.28" fill="#c6cbc9"/>
<rect x="906.81" y="407.89" width="18.75" height="19.28" fill="#a0bed3"/>
<rect x="925.15" y="407.89" width="18.75" height="19.28" fill="#c1cbcb"/>
<rect x="943.5" y="407.89" width="18.75" height="19.28" fill="#a1bfd3"/>
<rect x="961.85" y="407.89" width="18.75" height="19.28" fill="#9ebdd3"/>
<rect x="980.19" y="407.89" width="18.75" height="19.28" fill="#68aad8"/>
<rect x="998.54" y="407.89" width="18.75" height="19.28" fill="#9ebfd3"/>
<rect x="1016.88" y="407.89" width="18.75" height="19.28" fill="#94bbd5"/>
<rect x="1035.23" y="407.89" width="18.75" height="19.28" fill="#08469a"/>
<rect x="1053.58" y="407.89" width="18.75" height="19.28" fill="#7ab2d8"/>
<rect x="1071.92" y="407.89" width="18.75" height="19.28" fill="#64a8d6"/>
<rect x="1090.27" y="407.89" width="18.75" height="19.28" fill="#66a9d7"/>
<rect x="1108.62" y="407.89" width="18.75" height="19.28" fill="#82b4d7"/>
<rect x="1126.96" y="407.89" width="18.75" height="19.28" fill="#88b6d6"/>
<rect x="1145.31" y="407.89" width="18.75" height="19.28" fill="#62a6d5"/>
<rect x="1163.65" y="407.89" width="18.75" height="19.28" fill="#66a9d6"/>
<rect x="705" y="426.78" width="18.75" height="19.28" fill="#fefefe"/>
<rect x="723.35" y="426.78" width="18.75" height="19.28" fill="#ead9c2"/>
<rect x="741.69" y="426.78" width="18.75" height="19.28" fill="#eedfc5"/>
<rect x="760.04" y="426.78" width="18.75" height="19.28" fill="#d0d0c8"/>
<rect x="778.38" y="426.78" width="18.75" height="19.28" fill="#cfcfc8"/>
<rect x="796.73" y="426.78" width="18.75" height="19.28" fill="#d3d2c6"/>
<rect x="815.08" y="426.78" width="18.75" height="19.28" fill="#eddec6"/>
<rect x="833.42" y="426.78" width="18.75" height="19.28" fill="#e3d9c6"/>
<rect x="851.77" y="426.78" width="18.75" height="19.28" fill="#d6d3c8"/>
<rect x="870.12" y="426.78" width="18.75" height="19.28" fill="#cccfc9"/>
<rect x="888.46" y="426.78" width="18.75" height="19.28" fill="#c7cdc9"/>
<rect x="906.81" y="426.78" width="18.75" height="19.28" fill="#a8c2d2"/>
<rect x="925.15" y="426.78" width="18.75" height="19.28" fill="#66a8d6"/>
<rect x="943.5" y="426.78" width="18.75" height="19.28" fill="#529acf"/>
<rect x="961.85" y="426.78" width="18.75" height="19.28" fill="#529acf"/>
<rect x="980.19" y="426.78" width="18.75" height="19.28" fill="#3f8dc6"/>
<rect x="998.54" y="426.78" width="18.75" height="19.28" fill="#3b89c3"/>
<rect x="1016.88" y="426.78" width="18.75" height="19.28" fill="#08469a"/>
<rect x="1035.23" y="426.78" width="18.75" height="19.28" fill="#9ebdd4"/>
<rect x="1053.58" y="426.78" width="18.75" height="19.28" fill="#8ab7d6"/>
<rect x="1071.92" y="426.78" width="18.75" height="19.28" fill="#9bbcd4"/>
<rect x="1090.27" y="426.78" width="18.75" height="19.28" fill="#7eb2d7"/>
<rect x="1108.62" y="426.78" width="18.75" height="19.28" fill="#90b8d5"/>
<rect x="1126.96" y="426.78" width="18.75" height="19.28" fill="#84b4d7"/>
<rect x="1145.31" y="426.78" width="18.75" height="19.28" fill="#6aacd8"/>
<rect x="1163.65" y="426.78" width="18.75" height="19.28" fill="#8ab6d6"/>
<rect x="705" y="445.66" width="18.75" height="19.28" fill="#fefefe"/>
<rect x="723.35" y="445.66" width="18.75" height="19.28" fill="#ecdcc3"/>
<rect x="741.69" y="445.66" width="18.75" height="19.28" fill="#efdfc5"/>
<rect x="760.04" y="445.66" width="18.75" height="19.28" fill="#ebdcc3"/>
<rect x="778.38" y="445.66" width="18.75" height="19.28" fill="#cfcfc8"/>
<rect x="796.73" y="445.66" width="18.75" height="19.28" fill="#c9cbc8"/>
<rect x="815.08" y="445.66" width="18.75" height="19.28" fill="#ebdcc4"/>
<rect x="833.42" y="445.66" width="18.75" height="19.28" fill="#e0d7c6"/>
<rect x="851.77" y="445.66" width="18.75" height="19.28" fill="#dad4c6"/>
<rect x="870.12" y="445.66" width="18.75" height="19.28" fill="#ccd0ca"/>
<rect x="888.46" y="445.66" width="18.75" height="19.28" fill="#d8d3c6"/>
<rect x="906.81" y="445.66" width="18.75" height="19.28" fill="#bccacd"/>
<rect x="925.15" y="445.66" width="18.75" height="19.28" fill="#62a6d5"/>
<rect x="943.5" y="445.66" width="18.75" height="19.28" fill="#62a6d5"/>
<rect x="961.85" y="445.66" width="18.75" height="19.28" fill="#569dd0"/>
<rect x="980.19" y="445.66" width="18.75" height="19.28" fill="#4a94ca"/>
<rect x="998.54" y="445.66" width="18.75" height="19.28" fill="#08469a"/>
<rect x="1016.88" y="445.66" width="18.75" height="19.28" fill="#3b89c3"/>
<rect x="1035.23" y="445.66" width="18.75" height="19.28" fill="#a3c0d3"/>
<rect x="1053.58" y="445.66" width="18.75" height="19.28" fill="#97bbd5"/>
<rect x="1071.92" y="445.66" width="18.75" height="19.28" fill="#9bbdd4"/>
<rect x="1090.27" y="445.66" width="18.75" height="19.28" fill="#80b3d7"/>
<rect x="1108.62" y="445.66" width="18.75" height="19.28" fill="#aec5d1"/>
<rect x="1126.96" y="445.66" width="18.75" height="19.28" fill="#95bbd5"/>
<rect x="1145.31" y="445.66" width="18.75" height="19.28" fill="#74b0d9"/>
<rect x="1163.65" y="445.66" width="18.75" height="19.28" fill="#a3c0d3"/>
<rect x="705" y="464.55" width="18.75" height="19.28" fill="#fdfbf9"/>
<rect x="723.35" y="464.55" width="18.75" height="19.28" fill="#c1cacb"/>
<rect x="741.69" y="464.55" width="18.75" height="19.28" fill="#e9dbc4"/>
<rect x="760.04" y="464.55" width="18.75" height="19.28" fill="#bfc9cd"/>
<rect x="778.38" y="464.55" width="18.75" height="19.28" fill="#abc3d1"/>
<rect x="796.73" y="464.55" width="18.75" height="19.28" fill="#a6c1d2"/>
<rect x="815.08" y="464.55" width="18.75" height="19.28" fill="#d9d2c4"/>
<rect x="833.42" y="464.55" width="18.75" height="19.28" fill="#bfcacd"/>
<rect x="851.77" y="464.55" width="18.75" height="19.28" fill="#9bbdd4"/>
<rect x="870.12" y="464.55" width="18.75" height="19.28" fill="#7ab2d8"/>
<rect x="888.46" y="464.55" width="18.75" height="19.28" fill="#90b9d6"/>
<rect x="906.81" y="464.55" width="18.75" height="19.28" fill="#68aad8"/>
<rect x="925.15" y="464.55" width="18.75" height="19.28" fill="#5aa1d2"/>
<rect x="943.5" y="464.55" width="18.75" height="19.28" fill="#4e97cc"/>
<rect x="961.85" y="464.55" width="18.75" height="19.28" fill="#428dc6"/>
<rect x="980.19" y="464.55" width="18.75" height="19.28" fill="#08469a"/>
<rect x="998.54" y="464.55" width="18.75" height="19.28" fill="#448fc7"/>
<rect x="1016.88" y="464.55" width="18.75" height="19.28" fill="#3e8bc5"/>
<rect x="1035.23" y="464.55" width="18.75" height="19.28" fill="#62a6d5"/>
<rect x="1053.58" y="464.55" width="18.75" height="19.28" fill="#5aa1d2"/>
<rect x="1071.92" y="464.55" width="18.75" height="19.28" fill="#62a6d5"/>
<rect x="1090.27" y="464.55" width="18.75" height="19.28" fill="#569dd0"/>
<rect x="1108.62" y="464.55" width="18.75" height="19.28" fill="#66aad7"/>
<rect x="1126.96" y="464.55" width="18.75" height="19.28" fill="#62a6d5"/>
<rect x="1145.31" y="464.55" width="18.75" height="19.28" fill="#529acf"/>
<rect x="1163.65" y="464.55" width="18.75" height="19.28" fill="#5aa1d2"/>
<rect x="705" y="483.43" width="18.75" height="19.28" fill="#fefefe"/>
<rect x="723.35" y="483.43" width="18.75" height="19.28" fill="#d9d2c3"/>
<rect x="741.69" y="483.43" width="18.75" height="19.28" fill="#efdfc4"/>
<rect x="760.04" y="483.43" width="18.75" height="19.28" fill="#e6dac4"/>
<rect x="778.38" y="483.43" width="18.75" height="19.28" fill="#e3d9c6"/>
<rect x="796.73" y="483.43" width="18.75" height="19.28" fill="#d0cfc7"/>
<rect x="815.08" y="483.43" width="18.75" height="19.28" fill="#eddec4"/>
<rect x="833.42" y="483.43" width="18.75" height="19.28" fill="#d8d3c6"/>
<rect x="851.77" y="483.43" width="18.75" height="19.28" fill="#bfcbcd"/>
<rect x="870.12" y="483.43" width="18.75" height="19.28" fill="#a8c2d2"/>
<rect x="888.46" y="483.43" width="18.75" height="19.28" fill="#bccacd"/>
<rect x="906.81" y="483.43" width="18.75" height="19.28" fill="#9bbdd4"/>
<rect x="925.15" y="483.43" width="18.75" height="19.28" fill="#5aa1d2"/>
<rect x="943.5" y="483.43" width="18.75" height="19.28" fill="#4690c8"/>
<rect x="961.85" y="483.43" width="18.75" height="19.28" fill="#08469a"/>
<rect x="980.19" y="483.43" width="18.75" height="19.28" fill="#4690c8"/>
<rect x="998.54" y="483.43" width="18.75" height="19.28" fill="#4a94ca"/>
<rect x="1016.88" y="483.43" width="18.75" height="19.28" fill="#4a94ca"/>
<rect x="1035.23" y="483.43" width="18.75" height="19.28" fill="#9ebdd4"/>
<rect x="1053.58" y="483.43" width="18.75" height="19.28" fill="#7ab2d8"/>
<rect x="1071.92" y="483.43" width="18.75" height="19.28" fill="#95bad5"/>
<rect x="1090.27" y="483.43" width="18.75" height="19.28" fill="#5ea4d4"/>
<rect x="1108.62" y="483.43" width="18.75" height="19.28" fill="#9bbdd4"/>
<rect x="1126.96" y="483.43" width="18.75" height="19.28" fill="#78b1d8"/>
<rect x="1145.31" y="483.43" width="18.75" height="19.28" fill="#5ea5d4"/>
<rect x="1163.65" y="483.43" width="18.75" height="19.28" fill="#66aad7"/>
<rect x="705" y="502.32" width="18.75" height="19.28" fill="#fcf8f5"/>
<rect x="723.35" y="502.32" width="18.75" height="19.28" fill="#ebdcc3"/>
<rect x="741.69" y="502.32" width="18.75" height="19.28" fill="#ddd5c4"/>
<rect x="760.04" y="502.32" width="18.75" height="19.28" fill="#9bbdd5"/>
<rect x="778.38" y="502.32" width="18.75" height="19.28" fill="#c0cacb"/>
<rect x="796.73" y="502.32" width="18.75" height="19.28" fill="#d2d1c6"/>
<rect x="815.08" y="502.32" width="18.75" height="19.28" fill="#eddec4"/>
<rect x="833.42" y="502.32" width="18.75" height="19.28" fill="#d9d3c5"/>
<rect x="851.77" y="502.32" width="18.75" height="19.28" fill="#cfcfc8"/>
<rect x="870.12" y="502.32" width="18.75" height="19.28" fill="#b6c8cf"/>
<rect x="888.46" y="502.32" width="18.75" height="19.28" fill="#bccacd"/>
<rect x="906.81" y="502.32" width="18.75" height="19.28" fill="#a3c0d3"/>
<rect x="925.15" y="502.32" width="18.75" height="19.28" fill="#62a6d5"/>
<rect x="943.5" y="502.32" width="18.75" height="19.28" fill="#08469a"/>
<rect x="961.85" y="502.32" width="18.75" height="19.28" fill="#4e97cc"/>
<rect x="980.19" y="502.32" width="18.75" height="19.28" fill="#4e97cc"/>
<rect x="998.54" y="502.32" width="18.75" height="19.28" fill="#5aa1d2"/>
<rect x="1016.88" y="502.32" width="18.75" height="19.28" fill="#4e97cc"/>
<rect x="1035.23" y="502.32" width="18.75" height="19.28" fill="#9ebdd4"/>
<rect x="1053.58" y="502.32" width="18.75" height="19.28" fill="#84b4d7"/>
<rect x="1071.92" y="502.32" width="18.75" height="19.28" fill="#9bbdd4"/>
<rect x="1090.27" y="502.32" width="18.75" height="19.28" fill="#66aad7"/>
<rect x="1108.62" y="502.32" width="18.75" height="19.28" fill="#92b9d5"/>
<rect x="1126.96" y="502.32" width="18.75" height="19.28" fill="#88b6d6"/>
<rect x="1145.31" y="502.32" width="18.75" height="19.28" fill="#66aad7"/>
<rect x="1163.65" y="502.32" width="18.75" height="19.28" fill="#92b9d5"/>
<rect x="705" y="521.2" width="18.75" height="19.28" fill="#faf0eb"/>
<rect x="723.35" y="521.2" width="18.75" height="19.28" fill="#ddd5c4"/>
<rect x="741.69" y="521.2" width="18.75" height="19.28" fill="#efdfc5"/>
<rect x="760.04" y="521.2" width="18.75" height="19.28" fill="#eddec4"/>
<rect x="778.38" y="521.2" width="18.75" height="19.28" fill="#dbd3c5"/>
<rect x="796.73" y="521.2" width="18.75" height="19.28" fill="#d4d1c6"/>
<rect x="815.08" y="521.2" width="18.75" height="19.28" fill="#eedec5"/>
<rect x="833.42" y="521.2" width="18.75" height="19.28" fill="#eddec5"/>
<rect x="851.77" y="521.2" width="18.75" height="19.28" fill="#ecdcc4"/>
<rect x="870.12" y="521.2" width="18.75" height="19.28" fill="#d4d2c6"/>
<rect x="888.46" y="521.2" width="18.75" height="19.28" fill="#dbd4c5"/>
<rect x="906.81" y="521.2" width="18.75" height="19.28" fill="#c6cbc9"/>
<rect x="925.15" y="521.2" width="18.75" height="19.28" fill="#08469a"/>
<rect x="943.5" y="521.2" width="18.75" height="19.28" fill="#66a9d7"/>
<rect x="961.85" y="521.2" width="18.75" height="19.28" fill="#5aa1d2"/>
<rect x="980.19" y="521.2" width="18.75" height="19.28" fill="#5aa1d2"/>
<rect x="998.54" y="521.2" width="18.75" height="19.28" fill="#5ea3d3"/>
<rect x="1016.88" y="521.2" width="18.75" height="19.28" fill="#5ea3d3"/>
<rect x="1035.23" y="521.2" width="18.75" height="19.28" fill="#c1cbcb"/>
<rect x="1053.58" y="521.2" width="18.75" height="19.28" fill="#a3c0d3"/>
<rect x="1071.92" y="521.2" width="18.75" height="19.28" fill="#b4c7cf"/>
<rect x="1090.27" y="521.2" width="18.75" height="19.28" fill="#92b9d5"/>
<rect x="1108.62" y="521.2" width="18.75" height="19.28" fill="#a8c2d2"/>
<rect x="1126.96" y="521.2" width="18.75" height="19.28" fill="#8cb8d6"/>
<rect x="1145.31" y="521.2" width="18.75" height="19.28" fill="#95bad5"/>
<rect x="1163.65" y="521.2" width="18.75" height="19.28" fill="#acc3d1"/>
<rect x="705" y="540.08" width="18.75" height="19.28" fill="#faf1ec"/>
<rect x="723.35" y="540.08" width="18.75" height="19.28" fill="#eddec4"/>
<rect x="741.69" y="540.08" width="18.75" height="19.28" fill="#e9dbc4"/>
<rect x="760.04" y="540.08" width="18.75" height="19.28" fill="#cfcfc8"/>
<rect x="778.38" y="540.08" width="18.75" height="19.28" fill="#d3d1c7"/>
<rect x="796.73" y="540.08" width="18.75" height="19.28" fill="#c5cbc9"/>
<rect x="815.08" y="540.08" width="18.75" height="19.28" fill="#eddec4"/>
<rect x="833.42" y="540.08" width="18.75" height="19.28" fill="#539bcf"/>
<rect x="851.77" y="540.08" width="18.75" height="19.28" fill="#4690c7"/>
<rect x="870.12" y="540.08" width="18.75" height="19.28" fill="#4a94ca"/>
<rect x="888.46" y="540.08" width="18.75" height="19.28" fill="#3b89c3"/>
<rect x="906.81" y="540.08" width="18.75" height="19.28" fill="#08469a"/>
<rect x="925.15" y="540.08" width="18.75" height="19.28" fill="#cfcfc8"/>
<rect x="943.5" y="540.08" width="18.75" height="19.28" fill="#a3c0d3"/>
<rect x="961.85" y="540.08" width="18.75" height="19.28" fill="#95bad5"/>
<rect x="980.19" y="540.08" width="18.75" height="19.28" fill="#6aacd8"/>
<rect x="998.54" y="540.08" width="18.75" height="19.28" fill="#bccacd"/>
<rect x="1016.88" y="540.08" width="18.75" height="19.28" fill="#a3c0d3"/>
<rect x="1035.23" y="540.08" width="18.75" height="19.28" fill="#a3c0d3"/>
<rect x="1053.58" y="540.08" width="18.75" height="19.28" fill="#66aad7"/>
<rect x="1071.92" y="540.08" width="18.75" height="19.28" fill="#74b0d9"/>
<rect x="1090.27" y="540.08" width="18.75" height="19.28" fill="#84b4d7"/>
<rect x="1108.62" y="540.08" width="18.75" height="19.28" fill="#b4c7cf"/>
<rect x="1126.96" y="540.08" width="18.75" height="19.28" fill="#8cb8d6"/>
<rect x="1145.31" y="540.08" width="18.75" height="19.28" fill="#5ea4d4"/>
<rect x="1163.65" y="540.08" width="18.75" height="19.28" fill="#6aacd8"/>
<rect x="705" y="558.97" width="18.75" height="19.28" fill="#fbf5f1"/>
<rect x="723.35" y="558.97" width="18.75" height="19.28" fill="#efe0c6"/>
<rect x="741.69" y="558.97" width="18.75" height="19.28" fill="#ecdcc5"/>
<rect x="760.04" y="558.97" width="18.75" height="19.28" fill="#e6dac6"/>
<rect x="778.38" y="558.97" width="18.75" height="19.28" fill="#e2d7c5"/>
<rect x="796.73" y="558.97" width="18.75" height="19.28" fill="#dad3c6"/>
<rect x="815.08" y="558.97" width="18.75" height="19.28" fill="#eee0c7"/>
<rect x="833.42" y="558.97" width="18.75" height="19.28" fill="#4e96cc"/>
<rect x="851.77" y="558.97" width="18.75" height="19.28" fill="#428dc6"/>
<rect x="870.12" y="558.97" width="18.75" height="19.28" fill="#4a94ca"/>
<rect x="888.46" y="558.97" width="18.75" height="19.28" fill="#08469a"/>
<rect x="906.81" y="558.97" width="18.75" height="19.28" fill="#3b89c3"/>
<rect x="925.15" y="558.97" width="18.75" height="19.28" fill="#dcd4c5"/>
<rect x="943.5" y="558.97" width="18.75" height="19.28" fill="#b8c8cf"/>
<rect x="961.85" y="558.97" width="18.75" height="19.28" fill="#b8c8cf"/>
<rect x="980.19" y="558.97" width="18.75" height="19.28" fill="#92b9d5"/>
<rect x="998.54" y="558.97" width="18.75" height="19.28" fill="#d8d3c6"/>
<rect x="1016.88" y="558.97" width="18.75" height="19.28" fill="#c6cbc9"/>
<rect x="1035.23" y="558.97" width="18.75" height="19.28" fill="#ccd0ca"/>
<rect x="1053.58" y="558.97" width="18.75" height="19.28" fill="#84b4d7"/>
<rect x="1071.92" y="558.97" width="18.75" height="19.28" fill="#9ebdd4"/>
<rect x="1090.27" y="558.97" width="18.75" height="19.28" fill="#a6c1d2"/>
<rect x="1108.62" y="558.97" width="18.75" height="19.28" fill="#ddd5c5"/>
<rect x="1126.96" y="558.97" width="18.75" height="19.28" fill="#b4c7cf"/>
<rect x="1145.31" y="558.97" width="18.75" height="19.28" fill="#68aad7"/>
<rect x="1163.65" y="558.97" width="18.75" height="19.28" fill="#92b9d5"/>
<rect x="705" y="577.85" width="18.75" height="19.28" fill="#fcf9f6"/>
<rect x="723.35" y="577.85" width="18.75" height="19.28" fill="#dbd4c5"/>
<rect x="741.69" y="577.85" width="18.75" height="19.28" fill="#eadcc5"/>
<rect x="760.04" y="577.85" width="18.75" height="19.28" fill="#cdcec8"/>
<rect x="778.38" y="577.85" width="18.75" height="19.28" fill="#cfcfc8"/>
<rect x="796.73" y="577.85" width="18.75" height="19.28" fill="#c6cbc9"/>
<rect x="815.08" y="577.85" width="18.75" height="19.28" fill="#eadcc5"/>
<rect x="833.42" y="577.85" width="18.75" height="19.28" fill="#589fd1"/>
<rect x="851.77" y="577.85" width="18.75" height="19.28" fill="#4a94ca"/>
<rect x="870.12" y="577.85" width="18.75" height="19.28" fill="#08469a"/>
<rect x="888.46" y="577.85" width="18.75" height="19.28" fill="#4e97cc"/>
<rect x="906.81" y="577.85" width="18.75" height="19.28" fill="#4a94ca"/>
<rect x="925.15" y="577.85" width="18.75" height="19.28" fill="#ccd0ca"/>
<rect x="943.5" y="577.85" width="18.75" height="19.28" fill="#a8c2d2"/>
<rect x="961.85" y="577.85" width="18.75" height="19.28" fill="#a1bfd3"/>
<rect x="980.19" y="577.85" width="18.75" height="19.28" fill="#7ab2d8"/>
<rect x="998.54" y="577.85" width="18.75" height="19.28" fill="#b8c8cf"/>
<rect x="1016.88" y="577.85" width="18.75" height="19.28" fill="#c6cbc9"/>
<rect x="1035.23" y="577.85" width="18.75" height="19.28" fill="#abc3d1"/>
<rect x="1053.58" y="577.85" width="18.75" height="19.28" fill="#64a8d6"/>
<rect x="1071.92" y="577.85" width="18.75" height="19.28" fill="#88b6d6"/>
<rect x="1090.27" y="577.85" width="18.75" height="19.28" fill="#6aacd8"/>
<rect x="1108.62" y="577.85" width="18.75" height="19.28" fill="#b8c8cf"/>
<rect x="1126.96" y="577.85" width="18.75" height="19.28" fill="#a3c0d3"/>
<rect x="1145.31" y="577.85" width="18.75" height="19.28" fill="#68aad7"/>
<rect x="1163.65" y="577.85" width="18.75" height="19.28" fill="#68aad7"/>
<rect x="705" y="596.74" width="18.75" height="19.28" fill="#fcfaf8"/>
<rect x="723.35" y="596.74" width="18.75" height="19.28" fill="#eddec5"/>
<rect x="741.69" y="596.74" width="18.75" height="19.28" fill="#ebdcc4"/>
<rect x="760.04" y="596.74" width="18.75" height="19.28" fill="#ebdcc4"/>
<rect x="778.38" y="596.74" width="18.75" height="19.28" fill="#d8d3c6"/>
<rect x="796.73" y="596.74" width="18.75" height="19.28" fill="#dfd6c5"/>
<rect x="815.08" y="596.74" width="18.75" height="19.28" fill="#efe0c6"/>
<rect x="833.42" y="596.74" width="18.75" height="19.28" fill="#3280c0"/>
<rect x="851.77" y="596.74" width="18.75" height="19.28" fill="#08469a"/>
<rect x="870.12" y="596.74" width="18.75" height="19.28" fill="#5aa1d2"/>
<rect x="888.46" y="596.74" width="18.75" height="19.28" fill="#4690c8"/>
<rect x="906.81" y="596.74" width="18.75" height="19.28" fill="#4690c8"/>
<rect x="925.15" y="596.74" width="18.75" height="19.28" fill="#ebdcc4"/>
<rect x="943.5" y="596.74" width="18.75" height="19.28" fill="#d1d1c8"/>
<rect x="961.85" y="596.74" width="18.75" height="19.28" fill="#c1cbcb"/>
<rect x="980.19" y="596.74" width="18.75" height="19.28" fill="#a1bfd3"/>
<rect x="998.54" y="596.74" width="18.75" height="19.28" fill="#ddd5c5"/>
<rect x="1016.88" y="596.74" width="18.75" height="19.28" fill="#d3d1c7"/>
<rect x="1035.23" y="596.74" width="18.75" height="19.28" fill="#cccfc9"/>
<rect x="1053.58" y="596.74" width="18.75" height="19.28" fill="#80b3d7"/>
<rect x="1071.92" y="596.74" width="18.75" height="19.28" fill="#a3c0d3"/>
<rect x="1090.27" y="596.74" width="18.75" height="19.28" fill="#a6c1d2"/>
<rect x="1108.62" y="596.74" width="18.75" height="19.28" fill="#ddd5c5"/>
<rect x="1126.96" y="596.74" width="18.75" height="19.28" fill="#c1cbcb"/>
<rect x="1145.31" y="596.74" width="18.75" height="19.28" fill="#6aacd8"/>
<rect x="1163.65" y="596.74" width="18.75" height="19.28" fill="#84b4d7"/>
<rect x="705" y="615.62" width="18.75" height="19.28" fill="#fdfaf8"/>
<rect x="723.35" y="615.62" width="18.75" height="19.28" fill="#efe0c6"/>
<rect x="741.69" y="615.62" width="18.75" height="19.28" fill="#ebdcc5"/>
<rect x="760.04" y="615.62" width="18.75" height="19.28" fill="#e3d9c6"/>
<rect x="778.38" y="615.62" width="18.75" height="19.28" fill="#e8dbc4"/>
<rect x="796.73" y="615.62" width="18.75" height="19.28" fill="#e0d7c6"/>
<rect x="815.08" y="615.62" width="18.75" height="19.28" fill="#efe0c6"/>
<rect x="833.42" y="615.62" width="18.75" height="19.28" fill="#08469a"/>
<rect x="851.77" y="615.62" width="18.75" height="19.28" fill="#3280c0"/>
<rect x="870.12" y="615.62" width="18.75" height="19.28" fill="#4e97cc"/>
<rect x="888.46" y="615.62" width="18.75" height="19.28" fill="#4690c8"/>
<rect x="906.81" y="615.62" width="18.75" height="19.28" fill="#4e97cc"/>
<rect x="925.15" y="615.62" width="18.75" height="19.28" fill="#eddec5"/>
<rect x="943.5" y="615.62" width="18.75" height="19.28" fill="#ddd5c5"/>
<rect x="961.85" y="615.62" width="18.75" height="19.28" fill="#ddd5c5"/>
<rect x="980.19" y="615.62" width="18.75" height="19.28" fill="#bfc9cb"/>
<rect x="998.54" y="615.62" width="18.75" height="19.28" fill="#e0d7c6"/>
<rect x="1016.88" y="615.62" width="18.75" height="19.28" fill="#e0d7c6"/>
<rect x="1035.23" y="615.62" width="18.75" height="19.28" fill="#c6cbc9"/>
<rect x="1053.58" y="615.62" width="18.75" height="19.28" fill="#9bbcd4"/>
<rect x="1071.92" y="615.62" width="18.75" height="19.28" fill="#88b6d6"/>
<rect x="1090.27" y="615.62" width="18.75" height="19.28" fill="#b8c8cf"/>
<rect x="1108.62" y="615.62" width="18.75" height="19.28" fill="#e3d9c6"/>
<rect x="1126.96" y="615.62" width="18.75" height="19.28" fill="#d8d3c6"/>
<rect x="1145.31" y="615.62" width="18.75" height="19.28" fill="#88b6d6"/>
<rect x="1163.65" y="615.62" width="18.75" height="19.28" fill="#b4c7cf"/>
<rect x="705" y="634.51" width="18.75" height="19.28" fill="#fcf8f6"/>
<rect x="723.35" y="634.51" width="18.75" height="19.28" fill="#dbd4c5"/>
<rect x="741.69" y="634.51" width="18.75" height="19.28" fill="#ecdcc5"/>
<rect x="760.04" y="634.51" width="18.75" height="19.28" fill="#e3d9c6"/>
<rect x="778.38" y="634.51" width="18.75" height="19.28" fill="#bbc9ce"/>
<rect x="796.73" y="634.51" width="18.75" height="19.28" fill="#98bbd5"/>
<rect x="815.08" y="634.51" width="18.75" height="19.28" fill="#08469a"/>
<rect x="833.42" y="634.51" width="18.75" height="19.28" fill="#efe0c6"/>
<rect x="851.77" y="634.51" width="18.75" height="19.28" fill="#efe0c6"/>
<rect x="870.12" y="634.51" width="18.75" height="19.28" fill="#efe0c6"/>
<rect x="888.46" y="634.51" width="18.75" height="19.28" fill="#f1e1c8"/>
<rect x="906.81" y="634.51" width="18.75" height="19.28" fill="#eddec5"/>
<rect x="925.15" y="634.51" width="18.75" height="19.28" fill="#eddec5"/>
<rect x="943.5" y="634.51" width="18.75" height="19.28" fill="#eddec5"/>
<rect x="961.85" y="634.51" width="18.75" height="19.28" fill="#eddec5"/>
<rect x="980.19" y="634.51" width="18.75" height="19.28" fill="#d8d3c6"/>
<rect x="998.54" y="634.51" width="18.75" height="19.28" fill="#efe0c6"/>
<rect x="1016.88" y="634.51" width="18.75" height="19.28" fill="#efe0c6"/>
<rect x="1035.23" y="634.51" width="18.75" height="19.28" fill="#b4c7cf"/>
<rect x="1053.58" y="634.51" width="18.75" height="19.28" fill="#c6cbc9"/>
<rect x="1071.92" y="634.51" width="18.75" height="19.28" fill="#cccfc9"/>
<rect x="1090.27" y="634.51" width="18.75" height="19.28" fill="#b4c7cf"/>
<rect x="1108.62" y="634.51" width="18.75" height="19.28" fill="#b4c7cf"/>
<rect x="1126.96" y="634.51" width="18.75" height="19.28" fill="#e3d9c6"/>
<rect x="1145.31" y="634.51" width="18.75" height="19.28" fill="#cccfc9"/>
<rect x="1163.65" y="634.51" width="18.75" height="19.28" fill="#c1cbcb"/>
<rect x="705" y="653.39" width="18.75" height="19.28" fill="#fbf4f1"/>
<rect x="723.35" y="653.39" width="18.75" height="19.28" fill="#eddec5"/>
<rect x="741.69" y="653.39" width="18.75" height="19.28" fill="#e0d7c5"/>
<rect x="760.04" y="653.39" width="18.75" height="19.28" fill="#dbd4c5"/>
<rect x="778.38" y="653.39" width="18.75" height="19.28" fill="#b4c7d0"/>
<rect x="796.73" y="653.39" width="18.75" height="19.28" fill="#08469a"/>
<rect x="815.08" y="653.39" width="18.75" height="19.28" fill="#98bbd5"/>
<rect x="833.42" y="653.39" width="18.75" height="19.28" fill="#dfd6c5"/>
<rect x="851.77" y="653.39" width="18.75" height="19.28" fill="#dfd6c5"/>
<rect x="870.12" y="653.39" width="18.75" height="19.28" fill="#bccacd"/>
<rect x="888.46" y="653.39" width="18.75" height="19.28" fill="#d4d1c6"/>
<rect x="906.81" y="653.39" width="18.75" height="19.28" fill="#bccacd"/>
<rect x="925.15" y="653.39" width="18.75" height="19.28" fill="#d4d1c6"/>
<rect x="943.5" y="653.39" width="18.75" height="19.28" fill="#d4d1c6"/>
<rect x="961.85" y="653.39" width="18.75" height="19.28" fill="#d4d1c6"/>
<rect x="980.19" y="653.39" width="18.75" height="19.28" fill="#a8c2d2"/>
<rect x="998.54" y="653.39" width="18.75" height="19.28" fill="#c6cbc9"/>
<rect x="1016.88" y="653.39" width="18.75" height="19.28" fill="#cfcfc8"/>
<rect x="1035.23" y="653.39" width="18.75" height="19.28" fill="#95bad5"/>
<rect x="1053.58" y="653.39" width="18.75" height="19.28" fill="#95bad5"/>
<rect x="1071.92" y="653.39" width="18.75" height="19.28" fill="#84b4d7"/>
<rect x="1090.27" y="653.39" width="18.75" height="19.28" fill="#84b4d7"/>
<rect x="1108.62" y="653.39" width="18.75" height="19.28" fill="#92b9d5"/>
<rect x="1126.96" y="653.39" width="18.75" height="19.28" fill="#cccfc9"/>
<rect x="1145.31" y="653.39" width="18.75" height="19.28" fill="#9bbcd4"/>
<rect x="1163.65" y="653.39" width="18.75" height="19.28" fill="#acc3d1"/>
<rect x="705" y="672.28" width="18.75" height="19.28" fill="#f6e8e0"/>
<rect x="723.35" y="672.28" width="18.75" height="19.28" fill="#eedfc5"/>
<rect x="741.69" y="672.28" width="18.75" height="19.28" fill="#eddec5"/>
<rect x="760.04" y="672.28" width="18.75" height="19.28" fill="#dcd4c5"/>
<rect x="778.38" y="672.28" width="18.75" height="19.28" fill="#08469a"/>
<rect x="796.73" y="672.28" width="18.75" height="19.28" fill="#b0c6d1"/>
<rect x="815.08" y="672.28" width="18.75" height="19.28" fill="#bac8ce"/>
<rect x="833.42" y="672.28" width="18.75" height="19.28" fill="#e8dbc5"/>
<rect x="851.77" y="672.28" width="18.75" height="19.28" fill="#dcd4c5"/>
<rect x="870.12" y="672.28" width="18.75" height="19.28" fill="#c6cbc9"/>
<rect x="888.46" y="672.28" width="18.75" height="19.28" fill="#dad3c6"/>
<rect x="906.81" y="672.28" width="18.75" height="19.28" fill="#cccfc9"/>
<rect x="925.15" y="672.28" width="18.75" height="19.28" fill="#d8d3c6"/>
<rect x="943.5" y="672.28" width="18.75" height="19.28" fill="#c6cbc9"/>
<rect x="961.85" y="672.28" width="18.75" height="19.28" fill="#e0d7c6"/>
<rect x="980.19" y="672.28" width="18.75" height="19.28" fill="#acc3d1"/>
<rect x="998.54" y="672.28" width="18.75" height="19.28" fill="#cccfc9"/>
<rect x="1016.88" y="672.28" width="18.75" height="19.28" fill="#cccfc9"/>
<rect x="1035.23" y="672.28" width="18.75" height="19.28" fill="#abc3d1"/>
<rect x="1053.58" y="672.28" width="18.75" height="19.28" fill="#9ebdd4"/>
<rect x="1071.92" y="672.28" width="18.75" height="19.28" fill="#b4c7cf"/>
<rect x="1090.27" y="672.28" width="18.75" height="19.28" fill="#92b9d5"/>
<rect x="1108.62" y="672.28" width="18.75" height="19.28" fill="#98bbd5"/>
<rect x="1126.96" y="672.28" width="18.75" height="19.28" fill="#c1cbcb"/>
<rect x="1145.31" y="672.28" width="18.75" height="19.28" fill="#b4c7cf"/>
<rect x="1163.65" y="672.28" width="18.75" height="19.28" fill="#b4c7cf"/>
<rect x="705" y="691.16" width="18.75" height="19.28" fill="#f8eee8"/>
<rect x="723.35" y="691.16" width="18.75" height="19.28" fill="#eddec5"/>
<rect x="741.69" y="691.16" width="18.75" height="19.28" fill="#9dbdd4"/>
<rect x="760.04" y="691.16" width="18.75" height="19.28" fill="#08469a"/>
<rect x="778.38" y="691.16" width="18.75" height="19.28" fill="#dbd4c5"/>
<rect x="796.73" y="691.16" width="18.75" height="19.28" fill="#dcd5c5"/>
<rect x="815.08" y="691.16" width="18.75" height="19.28" fill="#e3d9c6"/>
<rect x="833.42" y="691.16" width="18.75" height="19.28" fill="#e3d9c6"/>
<rect x="851.77" y="691.16" width="18.75" height="19.28" fill="#ebdcc5"/>
<rect x="870.12" y="691.16" width="18.75" height="19.28" fill="#c1cbcb"/>
<rect x="888.46" y="691.16" width="18.75" height="19.28" fill="#e0d7c6"/>
<rect x="906.81" y="691.16" width="18.75" height="19.28" fill="#c6cbc9"/>
<rect x="925.15" y="691.16" width="18.75" height="19.28" fill="#eddec5"/>
<rect x="943.5" y="691.16" width="18.75" height="19.28" fill="#9bbdd4"/>
<rect x="961.85" y="691.16" width="18.75" height="19.28" fill="#e3d9c6"/>
<rect x="980.19" y="691.16" width="18.75" height="19.28" fill="#bfc9cb"/>
<rect x="998.54" y="691.16" width="18.75" height="19.28" fill="#ebdcc5"/>
<rect x="1016.88" y="691.16" width="18.75" height="19.28" fill="#cccfc9"/>
<rect x="1035.23" y="691.16" width="18.75" height="19.28" fill="#abc3d1"/>
<rect x="1053.58" y="691.16" width="18.75" height="19.28" fill="#b4c7cf"/>
<rect x="1071.92" y="691.16" width="18.75" height="19.28" fill="#a3c0d3"/>
<rect x="1090.27" y="691.16" width="18.75" height="19.28" fill="#bccacd"/>
<rect x="1108.62" y="691.16" width="18.75" height="19.28" fill="#d4d1c6"/>
<rect x="1126.96" y="691.16" width="18.75" height="19.28" fill="#d8d3c6"/>
<rect x="1145.31" y="691.16" width="18.75" height="19.28" fill="#acc3d1"/>
<rect x="1163.65" y="691.16" width="18.75" height="19.28" fill="#bccacd"/>
<rect x="705" y="710.05" width="18.75" height="19.28" fill="#f5e7df"/>
<rect x="723.35" y="710.05" width="18.75" height="19.28" fill="#efe0c6"/>
<rect x="741.69" y="710.05" width="18.75" height="19.28" fill="#08469a"/>
<rect x="760.04" y="710.05" width="18.75" height="19.28" fill="#98bbd5"/>
<rect x="778.38" y="710.05" width="18.75" height="19.28" fill="#eedfc5"/>
<rect x="796.73" y="710.05" width="18.75" height="19.28" fill="#e3d9c6"/>
<rect x="815.08" y="710.05" width="18.75" height="19.28" fill="#efe0c6"/>
<rect x="833.42" y="710.05" width="18.75" height="19.28" fill="#ecdcc4"/>
<rect x="851.77" y="710.05" width="18.75" height="19.28" fill="#ebdcc5"/>
<rect x="870.12" y="710.05" width="18.75" height="19.28" fill="#ebdcc5"/>
<rect x="888.46" y="710.05" width="18.75" height="19.28" fill="#eddec5"/>
<rect x="906.81" y="710.05" width="18.75" height="19.28" fill="#e6dac5"/>
<rect x="925.15" y="710.05" width="18.75" height="19.28" fill="#efe0c6"/>
<rect x="943.5" y="710.05" width="18.75" height="19.28" fill="#e0d7c6"/>
<rect x="961.85" y="710.05" width="18.75" height="19.28" fill="#efe0c6"/>
<rect x="980.19" y="710.05" width="18.75" height="19.28" fill="#e8dbc5"/>
<rect x="998.54" y="710.05" width="18.75" height="19.28" fill="#efe0c6"/>
<rect x="1016.88" y="710.05" width="18.75" height="19.28" fill="#efe0c6"/>
<rect x="1035.23" y="710.05" width="18.75" height="19.28" fill="#c6cbc9"/>
<rect x="1053.58" y="710.05" width="18.75" height="19.28" fill="#e3d9c6"/>
<rect x="1071.92" y="710.05" width="18.75" height="19.28" fill="#bccacd"/>
<rect x="1090.27" y="710.05" width="18.75" height="19.28" fill="#d8d3c6"/>
<rect x="1108.62" y="710.05" width="18.75" height="19.28" fill="#efdfc5"/>
<rect x="1126.96" y="710.05" width="18.75" height="19.28" fill="#f0e0c6"/>
<rect x="1145.31" y="710.05" width="18.75" height="19.28" fill="#d4d1c6"/>
<rect x="1163.65" y="710.05" width="18.75" height="19.28" fill="#d8d3c6"/>
<rect x="705" y="728.93" width="18.75" height="19.28" fill="#faf1eb"/>
<rect x="723.35" y="728.93" width="18.75" height="19.28" fill="#08469a"/>
<rect x="741.69" y="728.93" width="18.75" height="19.28" fill="#efe0c6"/>
<rect x="760.04" y="728.93" width="18.75" height="19.28" fill="#eedfc5"/>
<rect x="778.38" y="728.93" width="18.75" height="19.28" fill="#eddec5"/>
<rect x="796.73" y="728.93" width="18.75" height="19.28" fill="#eddec5"/>
<rect x="815.08" y="728.93" width="18.75" height="19.28" fill="#e0d7c6"/>
<rect x="833.42" y="728.93" width="18.75" height="19.28" fill="#efe0c6"/>
<rect x="851.77" y="728.93" width="18.75" height="19.28" fill="#eedfc5"/>
<rect x="870.12" y="728.93" width="18.75" height="19.28" fill="#d8d3c6"/>
<rect x="888.46" y="728.93" width="18.75" height="19.28" fill="#efe0c6"/>
<rect x="906.81" y="728.93" width="18.75" height="19.28" fill="#ebdcc5"/>
<rect x="925.15" y="728.93" width="18.75" height="19.28" fill="#e0d7c6"/>
<rect x="943.5" y="728.93" width="18.75" height="19.28" fill="#ebdcc5"/>
<rect x="961.85" y="728.93" width="18.75" height="19.28" fill="#ddd5c5"/>
<rect x="980.19" y="728.93" width="18.75" height="19.28" fill="#c6cbc9"/>
<rect x="998.54" y="728.93" width="18.75" height="19.28" fill="#ebdcc5"/>
<rect x="1016.88" y="728.93" width="18.75" height="19.28" fill="#ebdcc5"/>
<rect x="1035.23" y="728.93" width="18.75" height="19.28" fill="#9bbcd4"/>
<rect x="1053.58" y="728.93" width="18.75" height="19.28" fill="#c6cbc9"/>
<rect x="1071.92" y="728.93" width="18.75" height="19.28" fill="#dcd5c5"/>
<rect x="1090.27" y="728.93" width="18.75" height="19.28" fill="#b0c6d1"/>
<rect x="1108.62" y="728.93" width="18.75" height="19.28" fill="#b0c6d1"/>
<rect x="1126.96" y="728.93" width="18.75" height="19.28" fill="#6eaed9"/>
<rect x="1145.31" y="728.93" width="18.75" height="19.28" fill="#80b3d7"/>
<rect x="1163.65" y="728.93" width="18.75" height="19.28" fill="#5ea3d3"/>
<rect x="705" y="747.82" width="18.75" height="19.28" fill="#08469a"/>
<rect x="723.35" y="747.82" width="18.75" height="19.28" fill="#f7ece5"/>
<rect x="741.69" y="747.82" width="18.75" height="19.28" fill="#f5e7df"/>
<rect x="760.04" y="747.82" width="18.75" height="19.28" fill="#f6eae3"/>
<rect x="778.38" y="747.82" width="18.75" height="19.28" fill="#f6e8e0"/>
<rect x="796.73" y="747.82" width="18.75" height="19.28" fill="#fbf4f1"/>
<rect x="815.08" y="747.82" width="18.75" height="19.28" fill="#fbf6f3"/>
<rect x="833.42" y="747.82" width="18.75" height="19.28" fill="#fcf9f6"/>
<rect x="851.77" y="747.82" width="18.75" height="19.28" fill="#fefdfc"/>
<rect x="870.12" y="747.82" width="18.75" height="19.28" fill="#fcf9f7"/>
<rect x="888.46" y="747.82" width="18.75" height="19.28" fill="#faf5f2"/>
<rect x="906.81" y="747.82" width="18.75" height="19.28" fill="#f9f0eb"/>
<rect x="925.15" y="747.82" width="18.75" height="19.28" fill="#f9f2ed"/>
<rect x="943.5" y="747.82" width="18.75" height="19.28" fill="#fefdfc"/>
<rect x="961.85" y="747.82" width="18.75" height="19.28" fill="#ffffff"/>
<rect x="980.19" y="747.82" width="18.75" height="19.28" fill="#fefefe"/>
<rect x="998.54" y="747.82" width="18.75" height="19.28" fill="#ffffff"/>
<rect x="1016.88" y="747.82" width="18.75" height="19.28" fill="#ffffff"/>
<rect x="1035.23" y="747.82" width="18.75" height="19.28" fill="#f8eee8"/>
<rect x="1053.58" y="747.82" width="18.75" height="19.28" fill="#f9f1ec"/>
<rect x="1071.92" y="747.82" width="18.75" height="19.28" fill="#f5e5d9"/>
<rect x="1090.27" y="747.82" width="18.75" height="19.28" fill="#fcf9f6"/>
<rect x="1108.62" y="747.82" width="18.75" height="19.28" fill="#fcf5f2"/>
<rect x="1126.96" y="747.82" width="18.75" height="19.28" fill="#fcf4f0"/>
<rect x="1145.31" y="747.82" width="18.75" height="19.28" fill="#fdfaf8"/>
<rect x="1163.65" y="747.82" width="18.75" height="19.28" fill="#fdfaf8"/>
<rect x="705" y="254.0" width="18.35" height="19.8" fill="#fdc03a" stroke="#555" stroke-width="0.4"/>
<rect x="723.35" y="254.0" width="18.35" height="19.8" fill="#a6d854" stroke="#555" stroke-width="0.4"/>
<rect x="741.69" y="254.0" width="18.35" height="19.8" fill="#fc8d62" stroke="#555" stroke-width="0.4"/>
<rect x="760.04" y="254.0" width="18.35" height="19.8" fill="#fc8d62" stroke="#555" stroke-width="0.4"/>
<rect x="778.38" y="254.0" width="18.35" height="19.8" fill="#a6d854" stroke="#555" stroke-width="0.4"/>
<rect x="796.73" y="254.0" width="18.35" height="19.8" fill="#a6d854" stroke="#555" stroke-width="0.4"/>
<rect x="815.08" y="254.0" width="18.35" height="19.8" fill="#a6d854" stroke="#555" stroke-width="0.4"/>
<rect x="833.42" y="254.0" width="18.35" height="19.8" fill="#8da0cb" stroke="#555" stroke-width="0.4"/>
<rect x="851.77" y="254.0" width="18.35" height="19.8" fill="#8da0cb" stroke="#555" stroke-width="0.4"/>
<rect x="870.12" y="254.0" width="18.35" height="19.8" fill="#8da0cb" stroke="#555" stroke-width="0.4"/>
<rect x="888.46" y="254.0" width="18.35" height="19.8" fill="#8da0cb" stroke="#555" stroke-width="0.4"/>
<rect x="906.81" y="254.0" width="18.35" height="19.8" fill="#8da0cb" stroke="#555" stroke-width="0.4"/>
<rect x="925.15" y="254.0" width="18.35" height="19.8" fill="#e78ac3" stroke="#555" stroke-width="0.4"/>
<rect x="943.5" y="254.0" width="18.35" height="19.8" fill="#e78ac3" stroke="#555" stroke-width="0.4"/>
<rect x="961.85" y="254.0" width="18.35" height="19.8" fill="#e78ac3" stroke="#555" stroke-width="0.4"/>
<rect x="980.19" y="254.0" width="18.35" height="19.8" fill="#e78ac3" stroke="#555" stroke-width="0.4"/>
<rect x="998.54" y="254.0" width="18.35" height="19.8" fill="#e78ac3" stroke="#555" stroke-width="0.4"/>
<rect x="1016.88" y="254.0" width="18.35" height="19.8" fill="#e78ac3" stroke="#555" stroke-width="0.4"/>
<rect x="1035.23" y="254.0" width="18.35" height="19.8" fill="#a6d854" stroke="#555" stroke-width="0.4"/>
<rect x="1053.58" y="254.0" width="18.35" height="19.8" fill="#a6d854" stroke="#555" stroke-width="0.4"/>
<rect x="1071.92" y="254.0" width="18.35" height="19.8" fill="#a6d854" stroke="#555" stroke-width="0.4"/>
<rect x="1090.27" y="254.0" width="18.35" height="19.8" fill="#66c2a5" stroke="#555" stroke-width="0.4"/>
<rect x="1108.62" y="254.0" width="18.35" height="19.8" fill="#66c2a5" stroke="#555" stroke-width="0.4"/>
<rect x="1126.96" y="254.0" width="18.35" height="19.8" fill="#a6d854" stroke="#555" stroke-width="0.4"/>
<rect x="1145.31" y="254.0" width="18.35" height="19.8" fill="#a6d854" stroke="#555" stroke-width="0.4"/>
<rect x="1163.65" y="254.0" width="18.35" height="19.8" fill="#a6d854" stroke="#555" stroke-width="0.4"/>
<text x="703.4" y="270" text-anchor="end" font-size="14" fill="#111" stroke="#111" stroke-width="0.22">tissue</text>
<text transform="translate(723.07,778.6) rotate(-54)" text-anchor="end" font-size="14.9" fill="#333" stroke="#333" stroke-width="0.22">TESTIS</text>
<text transform="translate(741.42,778.6) rotate(-54)" text-anchor="end" font-size="14.9" fill="#333" stroke="#333" stroke-width="0.22">BLOOD</text>
<text transform="translate(759.77,778.6) rotate(-54)" text-anchor="end" font-size="14.9" fill="#333" stroke="#333" stroke-width="0.22">HEART</text>
<text transform="translate(778.11,778.6) rotate(-54)" text-anchor="end" font-size="14.9" fill="#333" stroke="#333" stroke-width="0.22">MUSCLE</text>
<text transform="translate(796.46,778.6) rotate(-54)" text-anchor="end" font-size="14.9" fill="#333" stroke="#333" stroke-width="0.22">PANCREAS</text>
<text transform="translate(814.8,778.6) rotate(-54)" text-anchor="end" font-size="14.9" fill="#333" stroke="#333" stroke-width="0.22">KIDNEY</text>
<text transform="translate(833.15,778.6) rotate(-54)" text-anchor="end" font-size="14.9" fill="#333" stroke="#333" stroke-width="0.22">LIVER</text>
<text transform="translate(851.5,778.6) rotate(-54)" text-anchor="end" font-size="14.9" fill="#333" stroke="#333" stroke-width="0.22">BRAIN</text>
<text transform="translate(869.84,778.6) rotate(-54)" text-anchor="end" font-size="14.9" fill="#333" stroke="#333" stroke-width="0.22">CORTEX</text>
<text transform="translate(888.19,778.6) rotate(-54)" text-anchor="end" font-size="14.9" fill="#333" stroke="#333" stroke-width="0.22">CEREBELLUM</text>
<text transform="translate(906.53,778.6) rotate(-54)" text-anchor="end" font-size="14.9" fill="#333" stroke="#333" stroke-width="0.22">OLFACTORY_BULB</text>
<text transform="translate(924.88,778.6) rotate(-54)" text-anchor="end" font-size="14.9" fill="#333" stroke="#333" stroke-width="0.22">SPINAL_CORD</text>
<text transform="translate(943.23,778.6) rotate(-54)" text-anchor="end" font-size="14.9" fill="#333" stroke="#333" stroke-width="0.22">KERATINOCYTE</text>
<text transform="translate(961.57,778.6) rotate(-54)" text-anchor="end" font-size="14.9" fill="#333" stroke="#333" stroke-width="0.22">MUCOSAL</text>
<text transform="translate(979.92,778.6) rotate(-54)" text-anchor="end" font-size="14.9" fill="#333" stroke="#333" stroke-width="0.22">NASAL_PLANUM</text>
<text transform="translate(998.27,778.6) rotate(-54)" text-anchor="end" font-size="14.9" fill="#333" stroke="#333" stroke-width="0.22">MAMMARY_GLAND</text>
<text transform="translate(1016.61,778.6) rotate(-54)" text-anchor="end" font-size="14.9" fill="#333" stroke="#333" stroke-width="0.22">HAIR_FOLLICLE</text>
<text transform="translate(1034.96,778.6) rotate(-54)" text-anchor="end" font-size="14.9" fill="#333" stroke="#333" stroke-width="0.22">SKIN</text>
<text transform="translate(1053.3,778.6) rotate(-54)" text-anchor="end" font-size="14.9" fill="#333" stroke="#333" stroke-width="0.22">LUNG</text>
<text transform="translate(1071.65,778.6) rotate(-54)" text-anchor="end" font-size="14.9" fill="#333" stroke="#333" stroke-width="0.22">ADRENAL_GLAND</text>
<text transform="translate(1090,778.6) rotate(-54)" text-anchor="end" font-size="14.9" fill="#333" stroke="#333" stroke-width="0.22">OVARY</text>
<text transform="translate(1108.34,778.6) rotate(-54)" text-anchor="end" font-size="14.9" fill="#333" stroke="#333" stroke-width="0.22">GUT_COLON</text>
<text transform="translate(1126.69,778.6) rotate(-54)" text-anchor="end" font-size="14.9" fill="#333" stroke="#333" stroke-width="0.22">JEJUNUM</text>
<text transform="translate(1145.03,778.6) rotate(-54)" text-anchor="end" font-size="14.9" fill="#333" stroke="#333" stroke-width="0.22">THYMUS</text>
<text transform="translate(1163.38,778.6) rotate(-54)" text-anchor="end" font-size="14.9" fill="#333" stroke="#333" stroke-width="0.22">RETINA</text>
<text transform="translate(1181.73,778.6) rotate(-54)" text-anchor="end" font-size="14.9" fill="#333" stroke="#333" stroke-width="0.22">SPLEEN</text>
<path d="M714.17 253.5L714.17 105 M714.17 105L852.8 105 M852.8 105L852.8 204.3 M756.5 215L756.5 204.3 M756.5 204.3L949.1 204.3 M949.1 204.3L949.1 208.8 M732.52 253.5L732.52 215 M732.52 215L780.5 215 M780.5 215L780.5 218 M760.1 225.2L760.1 218 M760.1 218L801.4 218 M801.4 218L801.4 222.9 M750.87 253.5L750.87 225.2 M750.87 225.2L769.21 225.2 M769.21 225.2L769.21 253.5 M787.56 253.5L787.56 222.9 M787.56 222.9L815 222.9 M815 222.9L815 224.2 M805.9 253.5L805.9 224.2 M805.9 224.2L824.25 224.2 M824.25 224.2L824.25 253.5 M872.7 230.4L872.7 208.8 M872.7 208.8L1026.4 208.8 M1026.4 208.8L1026.4 219.4 M852 240.8L852 230.4 M852 230.4L893.3 230.4 M893.3 230.4L893.3 233.75 M842.6 253.5L842.6 240.8 M842.6 240.8L860.94 240.8 M860.94 240.8L860.94 253.5 M879.29 253.5L879.29 233.75 M879.29 233.75L906.9 233.75 M906.9 233.75L906.9 238.75 M897.63 253.5L897.63 238.75 M897.63 238.75L915.98 238.75 M915.98 238.75L915.98 253.5 M958.6 225.9L958.6 219.4 M958.6 219.4L1094 219.4 M1094 219.4L1094 224.4 M934.33 253.5L934.33 225.9 M934.33 225.9L982.4 225.9 M982.4 225.9L982.4 230.9 M962 235.3L962 230.9 M962 230.9L1003.4 230.9 M1003.4 230.9L1003.4 232 M952.67 253.5L952.67 235.3 M952.67 235.3L971.02 235.3 M971.02 235.3L971.02 253.5 M989.37 253.5L989.37 232 M989.37 232L1017 232 M1017 232L1017 238.9 M1007.71 253.5L1007.71 238.9 M1007.71 238.9L1026.06 238.9 M1026.06 238.9L1026.06 253.5 M1058.3 227.2L1058.3 224.4 M1058.3 224.4L1129.5 224.4 M1129.5 224.4L1129.5 225.9 M1044.4 253.5L1044.4 227.2 M1044.4 227.2L1071.9 227.2 M1071.9 227.2L1071.9 232 M1062.75 253.5L1062.75 232 M1062.75 232L1081.1 232 M1081.1 232L1081.1 253.5 M1108.8 235.7L1108.8 225.9 M1108.8 225.9L1150.3 225.9 M1150.3 225.9L1150.3 229.8 M1099.44 253.5L1099.44 235.7 M1099.44 235.7L1117.79 235.7 M1117.79 235.7L1117.79 253.5 M1136.13 253.5L1136.13 229.8 M1136.13 229.8L1164 229.8 M1164 229.8L1164 236.1 M1154.48 253.5L1154.48 236.1 M1154.48 236.1L1172.83 236.1 M1172.83 236.1L1172.83 253.5" stroke="#000" stroke-width="1.3" fill="none" stroke-linecap="square"/>
<defs><linearGradient id="g" x1="0" y1="1" x2="0" y2="0"><stop offset="0" stop-color="#fdfaf8"/><stop offset="0.104" stop-color="#f1e2da"/><stop offset="0.22" stop-color="#f3e6e0"/><stop offset="0.311" stop-color="#fbeada"/><stop offset="0.363" stop-color="#f9e6cf"/><stop offset="0.466" stop-color="#efdfc4"/><stop offset="0.518" stop-color="#cfcabe"/><stop offset="0.57" stop-color="#9ab8cc"/><stop offset="0.635" stop-color="#5ea0cf"/><stop offset="0.719" stop-color="#3f8fc8"/><stop offset="0.79" stop-color="#2f7fbe"/><stop offset="0.894" stop-color="#1d5fa8"/><stop offset="0.971" stop-color="#0d4592"/><stop offset="1" stop-color="#0b4390"/></linearGradient></defs>
<rect x="864.6" y="92.9" width="18.1" height="90.4" fill="url(#g)"/>
<line x1="864.6" x2="868" y1="95.8" y2="95.8" stroke="#fff" stroke-width="0.6"/>
<line x1="879.3" x2="882.7" y1="95.8" y2="95.8" stroke="#fff" stroke-width="0.6"/>
<text x="887.3" y="100.5" font-size="13" fill="#111" stroke="#111" stroke-width="0.22">1.00</text>
<line x1="864.6" x2="868" y1="118.37" y2="118.37" stroke="#fff" stroke-width="0.6"/>
<line x1="879.3" x2="882.7" y1="118.37" y2="118.37" stroke="#fff" stroke-width="0.6"/>
<text x="887.3" y="123.07" font-size="13" fill="#111" stroke="#111" stroke-width="0.22">0.75</text>
<line x1="864.6" x2="868" y1="140.93" y2="140.93" stroke="#fff" stroke-width="0.6"/>
<line x1="879.3" x2="882.7" y1="140.93" y2="140.93" stroke="#fff" stroke-width="0.6"/>
<text x="887.3" y="145.63" font-size="13" fill="#111" stroke="#111" stroke-width="0.22">0.50</text>
<line x1="864.6" x2="868" y1="163.5" y2="163.5" stroke="#fff" stroke-width="0.6"/>
<line x1="879.3" x2="882.7" y1="163.5" y2="163.5" stroke="#fff" stroke-width="0.6"/>
<text x="887.3" y="168.2" font-size="13" fill="#111" stroke="#111" stroke-width="0.22">0.25</text>
<text x="868" y="81.8" font-size="15" fill="#111" stroke="#111" stroke-width="0.22">Spearman rho</text>
<text x="984.2" y="81.8" font-size="15" fill="#111" stroke="#111" stroke-width="0.22">Anatomical system</text>
<rect x="980" y="96.1" width="13.9" height="14.15" fill="#66c2a5" stroke="#888" stroke-width="0.4"/>
<text x="996.7" y="107.8" font-size="13.8" fill="#111" stroke="#111" stroke-width="0.22">DIGESTIVE<tspan dy="-1.1">_</tspan><tspan dy="1.1">SYSTEM</tspan></text>
<rect x="980" y="110.25" width="13.9" height="14.15" fill="#e78ac3" stroke="#888" stroke-width="0.4"/>
<text x="996.7" y="121.95" font-size="13.8" fill="#111" stroke="#111" stroke-width="0.22">INTEGUMENTAL<tspan dy="-1.1">_</tspan><tspan dy="1.1">SYSTEM</tspan></text>
<rect x="980" y="124.4" width="13.9" height="14.15" fill="#fc8d62" stroke="#888" stroke-width="0.4"/>
<text x="996.7" y="136.1" font-size="13.8" fill="#111" stroke="#111" stroke-width="0.22">MUSCULOSKELETAL<tspan dy="-1.1">_</tspan><tspan dy="1.1">SYSTEM</tspan></text>
<rect x="980" y="138.55" width="13.9" height="14.15" fill="#8da0cb" stroke="#888" stroke-width="0.4"/>
<text x="996.7" y="150.25" font-size="13.8" fill="#111" stroke="#111" stroke-width="0.22">NERVOUS<tspan dy="-1.1">_</tspan><tspan dy="1.1">SYSTEM</tspan></text>
<rect x="980" y="152.7" width="13.9" height="14.15" fill="#fdc03a" stroke="#888" stroke-width="0.4"/>
<text x="996.7" y="164.4" font-size="13.8" fill="#111" stroke="#111" stroke-width="0.22">TESTIS</text>
<rect x="980" y="166.85" width="13.9" height="14.15" fill="#a6d854" stroke="#888" stroke-width="0.4"/>
<text x="996.7" y="178.55" font-size="13.8" fill="#111" stroke="#111" stroke-width="0.22">UNMAPPED</text>
<text x="682.3" y="86.2" font-size="31" fill="#000" stroke="#000" stroke-width="0.3">c</text>
</svg></body></html>
